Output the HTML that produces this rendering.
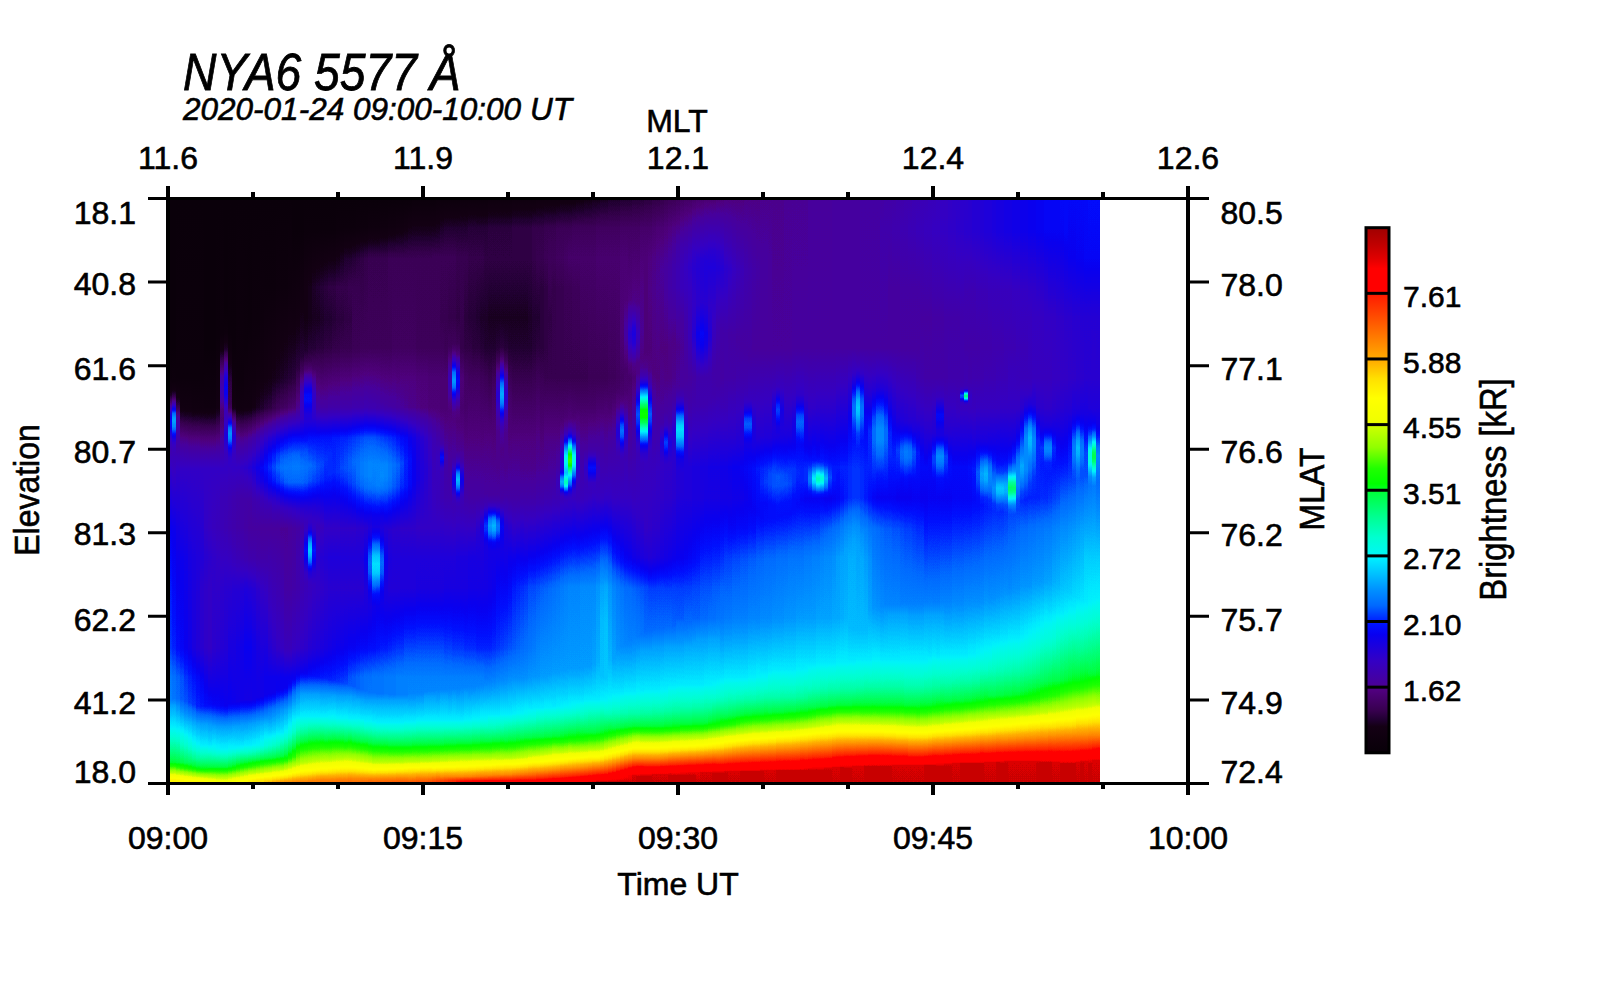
<!DOCTYPE html>
<html><head><meta charset="utf-8"><style>
html,body{margin:0;padding:0;background:#fff;width:1600px;height:1000px;overflow:hidden}
svg{position:absolute;left:0;top:0;display:block}
.t{font-family:"Liberation Sans",sans-serif;fill:#000;stroke:#000;stroke-width:0.6px}
.title{font-size:51.4px;font-style:italic;stroke:#000;stroke-width:0.8px}
.sub{font-size:32px;font-style:italic}
.ax{font-size:32px}
.cb{font-size:30px}
</style></head><body>
<svg width="1600" height="1000" viewBox="0 0 1600 1000" shape-rendering="crispEdges">
<defs><filter id="cm" x="0" y="0" width="1" height="1" color-interpolation-filters="sRGB"><feComponentTransfer><feFuncR type="table" tableValues="0.031 0.039 0.046 0.053 0.061 0.068 0.075 0.096 0.125 0.165 0.204 0.231 0.251 0.271 0.29 0.31 0.298 0.28 0.266 0.252 0.238 0.224 0.21 0.188 0.161 0.134 0.107 0.08 0.053 0.029 0.016 0.003 0 0 0 0 0 0 0 0 0 0 0 0 0 0 0 0 0 0 0 0 0 0 0 0 0 0 0 0 0 0 0 0 0 0 0.014 0.048 0.082 0.116 0.187 0.273 0.359 0.445 0.53 0.592 0.638 0.684 0.729 0.775 0.863 0.943 0.954 0.964 0.975 0.985 0.996 1 1 1 1 1 1 1 1 1 1 1 1 1 1 1 1 1 1 1 1 1 1 1 1 1 1 1 1 1 1 1 1 1 1 1 0.933 0.784 0.784 0.784 0.784 0.784 0.784"/><feFuncG type="table" tableValues="0 0 0 0 0 0 0 0 0 0 0 0 0 0 0 0 0 0 0 0 0 0 0 0 0 0 0 0 0 0.005 0.031 0.058 0.12 0.191 0.268 0.344 0.414 0.455 0.496 0.537 0.58 0.629 0.678 0.727 0.776 0.823 0.87 0.917 0.953 0.974 0.982 0.989 0.996 1 1 1 1 1 1 1 1 1 1 1 1 1 1 1 1 1 1 1 1 1 1 1 1 1 1 1 1 1 1 1 1 1 1 0.985 0.959 0.934 0.909 0.883 0.841 0.794 0.747 0.7 0.666 0.636 0.601 0.565 0.529 0.492 0.456 0.419 0.382 0.346 0.309 0.273 0.238 0.203 0.168 0.132 0.068 0 0 0 0 0 0 0 0 0 0 0 0 0 0 0 0"/><feFuncB type="table" tableValues="0.031 0.039 0.046 0.053 0.061 0.068 0.075 0.12 0.188 0.241 0.293 0.336 0.374 0.411 0.449 0.487 0.549 0.61 0.639 0.669 0.698 0.727 0.757 0.785 0.812 0.839 0.866 0.893 0.92 0.946 0.971 0.995 1 1 1 1 1 1 1 1 1 1 1 1 1 1 1 1 0.978 0.934 0.9 0.866 0.832 0.79 0.741 0.692 0.643 0.594 0.542 0.486 0.43 0.374 0.318 0.262 0.167 0.063 0 0 0 0 0 0 0 0 0 0 0 0 0 0 0 0 0 0 0 0 0 0 0 0 0 0 0 0 0 0 0 0 0 0 0 0 0 0 0 0 0 0 0 0 0 0 0 0 0 0 0 0 0 0 0 0 0 0 0 0 0 0 0"/></feComponentTransfer></filter><linearGradient id="c0" x2="0" y2="1"><stop offset="0.002551" stop-color="#030303"/><stop offset="0.256" stop-color="#030303"/><stop offset="0.3087" stop-color="#050505"/><stop offset="0.3257" stop-color="#090909"/><stop offset="0.3376" stop-color="#0f0f0f"/><stop offset="0.3495" stop-color="#1b1b1b"/><stop offset="0.3699" stop-color="#353535"/><stop offset="0.3818" stop-color="#3c3c3c"/><stop offset="0.3903" stop-color="#3a3a3a"/><stop offset="0.4175" stop-color="#2a2a2a"/><stop offset="0.4328" stop-color="#272727"/><stop offset="0.4617" stop-color="#2d2d2d"/><stop offset="0.5638" stop-color="#393939"/><stop offset="0.6641" stop-color="#3f3f3f"/><stop offset="0.7662" stop-color="#424242"/><stop offset="0.8172" stop-color="#4b4b4b"/><stop offset="0.8546" stop-color="#4c4c4c"/><stop offset="0.8648" stop-color="#525252"/><stop offset="0.9022" stop-color="#5f5f5f"/><stop offset="0.9617" stop-color="#7f7f7f"/><stop offset="0.9906" stop-color="#afafaf"/><stop offset="0.9974" stop-color="#afafaf"/></linearGradient><linearGradient id="c1" x2="0" y2="1"><stop offset="0.002551" stop-color="#030303"/><stop offset="0.256" stop-color="#030303"/><stop offset="0.3138" stop-color="#060606"/><stop offset="0.3274" stop-color="#0b0b0b"/><stop offset="0.3393" stop-color="#151515"/><stop offset="0.3495" stop-color="#242424"/><stop offset="0.3682" stop-color="#484848"/><stop offset="0.375" stop-color="#505050"/><stop offset="0.3801" stop-color="#525252"/><stop offset="0.3903" stop-color="#4e4e4e"/><stop offset="0.4073" stop-color="#383838"/><stop offset="0.4175" stop-color="#2e2e2e"/><stop offset="0.426" stop-color="#2a2a2a"/><stop offset="0.4345" stop-color="#282828"/><stop offset="0.5638" stop-color="#383838"/><stop offset="0.7662" stop-color="#404040"/><stop offset="0.8172" stop-color="#494949"/><stop offset="0.8529" stop-color="#4a4a4a"/><stop offset="0.8648" stop-color="#525252"/><stop offset="0.9022" stop-color="#5f5f5f"/><stop offset="0.9617" stop-color="#7f7f7f"/><stop offset="0.9906" stop-color="#afafaf"/><stop offset="0.9974" stop-color="#afafaf"/></linearGradient><linearGradient id="c2" x2="0" y2="1"><stop offset="0.002551" stop-color="#030303"/><stop offset="0.307" stop-color="#050505"/><stop offset="0.341" stop-color="#0c0c0c"/><stop offset="0.358" stop-color="#151515"/><stop offset="0.3733" stop-color="#212121"/><stop offset="0.3869" stop-color="#252525"/><stop offset="0.4243" stop-color="#252525"/><stop offset="0.4617" stop-color="#2d2d2d"/><stop offset="0.5638" stop-color="#363636"/><stop offset="0.7662" stop-color="#3d3d3d"/><stop offset="0.8172" stop-color="#474747"/><stop offset="0.8529" stop-color="#484848"/><stop offset="0.8648" stop-color="#4f4f4f"/><stop offset="0.9022" stop-color="#5e5e5e"/><stop offset="0.9617" stop-color="#7e7e7e"/><stop offset="0.9719" stop-color="#8d8d8d"/><stop offset="0.9906" stop-color="#aeaeae"/><stop offset="0.9974" stop-color="#afafaf"/></linearGradient><linearGradient id="c3" x2="0" y2="1"><stop offset="0.002551" stop-color="#030303"/><stop offset="0.3087" stop-color="#050505"/><stop offset="0.358" stop-color="#0a0a0a"/><stop offset="0.409" stop-color="#1f1f1f"/><stop offset="0.4617" stop-color="#2d2d2d"/><stop offset="0.6131" stop-color="#383838"/><stop offset="0.7662" stop-color="#3b3b3b"/><stop offset="0.8172" stop-color="#454545"/><stop offset="0.8546" stop-color="#464646"/><stop offset="0.9311" stop-color="#6a6a6a"/><stop offset="0.9617" stop-color="#7d7d7d"/><stop offset="0.9719" stop-color="#8b8b8b"/><stop offset="0.9906" stop-color="#adadad"/><stop offset="0.9974" stop-color="#afafaf"/></linearGradient><linearGradient id="c4" x2="0" y2="1"><stop offset="0.002551" stop-color="#030303"/><stop offset="0.3087" stop-color="#050505"/><stop offset="0.3597" stop-color="#0a0a0a"/><stop offset="0.4107" stop-color="#1f1f1f"/><stop offset="0.4617" stop-color="#2d2d2d"/><stop offset="0.6131" stop-color="#373737"/><stop offset="0.7662" stop-color="#393939"/><stop offset="0.8172" stop-color="#424242"/><stop offset="0.858" stop-color="#454545"/><stop offset="0.9311" stop-color="#686868"/><stop offset="0.9617" stop-color="#7b7b7b"/><stop offset="0.9719" stop-color="#898989"/><stop offset="0.9906" stop-color="#ababab"/><stop offset="0.9974" stop-color="#afafaf"/></linearGradient><linearGradient id="c5" x2="0" y2="1"><stop offset="0.002551" stop-color="#030303"/><stop offset="0.3087" stop-color="#050505"/><stop offset="0.3597" stop-color="#0a0a0a"/><stop offset="0.4107" stop-color="#1e1e1e"/><stop offset="0.4617" stop-color="#2d2d2d"/><stop offset="0.6131" stop-color="#353535"/><stop offset="0.7662" stop-color="#373737"/><stop offset="0.8172" stop-color="#404040"/><stop offset="0.8597" stop-color="#434343"/><stop offset="0.8937" stop-color="#555555"/><stop offset="0.9311" stop-color="#656565"/><stop offset="0.9617" stop-color="#7a7a7a"/><stop offset="0.9719" stop-color="#878787"/><stop offset="0.9906" stop-color="#aaaaaa"/><stop offset="0.994" stop-color="#aeaeae"/><stop offset="0.9974" stop-color="#afafaf"/></linearGradient><linearGradient id="c6" x2="0" y2="1"><stop offset="0.002551" stop-color="#030303"/><stop offset="0.3087" stop-color="#050505"/><stop offset="0.3597" stop-color="#090909"/><stop offset="0.4107" stop-color="#1e1e1e"/><stop offset="0.4617" stop-color="#2d2d2d"/><stop offset="0.6131" stop-color="#343434"/><stop offset="0.7662" stop-color="#343434"/><stop offset="0.8172" stop-color="#3e3e3e"/><stop offset="0.8631" stop-color="#424242"/><stop offset="0.8937" stop-color="#535353"/><stop offset="0.9311" stop-color="#626262"/><stop offset="0.9549" stop-color="#737373"/><stop offset="0.9702" stop-color="#828282"/><stop offset="0.9906" stop-color="#a8a8a8"/><stop offset="0.994" stop-color="#aeaeae"/><stop offset="0.9974" stop-color="#afafaf"/></linearGradient><linearGradient id="c7" x2="0" y2="1"><stop offset="0.002551" stop-color="#030303"/><stop offset="0.3087" stop-color="#050505"/><stop offset="0.3597" stop-color="#090909"/><stop offset="0.4107" stop-color="#1e1e1e"/><stop offset="0.4617" stop-color="#2d2d2d"/><stop offset="0.6131" stop-color="#333333"/><stop offset="0.7662" stop-color="#323232"/><stop offset="0.8172" stop-color="#3c3c3c"/><stop offset="0.8665" stop-color="#404040"/><stop offset="0.8954" stop-color="#525252"/><stop offset="0.9311" stop-color="#606060"/><stop offset="0.9549" stop-color="#717171"/><stop offset="0.9719" stop-color="#828282"/><stop offset="0.994" stop-color="#aeaeae"/><stop offset="0.9974" stop-color="#afafaf"/></linearGradient><linearGradient id="c8" x2="0" y2="1"><stop offset="0.002551" stop-color="#030303"/><stop offset="0.3087" stop-color="#050505"/><stop offset="0.3597" stop-color="#090909"/><stop offset="0.4107" stop-color="#1d1d1d"/><stop offset="0.4617" stop-color="#2d2d2d"/><stop offset="0.6131" stop-color="#323232"/><stop offset="0.6658" stop-color="#2f2f2f"/><stop offset="0.7662" stop-color="#303030"/><stop offset="0.8189" stop-color="#3a3a3a"/><stop offset="0.8665" stop-color="#3f3f3f"/><stop offset="0.8954" stop-color="#515151"/><stop offset="0.9328" stop-color="#5f5f5f"/><stop offset="0.9532" stop-color="#6f6f6f"/><stop offset="0.9719" stop-color="#818181"/><stop offset="0.994" stop-color="#adadad"/><stop offset="0.9974" stop-color="#afafaf"/></linearGradient><linearGradient id="c9" x2="0" y2="1"><stop offset="0.002551" stop-color="#030303"/><stop offset="0.256" stop-color="#030303"/><stop offset="0.358" stop-color="#080808"/><stop offset="0.4107" stop-color="#1d1d1d"/><stop offset="0.4617" stop-color="#2d2d2d"/><stop offset="0.5621" stop-color="#2d2d2d"/><stop offset="0.6131" stop-color="#303030"/><stop offset="0.6658" stop-color="#2e2e2e"/><stop offset="0.7662" stop-color="#2e2e2e"/><stop offset="0.8172" stop-color="#373737"/><stop offset="0.8648" stop-color="#3d3d3d"/><stop offset="0.8954" stop-color="#515151"/><stop offset="0.9328" stop-color="#5f5f5f"/><stop offset="0.9532" stop-color="#6f6f6f"/><stop offset="0.9719" stop-color="#818181"/><stop offset="0.994" stop-color="#ababab"/><stop offset="0.9974" stop-color="#aeaeae"/></linearGradient><linearGradient id="c10" x2="0" y2="1"><stop offset="0.002551" stop-color="#030303"/><stop offset="0.256" stop-color="#030303"/><stop offset="0.358" stop-color="#080808"/><stop offset="0.4107" stop-color="#1d1d1d"/><stop offset="0.4617" stop-color="#2d2d2d"/><stop offset="0.5621" stop-color="#2c2c2c"/><stop offset="0.6148" stop-color="#2f2f2f"/><stop offset="0.6658" stop-color="#2d2d2d"/><stop offset="0.7662" stop-color="#2d2d2d"/><stop offset="0.8631" stop-color="#3c3c3c"/><stop offset="0.8954" stop-color="#505050"/><stop offset="0.9311" stop-color="#5d5d5d"/><stop offset="0.9396" stop-color="#636363"/><stop offset="0.9702" stop-color="#7f7f7f"/><stop offset="0.994" stop-color="#a9a9a9"/><stop offset="0.9974" stop-color="#acacac"/></linearGradient><linearGradient id="c11" x2="0" y2="1"><stop offset="0.002551" stop-color="#030303"/><stop offset="0.256" stop-color="#030303"/><stop offset="0.358" stop-color="#080808"/><stop offset="0.4107" stop-color="#1d1d1d"/><stop offset="0.4617" stop-color="#2d2d2d"/><stop offset="0.5621" stop-color="#2b2b2b"/><stop offset="0.6148" stop-color="#2e2e2e"/><stop offset="0.7662" stop-color="#2f2f2f"/><stop offset="0.8631" stop-color="#3b3b3b"/><stop offset="0.9005" stop-color="#525252"/><stop offset="0.9396" stop-color="#626262"/><stop offset="0.9702" stop-color="#7f7f7f"/><stop offset="0.994" stop-color="#a8a8a8"/><stop offset="0.9974" stop-color="#ababab"/></linearGradient><linearGradient id="c12" x2="0" y2="1"><stop offset="0.002551" stop-color="#030303"/><stop offset="0.2389" stop-color="#040404"/><stop offset="0.358" stop-color="#0b0b0b"/><stop offset="0.4107" stop-color="#1e1e1e"/><stop offset="0.4617" stop-color="#2d2d2d"/><stop offset="0.5621" stop-color="#2a2a2a"/><stop offset="0.6148" stop-color="#2d2d2d"/><stop offset="0.7662" stop-color="#303030"/><stop offset="0.8648" stop-color="#3b3b3b"/><stop offset="0.9005" stop-color="#515151"/><stop offset="0.9396" stop-color="#616161"/><stop offset="0.9702" stop-color="#7f7f7f"/><stop offset="0.9872" stop-color="#9b9b9b"/><stop offset="0.9974" stop-color="#aaaaaa"/></linearGradient><linearGradient id="c13" x2="0" y2="1"><stop offset="0.002551" stop-color="#030303"/><stop offset="0.2321" stop-color="#050505"/><stop offset="0.2594" stop-color="#0b0b0b"/><stop offset="0.3053" stop-color="#232323"/><stop offset="0.324" stop-color="#272727"/><stop offset="0.3393" stop-color="#252525"/><stop offset="0.3614" stop-color="#1d1d1d"/><stop offset="0.3801" stop-color="#1b1b1b"/><stop offset="0.4617" stop-color="#2d2d2d"/><stop offset="0.5128" stop-color="#292929"/><stop offset="0.5638" stop-color="#292929"/><stop offset="0.6641" stop-color="#2f2f2f"/><stop offset="0.7662" stop-color="#313131"/><stop offset="0.8648" stop-color="#3a3a3a"/><stop offset="0.9005" stop-color="#515151"/><stop offset="0.9396" stop-color="#606060"/><stop offset="0.9702" stop-color="#7f7f7f"/><stop offset="0.9872" stop-color="#9b9b9b"/><stop offset="0.9974" stop-color="#a9a9a9"/></linearGradient><linearGradient id="c14" x2="0" y2="1"><stop offset="0.002551" stop-color="#030303"/><stop offset="0.1896" stop-color="#030303"/><stop offset="0.2321" stop-color="#060606"/><stop offset="0.2594" stop-color="#101010"/><stop offset="0.3053" stop-color="#333333"/><stop offset="0.324" stop-color="#3a3a3a"/><stop offset="0.3359" stop-color="#383838"/><stop offset="0.3597" stop-color="#2a2a2a"/><stop offset="0.3699" stop-color="#282828"/><stop offset="0.4056" stop-color="#333333"/><stop offset="0.4379" stop-color="#2a2a2a"/><stop offset="0.4617" stop-color="#2d2d2d"/><stop offset="0.5111" stop-color="#292929"/><stop offset="0.5621" stop-color="#282828"/><stop offset="0.6658" stop-color="#303030"/><stop offset="0.7679" stop-color="#323232"/><stop offset="0.8648" stop-color="#393939"/><stop offset="0.9005" stop-color="#515151"/><stop offset="0.9396" stop-color="#606060"/><stop offset="0.9702" stop-color="#7f7f7f"/><stop offset="0.9872" stop-color="#9b9b9b"/><stop offset="0.9974" stop-color="#a8a8a8"/></linearGradient><linearGradient id="c15" x2="0" y2="1"><stop offset="0.002551" stop-color="#030303"/><stop offset="0.2304" stop-color="#040404"/><stop offset="0.2594" stop-color="#070707"/><stop offset="0.3155" stop-color="#131313"/><stop offset="0.3512" stop-color="#151515"/><stop offset="0.358" stop-color="#171717"/><stop offset="0.3648" stop-color="#1d1d1d"/><stop offset="0.3733" stop-color="#292929"/><stop offset="0.392" stop-color="#484848"/><stop offset="0.3971" stop-color="#4d4d4d"/><stop offset="0.4022" stop-color="#505050"/><stop offset="0.4107" stop-color="#4c4c4c"/><stop offset="0.4311" stop-color="#353535"/><stop offset="0.443" stop-color="#2e2e2e"/><stop offset="0.5128" stop-color="#282828"/><stop offset="0.5638" stop-color="#272727"/><stop offset="0.6658" stop-color="#303030"/><stop offset="0.8614" stop-color="#393939"/><stop offset="0.9005" stop-color="#515151"/><stop offset="0.9396" stop-color="#616161"/><stop offset="0.9702" stop-color="#818181"/><stop offset="0.9872" stop-color="#9d9d9d"/><stop offset="0.9974" stop-color="#aaaaaa"/></linearGradient><linearGradient id="c16" x2="0" y2="1"><stop offset="0.002551" stop-color="#030303"/><stop offset="0.2526" stop-color="#040404"/><stop offset="0.3444" stop-color="#090909"/><stop offset="0.3597" stop-color="#0d0d0d"/><stop offset="0.392" stop-color="#2b2b2b"/><stop offset="0.4073" stop-color="#323232"/><stop offset="0.4379" stop-color="#2b2b2b"/><stop offset="0.4617" stop-color="#2d2d2d"/><stop offset="0.5128" stop-color="#272727"/><stop offset="0.5621" stop-color="#262626"/><stop offset="0.6131" stop-color="#2a2a2a"/><stop offset="0.6658" stop-color="#313131"/><stop offset="0.8597" stop-color="#383838"/><stop offset="0.9005" stop-color="#525252"/><stop offset="0.9379" stop-color="#606060"/><stop offset="0.9702" stop-color="#838383"/><stop offset="0.9872" stop-color="#9f9f9f"/><stop offset="0.9974" stop-color="#acacac"/></linearGradient><linearGradient id="c17" x2="0" y2="1"><stop offset="0.002551" stop-color="#030303"/><stop offset="0.3087" stop-color="#060606"/><stop offset="0.358" stop-color="#090909"/><stop offset="0.409" stop-color="#212121"/><stop offset="0.46" stop-color="#2d2d2d"/><stop offset="0.5128" stop-color="#262626"/><stop offset="0.5621" stop-color="#252525"/><stop offset="0.6131" stop-color="#292929"/><stop offset="0.6658" stop-color="#313131"/><stop offset="0.7662" stop-color="#363636"/><stop offset="0.858" stop-color="#373737"/><stop offset="0.9005" stop-color="#525252"/><stop offset="0.9311" stop-color="#5d5d5d"/><stop offset="0.9379" stop-color="#616161"/><stop offset="0.9702" stop-color="#868686"/><stop offset="0.9906" stop-color="#a6a6a6"/><stop offset="0.9974" stop-color="#aeaeae"/></linearGradient><linearGradient id="c18" x2="0" y2="1"><stop offset="0.002551" stop-color="#030303"/><stop offset="0.3087" stop-color="#060606"/><stop offset="0.3597" stop-color="#0a0a0a"/><stop offset="0.4107" stop-color="#202020"/><stop offset="0.46" stop-color="#2e2e2e"/><stop offset="0.5128" stop-color="#252525"/><stop offset="0.5621" stop-color="#252525"/><stop offset="0.6131" stop-color="#282828"/><stop offset="0.6658" stop-color="#323232"/><stop offset="0.7662" stop-color="#373737"/><stop offset="0.8563" stop-color="#373737"/><stop offset="0.8954" stop-color="#505050"/><stop offset="0.9311" stop-color="#5d5d5d"/><stop offset="0.9379" stop-color="#626262"/><stop offset="0.9702" stop-color="#888888"/><stop offset="0.9906" stop-color="#a8a8a8"/><stop offset="0.9974" stop-color="#afafaf"/></linearGradient><linearGradient id="c19" x2="0" y2="1"><stop offset="0.002551" stop-color="#030303"/><stop offset="0.256" stop-color="#050505"/><stop offset="0.358" stop-color="#0a0a0a"/><stop offset="0.4107" stop-color="#212121"/><stop offset="0.46" stop-color="#2f2f2f"/><stop offset="0.5128" stop-color="#252525"/><stop offset="0.5621" stop-color="#242424"/><stop offset="0.6131" stop-color="#272727"/><stop offset="0.6658" stop-color="#333333"/><stop offset="0.7662" stop-color="#393939"/><stop offset="0.8546" stop-color="#363636"/><stop offset="0.8954" stop-color="#505050"/><stop offset="0.9328" stop-color="#5f5f5f"/><stop offset="0.9464" stop-color="#6c6c6c"/><stop offset="0.9702" stop-color="#8a8a8a"/><stop offset="0.9906" stop-color="#aaaaaa"/><stop offset="0.9974" stop-color="#b1b1b1"/></linearGradient><linearGradient id="c20" x2="0" y2="1"><stop offset="0.002551" stop-color="#030303"/><stop offset="0.2066" stop-color="#040404"/><stop offset="0.358" stop-color="#0a0a0a"/><stop offset="0.4107" stop-color="#232323"/><stop offset="0.46" stop-color="#313131"/><stop offset="0.5128" stop-color="#252525"/><stop offset="0.5621" stop-color="#232323"/><stop offset="0.6131" stop-color="#262626"/><stop offset="0.6658" stop-color="#323232"/><stop offset="0.7662" stop-color="#393939"/><stop offset="0.8546" stop-color="#363636"/><stop offset="0.8954" stop-color="#515151"/><stop offset="0.9328" stop-color="#5f5f5f"/><stop offset="0.9464" stop-color="#6d6d6d"/><stop offset="0.9702" stop-color="#8c8c8c"/><stop offset="0.9906" stop-color="#adadad"/><stop offset="0.9974" stop-color="#b3b3b3"/></linearGradient><linearGradient id="c21" x2="0" y2="1"><stop offset="0.002551" stop-color="#030303"/><stop offset="0.2066" stop-color="#050505"/><stop offset="0.307" stop-color="#080808"/><stop offset="0.358" stop-color="#0c0c0c"/><stop offset="0.4107" stop-color="#252525"/><stop offset="0.46" stop-color="#343434"/><stop offset="0.5128" stop-color="#272727"/><stop offset="0.5638" stop-color="#232323"/><stop offset="0.6131" stop-color="#262626"/><stop offset="0.6658" stop-color="#313131"/><stop offset="0.7662" stop-color="#373737"/><stop offset="0.8546" stop-color="#373737"/><stop offset="0.8937" stop-color="#515151"/><stop offset="0.9328" stop-color="#606060"/><stop offset="0.9481" stop-color="#707070"/><stop offset="0.977" stop-color="#979797"/><stop offset="0.9906" stop-color="#afafaf"/><stop offset="0.9974" stop-color="#b5b5b5"/></linearGradient><linearGradient id="c22" x2="0" y2="1"><stop offset="0.002551" stop-color="#030303"/><stop offset="0.2066" stop-color="#050505"/><stop offset="0.307" stop-color="#090909"/><stop offset="0.358" stop-color="#0e0e0e"/><stop offset="0.4107" stop-color="#282828"/><stop offset="0.46" stop-color="#373737"/><stop offset="0.4821" stop-color="#333333"/><stop offset="0.5128" stop-color="#282828"/><stop offset="0.5638" stop-color="#232323"/><stop offset="0.6131" stop-color="#252525"/><stop offset="0.6658" stop-color="#2f2f2f"/><stop offset="0.7679" stop-color="#353535"/><stop offset="0.8512" stop-color="#373737"/><stop offset="0.8937" stop-color="#525252"/><stop offset="0.9328" stop-color="#616161"/><stop offset="0.9532" stop-color="#787878"/><stop offset="0.977" stop-color="#999999"/><stop offset="0.9906" stop-color="#b1b1b1"/><stop offset="0.9974" stop-color="#b6b6b6"/></linearGradient><linearGradient id="c23" x2="0" y2="1"><stop offset="0.002551" stop-color="#030303"/><stop offset="0.2066" stop-color="#060606"/><stop offset="0.307" stop-color="#0a0a0a"/><stop offset="0.3512" stop-color="#0f0f0f"/><stop offset="0.3597" stop-color="#101010"/><stop offset="0.4107" stop-color="#2b2b2b"/><stop offset="0.46" stop-color="#3b3b3b"/><stop offset="0.4821" stop-color="#363636"/><stop offset="0.5128" stop-color="#2a2a2a"/><stop offset="0.5638" stop-color="#222222"/><stop offset="0.6131" stop-color="#252525"/><stop offset="0.6658" stop-color="#2d2d2d"/><stop offset="0.8172" stop-color="#373737"/><stop offset="0.8495" stop-color="#373737"/><stop offset="0.8937" stop-color="#535353"/><stop offset="0.9328" stop-color="#636363"/><stop offset="0.9532" stop-color="#7a7a7a"/><stop offset="0.977" stop-color="#9a9a9a"/><stop offset="0.9906" stop-color="#b2b2b2"/><stop offset="0.9974" stop-color="#b8b8b8"/></linearGradient><linearGradient id="c24" x2="0" y2="1"><stop offset="0.002551" stop-color="#030303"/><stop offset="0.1556" stop-color="#050505"/><stop offset="0.307" stop-color="#0b0b0b"/><stop offset="0.341" stop-color="#0f0f0f"/><stop offset="0.3597" stop-color="#121212"/><stop offset="0.4107" stop-color="#2e2e2e"/><stop offset="0.4396" stop-color="#393939"/><stop offset="0.46" stop-color="#3e3e3e"/><stop offset="0.4821" stop-color="#393939"/><stop offset="0.5179" stop-color="#2a2a2a"/><stop offset="0.5638" stop-color="#222222"/><stop offset="0.6131" stop-color="#252525"/><stop offset="0.6658" stop-color="#2c2c2c"/><stop offset="0.8172" stop-color="#383838"/><stop offset="0.8461" stop-color="#383838"/><stop offset="0.8937" stop-color="#545454"/><stop offset="0.9328" stop-color="#666666"/><stop offset="0.9532" stop-color="#7b7b7b"/><stop offset="0.977" stop-color="#9c9c9c"/><stop offset="0.9906" stop-color="#b4b4b4"/><stop offset="0.9957" stop-color="#bbbbbb"/><stop offset="0.9974" stop-color="#bababa"/></linearGradient><linearGradient id="c25" x2="0" y2="1"><stop offset="0.002551" stop-color="#030303"/><stop offset="0.1556" stop-color="#050505"/><stop offset="0.307" stop-color="#0c0c0c"/><stop offset="0.3291" stop-color="#0e0e0e"/><stop offset="0.3597" stop-color="#131313"/><stop offset="0.4107" stop-color="#313131"/><stop offset="0.4379" stop-color="#3c3c3c"/><stop offset="0.46" stop-color="#414141"/><stop offset="0.4838" stop-color="#3c3c3c"/><stop offset="0.5247" stop-color="#292929"/><stop offset="0.5638" stop-color="#222222"/><stop offset="0.7662" stop-color="#313131"/><stop offset="0.8172" stop-color="#383838"/><stop offset="0.8444" stop-color="#383838"/><stop offset="0.8733" stop-color="#4a4a4a"/><stop offset="0.9107" stop-color="#5b5b5b"/><stop offset="0.9328" stop-color="#686868"/><stop offset="0.9532" stop-color="#7c7c7c"/><stop offset="0.977" stop-color="#9d9d9d"/><stop offset="0.9957" stop-color="#bdbdbd"/><stop offset="0.9974" stop-color="#bcbcbc"/></linearGradient><linearGradient id="c26" x2="0" y2="1"><stop offset="0.002551" stop-color="#030303"/><stop offset="0.1539" stop-color="#050505"/><stop offset="0.3087" stop-color="#0d0d0d"/><stop offset="0.3597" stop-color="#151515"/><stop offset="0.4107" stop-color="#333333"/><stop offset="0.4379" stop-color="#3f3f3f"/><stop offset="0.46" stop-color="#444444"/><stop offset="0.4838" stop-color="#3f3f3f"/><stop offset="0.5128" stop-color="#2f2f2f"/><stop offset="0.5281" stop-color="#2a2a2a"/><stop offset="0.5638" stop-color="#222222"/><stop offset="0.7662" stop-color="#2f2f2f"/><stop offset="0.8172" stop-color="#383838"/><stop offset="0.8427" stop-color="#383838"/><stop offset="0.8733" stop-color="#4c4c4c"/><stop offset="0.9107" stop-color="#5c5c5c"/><stop offset="0.9328" stop-color="#6a6a6a"/><stop offset="0.9532" stop-color="#7d7d7d"/><stop offset="0.977" stop-color="#9f9f9f"/><stop offset="0.9957" stop-color="#c0c0c0"/><stop offset="0.9974" stop-color="#bebebe"/></linearGradient><linearGradient id="c27" x2="0" y2="1"><stop offset="0.002551" stop-color="#030303"/><stop offset="0.1539" stop-color="#060606"/><stop offset="0.3087" stop-color="#0e0e0e"/><stop offset="0.3597" stop-color="#171717"/><stop offset="0.4107" stop-color="#363636"/><stop offset="0.4379" stop-color="#424242"/><stop offset="0.46" stop-color="#474747"/><stop offset="0.4855" stop-color="#414141"/><stop offset="0.5128" stop-color="#313131"/><stop offset="0.5315" stop-color="#292929"/><stop offset="0.5638" stop-color="#222222"/><stop offset="0.7662" stop-color="#2d2d2d"/><stop offset="0.8172" stop-color="#383838"/><stop offset="0.8393" stop-color="#393939"/><stop offset="0.8716" stop-color="#4d4d4d"/><stop offset="0.909" stop-color="#5d5d5d"/><stop offset="0.9328" stop-color="#6c6c6c"/><stop offset="0.9532" stop-color="#7f7f7f"/><stop offset="0.977" stop-color="#a0a0a0"/><stop offset="0.9957" stop-color="#c2c2c2"/><stop offset="0.9974" stop-color="#bfbfbf"/></linearGradient><linearGradient id="c28" x2="0" y2="1"><stop offset="0.002551" stop-color="#030303"/><stop offset="0.1539" stop-color="#060606"/><stop offset="0.3087" stop-color="#0f0f0f"/><stop offset="0.358" stop-color="#181818"/><stop offset="0.4141" stop-color="#3a3a3a"/><stop offset="0.4396" stop-color="#454545"/><stop offset="0.46" stop-color="#494949"/><stop offset="0.4838" stop-color="#444444"/><stop offset="0.5281" stop-color="#2c2c2c"/><stop offset="0.5638" stop-color="#212121"/><stop offset="0.7662" stop-color="#2c2c2c"/><stop offset="0.8172" stop-color="#393939"/><stop offset="0.8376" stop-color="#393939"/><stop offset="0.8733" stop-color="#505050"/><stop offset="0.9107" stop-color="#5e5e5e"/><stop offset="0.9515" stop-color="#7e7e7e"/><stop offset="0.9719" stop-color="#999999"/><stop offset="0.9838" stop-color="#adadad"/><stop offset="0.9957" stop-color="#c5c5c5"/><stop offset="0.9974" stop-color="#c1c1c1"/></linearGradient><linearGradient id="c29" x2="0" y2="1"><stop offset="0.002551" stop-color="#030303"/><stop offset="0.1539" stop-color="#060606"/><stop offset="0.3087" stop-color="#101010"/><stop offset="0.358" stop-color="#191919"/><stop offset="0.4141" stop-color="#3c3c3c"/><stop offset="0.4396" stop-color="#464646"/><stop offset="0.46" stop-color="#4a4a4a"/><stop offset="0.4855" stop-color="#464646"/><stop offset="0.5281" stop-color="#2d2d2d"/><stop offset="0.5638" stop-color="#212121"/><stop offset="0.6658" stop-color="#242424"/><stop offset="0.7679" stop-color="#2a2a2a"/><stop offset="0.8172" stop-color="#393939"/><stop offset="0.8342" stop-color="#393939"/><stop offset="0.8716" stop-color="#515151"/><stop offset="0.9107" stop-color="#616161"/><stop offset="0.9532" stop-color="#828282"/><stop offset="0.9787" stop-color="#a6a6a6"/><stop offset="0.9855" stop-color="#b2b2b2"/><stop offset="0.9957" stop-color="#c7c7c7"/><stop offset="0.9974" stop-color="#c3c3c3"/></linearGradient><linearGradient id="c30" x2="0" y2="1"><stop offset="0.002551" stop-color="#030303"/><stop offset="0.1539" stop-color="#070707"/><stop offset="0.3087" stop-color="#111111"/><stop offset="0.358" stop-color="#1b1b1b"/><stop offset="0.4107" stop-color="#3c3c3c"/><stop offset="0.4362" stop-color="#464646"/><stop offset="0.4583" stop-color="#4a4a4a"/><stop offset="0.4855" stop-color="#474747"/><stop offset="0.5298" stop-color="#2d2d2d"/><stop offset="0.5638" stop-color="#222222"/><stop offset="0.6658" stop-color="#242424"/><stop offset="0.7679" stop-color="#2a2a2a"/><stop offset="0.8172" stop-color="#393939"/><stop offset="0.8274" stop-color="#3a3a3a"/><stop offset="0.8716" stop-color="#545454"/><stop offset="0.9107" stop-color="#656565"/><stop offset="0.9532" stop-color="#878787"/><stop offset="0.9787" stop-color="#a8a8a8"/><stop offset="0.9957" stop-color="#c7c7c7"/><stop offset="0.9974" stop-color="#c3c3c3"/></linearGradient><linearGradient id="c31" x2="0" y2="1"><stop offset="0.002551" stop-color="#030303"/><stop offset="0.05357" stop-color="#030303"/><stop offset="0.2049" stop-color="#0a0a0a"/><stop offset="0.3087" stop-color="#121212"/><stop offset="0.358" stop-color="#1c1c1c"/><stop offset="0.4107" stop-color="#3d3d3d"/><stop offset="0.4379" stop-color="#474747"/><stop offset="0.4583" stop-color="#4b4b4b"/><stop offset="0.4855" stop-color="#474747"/><stop offset="0.5298" stop-color="#2e2e2e"/><stop offset="0.5638" stop-color="#232323"/><stop offset="0.6658" stop-color="#252525"/><stop offset="0.7679" stop-color="#2c2c2c"/><stop offset="0.8206" stop-color="#3a3a3a"/><stop offset="0.8461" stop-color="#4b4b4b"/><stop offset="0.909" stop-color="#696969"/><stop offset="0.9515" stop-color="#8a8a8a"/><stop offset="0.96" stop-color="#939393"/><stop offset="0.9787" stop-color="#ababab"/><stop offset="0.994" stop-color="#c6c6c6"/><stop offset="0.9957" stop-color="#c7c7c7"/><stop offset="0.9974" stop-color="#c3c3c3"/></linearGradient><linearGradient id="c32" x2="0" y2="1"><stop offset="0.002551" stop-color="#030303"/><stop offset="0.05357" stop-color="#030303"/><stop offset="0.2066" stop-color="#0b0b0b"/><stop offset="0.29" stop-color="#121212"/><stop offset="0.3597" stop-color="#212121"/><stop offset="0.3801" stop-color="#2b2b2b"/><stop offset="0.4107" stop-color="#3d3d3d"/><stop offset="0.4379" stop-color="#474747"/><stop offset="0.4583" stop-color="#4b4b4b"/><stop offset="0.4855" stop-color="#474747"/><stop offset="0.5298" stop-color="#2f2f2f"/><stop offset="0.5638" stop-color="#242424"/><stop offset="0.6148" stop-color="#272727"/><stop offset="0.6658" stop-color="#262626"/><stop offset="0.7679" stop-color="#2d2d2d"/><stop offset="0.8121" stop-color="#393939"/><stop offset="0.8444" stop-color="#4e4e4e"/><stop offset="0.8818" stop-color="#5d5d5d"/><stop offset="0.9073" stop-color="#6d6d6d"/><stop offset="0.96" stop-color="#969696"/><stop offset="0.9787" stop-color="#adadad"/><stop offset="0.994" stop-color="#c7c7c7"/><stop offset="0.9957" stop-color="#c7c7c7"/><stop offset="0.9974" stop-color="#c4c4c4"/></linearGradient><linearGradient id="c33" x2="0" y2="1"><stop offset="0.002551" stop-color="#030303"/><stop offset="0.05357" stop-color="#030303"/><stop offset="0.2713" stop-color="#111111"/><stop offset="0.2968" stop-color="#181818"/><stop offset="0.3342" stop-color="#2b2b2b"/><stop offset="0.3767" stop-color="#2d2d2d"/><stop offset="0.4226" stop-color="#424242"/><stop offset="0.4583" stop-color="#4a4a4a"/><stop offset="0.4855" stop-color="#474747"/><stop offset="0.5298" stop-color="#303030"/><stop offset="0.5621" stop-color="#262626"/><stop offset="0.6131" stop-color="#2a2a2a"/><stop offset="0.6658" stop-color="#282828"/><stop offset="0.7679" stop-color="#2e2e2e"/><stop offset="0.8087" stop-color="#393939"/><stop offset="0.8444" stop-color="#515151"/><stop offset="0.8835" stop-color="#5f5f5f"/><stop offset="0.909" stop-color="#707070"/><stop offset="0.96" stop-color="#999999"/><stop offset="0.9787" stop-color="#afafaf"/><stop offset="0.994" stop-color="#c8c8c8"/><stop offset="0.9974" stop-color="#c5c5c5"/></linearGradient><linearGradient id="c34" x2="0" y2="1"><stop offset="0.002551" stop-color="#030303"/><stop offset="0.05357" stop-color="#040404"/><stop offset="0.1539" stop-color="#0c0c0c"/><stop offset="0.2066" stop-color="#0c0c0c"/><stop offset="0.2611" stop-color="#101010"/><stop offset="0.2798" stop-color="#151515"/><stop offset="0.2934" stop-color="#1b1b1b"/><stop offset="0.3257" stop-color="#363636"/><stop offset="0.3359" stop-color="#3c3c3c"/><stop offset="0.3461" stop-color="#3d3d3d"/><stop offset="0.3699" stop-color="#333333"/><stop offset="0.3818" stop-color="#323232"/><stop offset="0.4294" stop-color="#444444"/><stop offset="0.46" stop-color="#494949"/><stop offset="0.4855" stop-color="#464646"/><stop offset="0.5281" stop-color="#313131"/><stop offset="0.5536" stop-color="#2a2a2a"/><stop offset="0.5638" stop-color="#2b2b2b"/><stop offset="0.591" stop-color="#3a3a3a"/><stop offset="0.6012" stop-color="#3d3d3d"/><stop offset="0.6131" stop-color="#3a3a3a"/><stop offset="0.6386" stop-color="#2d2d2d"/><stop offset="0.6573" stop-color="#292929"/><stop offset="0.7679" stop-color="#2f2f2f"/><stop offset="0.8104" stop-color="#3a3a3a"/><stop offset="0.8461" stop-color="#525252"/><stop offset="0.8835" stop-color="#5f5f5f"/><stop offset="0.909" stop-color="#717171"/><stop offset="0.96" stop-color="#9a9a9a"/><stop offset="0.9787" stop-color="#b0b0b0"/><stop offset="0.994" stop-color="#c8c8c8"/><stop offset="0.9974" stop-color="#c6c6c6"/></linearGradient><linearGradient id="c35" x2="0" y2="1"><stop offset="0.002551" stop-color="#030303"/><stop offset="0.05357" stop-color="#040404"/><stop offset="0.1539" stop-color="#0d0d0d"/><stop offset="0.2066" stop-color="#0d0d0d"/><stop offset="0.2577" stop-color="#111111"/><stop offset="0.2781" stop-color="#151515"/><stop offset="0.2917" stop-color="#1b1b1b"/><stop offset="0.3036" stop-color="#232323"/><stop offset="0.3257" stop-color="#373737"/><stop offset="0.3359" stop-color="#3c3c3c"/><stop offset="0.3461" stop-color="#3d3d3d"/><stop offset="0.3699" stop-color="#333333"/><stop offset="0.3818" stop-color="#323232"/><stop offset="0.4107" stop-color="#3e3e3e"/><stop offset="0.4566" stop-color="#484848"/><stop offset="0.4821" stop-color="#454545"/><stop offset="0.5298" stop-color="#313131"/><stop offset="0.5434" stop-color="#2d2d2d"/><stop offset="0.5536" stop-color="#2d2d2d"/><stop offset="0.5655" stop-color="#333333"/><stop offset="0.5893" stop-color="#535353"/><stop offset="0.5995" stop-color="#595959"/><stop offset="0.6046" stop-color="#585858"/><stop offset="0.6114" stop-color="#535353"/><stop offset="0.6369" stop-color="#343434"/><stop offset="0.6539" stop-color="#2c2c2c"/><stop offset="0.6709" stop-color="#2b2b2b"/><stop offset="0.7679" stop-color="#313131"/><stop offset="0.8121" stop-color="#3c3c3c"/><stop offset="0.8461" stop-color="#525252"/><stop offset="0.8835" stop-color="#5f5f5f"/><stop offset="0.9566" stop-color="#989898"/><stop offset="0.977" stop-color="#aeaeae"/><stop offset="0.9923" stop-color="#c7c7c7"/><stop offset="0.994" stop-color="#c9c9c9"/><stop offset="0.9974" stop-color="#c8c8c8"/></linearGradient><linearGradient id="c36" x2="0" y2="1"><stop offset="0.002551" stop-color="#030303"/><stop offset="0.05357" stop-color="#040404"/><stop offset="0.1539" stop-color="#0f0f0f"/><stop offset="0.2066" stop-color="#0e0e0e"/><stop offset="0.2577" stop-color="#111111"/><stop offset="0.2917" stop-color="#191919"/><stop offset="0.3342" stop-color="#2d2d2d"/><stop offset="0.375" stop-color="#2f2f2f"/><stop offset="0.4107" stop-color="#3e3e3e"/><stop offset="0.4583" stop-color="#474747"/><stop offset="0.4838" stop-color="#434343"/><stop offset="0.5264" stop-color="#323232"/><stop offset="0.5519" stop-color="#2c2c2c"/><stop offset="0.5638" stop-color="#2d2d2d"/><stop offset="0.5893" stop-color="#3b3b3b"/><stop offset="0.6012" stop-color="#3f3f3f"/><stop offset="0.6131" stop-color="#3c3c3c"/><stop offset="0.6386" stop-color="#303030"/><stop offset="0.6607" stop-color="#2c2c2c"/><stop offset="0.7679" stop-color="#323232"/><stop offset="0.8138" stop-color="#3d3d3d"/><stop offset="0.8461" stop-color="#525252"/><stop offset="0.8835" stop-color="#5f5f5f"/><stop offset="0.9566" stop-color="#999999"/><stop offset="0.9753" stop-color="#adadad"/><stop offset="0.9923" stop-color="#c8c8c8"/><stop offset="0.9974" stop-color="#c9c9c9"/></linearGradient><linearGradient id="c37" x2="0" y2="1"><stop offset="0.002551" stop-color="#030303"/><stop offset="0.05357" stop-color="#040404"/><stop offset="0.1539" stop-color="#101010"/><stop offset="0.2066" stop-color="#0e0e0e"/><stop offset="0.2577" stop-color="#121212"/><stop offset="0.3597" stop-color="#262626"/><stop offset="0.4107" stop-color="#3e3e3e"/><stop offset="0.4583" stop-color="#454545"/><stop offset="0.4821" stop-color="#424242"/><stop offset="0.5281" stop-color="#323232"/><stop offset="0.5621" stop-color="#2a2a2a"/><stop offset="0.6131" stop-color="#303030"/><stop offset="0.6658" stop-color="#2d2d2d"/><stop offset="0.7679" stop-color="#333333"/><stop offset="0.8155" stop-color="#3e3e3e"/><stop offset="0.8461" stop-color="#525252"/><stop offset="0.8835" stop-color="#5f5f5f"/><stop offset="0.9549" stop-color="#989898"/><stop offset="0.9753" stop-color="#aeaeae"/><stop offset="0.9906" stop-color="#c7c7c7"/><stop offset="0.9974" stop-color="#cbcbcb"/></linearGradient><linearGradient id="c38" x2="0" y2="1"><stop offset="0.002551" stop-color="#030303"/><stop offset="0.05357" stop-color="#040404"/><stop offset="0.1539" stop-color="#111111"/><stop offset="0.2066" stop-color="#0f0f0f"/><stop offset="0.2577" stop-color="#121212"/><stop offset="0.358" stop-color="#242424"/><stop offset="0.409" stop-color="#3e3e3e"/><stop offset="0.4549" stop-color="#444444"/><stop offset="0.4804" stop-color="#414141"/><stop offset="0.5281" stop-color="#333333"/><stop offset="0.5621" stop-color="#2b2b2b"/><stop offset="0.6131" stop-color="#313131"/><stop offset="0.6658" stop-color="#2e2e2e"/><stop offset="0.7679" stop-color="#343434"/><stop offset="0.8172" stop-color="#3f3f3f"/><stop offset="0.8461" stop-color="#515151"/><stop offset="0.8835" stop-color="#5f5f5f"/><stop offset="0.9549" stop-color="#999999"/><stop offset="0.9753" stop-color="#afafaf"/><stop offset="0.9906" stop-color="#c8c8c8"/><stop offset="0.9974" stop-color="#cccccc"/></linearGradient><linearGradient id="c39" x2="0" y2="1"><stop offset="0.002551" stop-color="#030303"/><stop offset="0.05357" stop-color="#040404"/><stop offset="0.1539" stop-color="#121212"/><stop offset="0.2066" stop-color="#101010"/><stop offset="0.2577" stop-color="#131313"/><stop offset="0.358" stop-color="#242424"/><stop offset="0.409" stop-color="#3e3e3e"/><stop offset="0.4464" stop-color="#424242"/><stop offset="0.477" stop-color="#404040"/><stop offset="0.5638" stop-color="#2d2d2d"/><stop offset="0.6131" stop-color="#323232"/><stop offset="0.6658" stop-color="#2f2f2f"/><stop offset="0.7662" stop-color="#353535"/><stop offset="0.8189" stop-color="#404040"/><stop offset="0.8461" stop-color="#515151"/><stop offset="0.8835" stop-color="#5f5f5f"/><stop offset="0.9243" stop-color="#7f7f7f"/><stop offset="0.9566" stop-color="#9b9b9b"/><stop offset="0.9753" stop-color="#afafaf"/><stop offset="0.9906" stop-color="#c8c8c8"/><stop offset="0.9974" stop-color="#cccccc"/></linearGradient><linearGradient id="c40" x2="0" y2="1"><stop offset="0.002551" stop-color="#030303"/><stop offset="0.05357" stop-color="#040404"/><stop offset="0.1539" stop-color="#131313"/><stop offset="0.2066" stop-color="#101010"/><stop offset="0.2577" stop-color="#131313"/><stop offset="0.358" stop-color="#252525"/><stop offset="0.409" stop-color="#3e3e3e"/><stop offset="0.4362" stop-color="#414141"/><stop offset="0.4719" stop-color="#414141"/><stop offset="0.5638" stop-color="#2d2d2d"/><stop offset="0.6131" stop-color="#333333"/><stop offset="0.6658" stop-color="#303030"/><stop offset="0.7662" stop-color="#363636"/><stop offset="0.8206" stop-color="#404040"/><stop offset="0.8461" stop-color="#515151"/><stop offset="0.8869" stop-color="#616161"/><stop offset="0.9549" stop-color="#999999"/><stop offset="0.9753" stop-color="#b0b0b0"/><stop offset="0.9906" stop-color="#c8c8c8"/><stop offset="0.9974" stop-color="#cdcdcd"/></linearGradient><linearGradient id="c41" x2="0" y2="1"><stop offset="0.002551" stop-color="#030303"/><stop offset="0.05357" stop-color="#040404"/><stop offset="0.1539" stop-color="#131313"/><stop offset="0.2066" stop-color="#111111"/><stop offset="0.2577" stop-color="#141414"/><stop offset="0.358" stop-color="#252525"/><stop offset="0.409" stop-color="#3f3f3f"/><stop offset="0.4294" stop-color="#404040"/><stop offset="0.4685" stop-color="#414141"/><stop offset="0.5638" stop-color="#2d2d2d"/><stop offset="0.6131" stop-color="#333333"/><stop offset="0.6658" stop-color="#303030"/><stop offset="0.7662" stop-color="#373737"/><stop offset="0.8223" stop-color="#414141"/><stop offset="0.8478" stop-color="#525252"/><stop offset="0.8869" stop-color="#616161"/><stop offset="0.9549" stop-color="#9a9a9a"/><stop offset="0.9753" stop-color="#b1b1b1"/><stop offset="0.9906" stop-color="#c8c8c8"/><stop offset="0.9974" stop-color="#cdcdcd"/></linearGradient><linearGradient id="c42" x2="0" y2="1"><stop offset="0.002551" stop-color="#030303"/><stop offset="0.05357" stop-color="#050505"/><stop offset="0.1539" stop-color="#141414"/><stop offset="0.2066" stop-color="#121212"/><stop offset="0.2577" stop-color="#141414"/><stop offset="0.358" stop-color="#252525"/><stop offset="0.409" stop-color="#3f3f3f"/><stop offset="0.4311" stop-color="#414141"/><stop offset="0.4685" stop-color="#424242"/><stop offset="0.5638" stop-color="#2d2d2d"/><stop offset="0.6131" stop-color="#333333"/><stop offset="0.6658" stop-color="#303030"/><stop offset="0.7662" stop-color="#383838"/><stop offset="0.824" stop-color="#424242"/><stop offset="0.8478" stop-color="#515151"/><stop offset="0.8869" stop-color="#606060"/><stop offset="0.9532" stop-color="#999999"/><stop offset="0.9736" stop-color="#afafaf"/><stop offset="0.9906" stop-color="#c9c9c9"/><stop offset="0.9974" stop-color="#cdcdcd"/></linearGradient><linearGradient id="c43" x2="0" y2="1"><stop offset="0.002551" stop-color="#030303"/><stop offset="0.05357" stop-color="#050505"/><stop offset="0.1029" stop-color="#0e0e0e"/><stop offset="0.1539" stop-color="#141414"/><stop offset="0.2066" stop-color="#121212"/><stop offset="0.2577" stop-color="#151515"/><stop offset="0.358" stop-color="#262626"/><stop offset="0.409" stop-color="#404040"/><stop offset="0.4379" stop-color="#424242"/><stop offset="0.46" stop-color="#444444"/><stop offset="0.4753" stop-color="#424242"/><stop offset="0.5638" stop-color="#2e2e2e"/><stop offset="0.6148" stop-color="#333333"/><stop offset="0.6658" stop-color="#303030"/><stop offset="0.7662" stop-color="#383838"/><stop offset="0.8257" stop-color="#434343"/><stop offset="0.8478" stop-color="#515151"/><stop offset="0.8869" stop-color="#606060"/><stop offset="0.9532" stop-color="#999999"/><stop offset="0.9736" stop-color="#b0b0b0"/><stop offset="0.9906" stop-color="#c9c9c9"/><stop offset="0.9974" stop-color="#cecece"/></linearGradient><linearGradient id="c44" x2="0" y2="1"><stop offset="0.002551" stop-color="#030303"/><stop offset="0.05187" stop-color="#050505"/><stop offset="0.1046" stop-color="#101010"/><stop offset="0.1539" stop-color="#141414"/><stop offset="0.2066" stop-color="#131313"/><stop offset="0.2577" stop-color="#151515"/><stop offset="0.358" stop-color="#262626"/><stop offset="0.409" stop-color="#404040"/><stop offset="0.443" stop-color="#444444"/><stop offset="0.4617" stop-color="#454545"/><stop offset="0.4804" stop-color="#424242"/><stop offset="0.5638" stop-color="#2e2e2e"/><stop offset="0.6148" stop-color="#333333"/><stop offset="0.6658" stop-color="#303030"/><stop offset="0.7662" stop-color="#393939"/><stop offset="0.8274" stop-color="#444444"/><stop offset="0.8495" stop-color="#525252"/><stop offset="0.8869" stop-color="#606060"/><stop offset="0.926" stop-color="#808080"/><stop offset="0.9532" stop-color="#9a9a9a"/><stop offset="0.9736" stop-color="#b0b0b0"/><stop offset="0.9906" stop-color="#c9c9c9"/><stop offset="0.9974" stop-color="#cecece"/></linearGradient><linearGradient id="c45" x2="0" y2="1"><stop offset="0.002551" stop-color="#030303"/><stop offset="0.05187" stop-color="#050505"/><stop offset="0.1046" stop-color="#101010"/><stop offset="0.1539" stop-color="#151515"/><stop offset="0.2066" stop-color="#131313"/><stop offset="0.2577" stop-color="#151515"/><stop offset="0.358" stop-color="#262626"/><stop offset="0.409" stop-color="#414141"/><stop offset="0.4481" stop-color="#464646"/><stop offset="0.4617" stop-color="#464646"/><stop offset="0.4855" stop-color="#434343"/><stop offset="0.5638" stop-color="#2e2e2e"/><stop offset="0.6148" stop-color="#333333"/><stop offset="0.6658" stop-color="#303030"/><stop offset="0.7662" stop-color="#3a3a3a"/><stop offset="0.8172" stop-color="#454545"/><stop offset="0.8308" stop-color="#464646"/><stop offset="0.8495" stop-color="#525252"/><stop offset="0.8869" stop-color="#5f5f5f"/><stop offset="0.9515" stop-color="#989898"/><stop offset="0.9719" stop-color="#aeaeae"/><stop offset="0.9889" stop-color="#c8c8c8"/><stop offset="0.9974" stop-color="#cfcfcf"/></linearGradient><linearGradient id="c46" x2="0" y2="1"><stop offset="0.002551" stop-color="#030303"/><stop offset="0.05187" stop-color="#050505"/><stop offset="0.1046" stop-color="#111111"/><stop offset="0.1539" stop-color="#151515"/><stop offset="0.2577" stop-color="#161616"/><stop offset="0.358" stop-color="#272727"/><stop offset="0.409" stop-color="#424242"/><stop offset="0.4515" stop-color="#484848"/><stop offset="0.4889" stop-color="#444444"/><stop offset="0.5638" stop-color="#2e2e2e"/><stop offset="0.6148" stop-color="#333333"/><stop offset="0.6658" stop-color="#303030"/><stop offset="0.7662" stop-color="#3a3a3a"/><stop offset="0.8172" stop-color="#464646"/><stop offset="0.8325" stop-color="#464646"/><stop offset="0.8495" stop-color="#515151"/><stop offset="0.8869" stop-color="#5f5f5f"/><stop offset="0.9243" stop-color="#7e7e7e"/><stop offset="0.96" stop-color="#a0a0a0"/><stop offset="0.9736" stop-color="#b0b0b0"/><stop offset="0.9889" stop-color="#c7c7c7"/><stop offset="0.9974" stop-color="#cfcfcf"/></linearGradient><linearGradient id="c47" x2="0" y2="1"><stop offset="0.002551" stop-color="#030303"/><stop offset="0.05357" stop-color="#060606"/><stop offset="0.1046" stop-color="#121212"/><stop offset="0.1539" stop-color="#151515"/><stop offset="0.2577" stop-color="#161616"/><stop offset="0.358" stop-color="#272727"/><stop offset="0.409" stop-color="#434343"/><stop offset="0.4515" stop-color="#494949"/><stop offset="0.4685" stop-color="#494949"/><stop offset="0.4906" stop-color="#464646"/><stop offset="0.5638" stop-color="#2f2f2f"/><stop offset="0.6148" stop-color="#333333"/><stop offset="0.6658" stop-color="#303030"/><stop offset="0.7662" stop-color="#3b3b3b"/><stop offset="0.8172" stop-color="#474747"/><stop offset="0.8359" stop-color="#474747"/><stop offset="0.8546" stop-color="#535353"/><stop offset="0.8869" stop-color="#5f5f5f"/><stop offset="0.9243" stop-color="#7d7d7d"/><stop offset="0.96" stop-color="#9f9f9f"/><stop offset="0.9736" stop-color="#afafaf"/><stop offset="0.9889" stop-color="#c7c7c7"/><stop offset="0.9974" stop-color="#cfcfcf"/></linearGradient><linearGradient id="c48" x2="0" y2="1"><stop offset="0.002551" stop-color="#030303"/><stop offset="0.05187" stop-color="#060606"/><stop offset="0.1046" stop-color="#131313"/><stop offset="0.2577" stop-color="#171717"/><stop offset="0.358" stop-color="#272727"/><stop offset="0.409" stop-color="#444444"/><stop offset="0.4532" stop-color="#4b4b4b"/><stop offset="0.4719" stop-color="#4b4b4b"/><stop offset="0.4923" stop-color="#474747"/><stop offset="0.5638" stop-color="#2f2f2f"/><stop offset="0.6148" stop-color="#343434"/><stop offset="0.6658" stop-color="#303030"/><stop offset="0.7662" stop-color="#3c3c3c"/><stop offset="0.8172" stop-color="#484848"/><stop offset="0.8376" stop-color="#484848"/><stop offset="0.8546" stop-color="#525252"/><stop offset="0.8869" stop-color="#5e5e5e"/><stop offset="0.9243" stop-color="#7c7c7c"/><stop offset="0.96" stop-color="#9e9e9e"/><stop offset="0.9753" stop-color="#b1b1b1"/><stop offset="0.9889" stop-color="#c7c7c7"/><stop offset="0.9974" stop-color="#d0d0d0"/></linearGradient><linearGradient id="c49" x2="0" y2="1"><stop offset="0.002551" stop-color="#030303"/><stop offset="0.05187" stop-color="#060606"/><stop offset="0.1046" stop-color="#141414"/><stop offset="0.2577" stop-color="#171717"/><stop offset="0.358" stop-color="#282828"/><stop offset="0.409" stop-color="#454545"/><stop offset="0.4532" stop-color="#4c4c4c"/><stop offset="0.4736" stop-color="#4c4c4c"/><stop offset="0.4923" stop-color="#494949"/><stop offset="0.5638" stop-color="#303030"/><stop offset="0.6148" stop-color="#393939"/><stop offset="0.6658" stop-color="#333333"/><stop offset="0.6964" stop-color="#343434"/><stop offset="0.7662" stop-color="#3c3c3c"/><stop offset="0.8172" stop-color="#494949"/><stop offset="0.8393" stop-color="#494949"/><stop offset="0.8563" stop-color="#525252"/><stop offset="0.892" stop-color="#606060"/><stop offset="0.926" stop-color="#7d7d7d"/><stop offset="0.96" stop-color="#9d9d9d"/><stop offset="0.9753" stop-color="#b0b0b0"/><stop offset="0.9889" stop-color="#c7c7c7"/><stop offset="0.9974" stop-color="#d0d0d0"/></linearGradient><linearGradient id="c50" x2="0" y2="1"><stop offset="0.002551" stop-color="#030303"/><stop offset="0.05187" stop-color="#070707"/><stop offset="0.1046" stop-color="#151515"/><stop offset="0.256" stop-color="#171717"/><stop offset="0.3427" stop-color="#252525"/><stop offset="0.3597" stop-color="#282828"/><stop offset="0.409" stop-color="#454545"/><stop offset="0.4532" stop-color="#4d4d4d"/><stop offset="0.4736" stop-color="#4d4d4d"/><stop offset="0.4923" stop-color="#4a4a4a"/><stop offset="0.5434" stop-color="#373737"/><stop offset="0.5621" stop-color="#333333"/><stop offset="0.5757" stop-color="#363636"/><stop offset="0.6097" stop-color="#464646"/><stop offset="0.6216" stop-color="#484848"/><stop offset="0.6386" stop-color="#464646"/><stop offset="0.6726" stop-color="#383838"/><stop offset="0.6964" stop-color="#353535"/><stop offset="0.7662" stop-color="#3d3d3d"/><stop offset="0.8172" stop-color="#494949"/><stop offset="0.8427" stop-color="#4a4a4a"/><stop offset="0.8563" stop-color="#525252"/><stop offset="0.892" stop-color="#606060"/><stop offset="0.9311" stop-color="#808080"/><stop offset="0.96" stop-color="#9c9c9c"/><stop offset="0.9753" stop-color="#afafaf"/><stop offset="0.9906" stop-color="#cacaca"/><stop offset="0.9974" stop-color="#d1d1d1"/></linearGradient><linearGradient id="c51" x2="0" y2="1"><stop offset="0.002551" stop-color="#030303"/><stop offset="0.05187" stop-color="#070707"/><stop offset="0.1046" stop-color="#151515"/><stop offset="0.256" stop-color="#171717"/><stop offset="0.3444" stop-color="#252525"/><stop offset="0.3597" stop-color="#282828"/><stop offset="0.409" stop-color="#454545"/><stop offset="0.4549" stop-color="#4d4d4d"/><stop offset="0.4906" stop-color="#4b4b4b"/><stop offset="0.5434" stop-color="#383838"/><stop offset="0.5621" stop-color="#353535"/><stop offset="0.5791" stop-color="#3e3e3e"/><stop offset="0.6097" stop-color="#575757"/><stop offset="0.6233" stop-color="#5c5c5c"/><stop offset="0.6318" stop-color="#5b5b5b"/><stop offset="0.6403" stop-color="#585858"/><stop offset="0.676" stop-color="#3d3d3d"/><stop offset="0.6964" stop-color="#373737"/><stop offset="0.7662" stop-color="#3d3d3d"/><stop offset="0.8172" stop-color="#4a4a4a"/><stop offset="0.8427" stop-color="#4a4a4a"/><stop offset="0.8563" stop-color="#525252"/><stop offset="0.892" stop-color="#5f5f5f"/><stop offset="0.9311" stop-color="#7f7f7f"/><stop offset="0.96" stop-color="#9a9a9a"/><stop offset="0.9753" stop-color="#aeaeae"/><stop offset="0.9889" stop-color="#c7c7c7"/><stop offset="0.9974" stop-color="#d1d1d1"/></linearGradient><linearGradient id="c52" x2="0" y2="1"><stop offset="0.002551" stop-color="#030303"/><stop offset="0.05187" stop-color="#070707"/><stop offset="0.1046" stop-color="#151515"/><stop offset="0.256" stop-color="#171717"/><stop offset="0.3478" stop-color="#252525"/><stop offset="0.3597" stop-color="#272727"/><stop offset="0.409" stop-color="#444444"/><stop offset="0.4549" stop-color="#4d4d4d"/><stop offset="0.4906" stop-color="#4c4c4c"/><stop offset="0.5434" stop-color="#383838"/><stop offset="0.5621" stop-color="#353535"/><stop offset="0.5791" stop-color="#3e3e3e"/><stop offset="0.6097" stop-color="#575757"/><stop offset="0.6233" stop-color="#5c5c5c"/><stop offset="0.6318" stop-color="#5b5b5b"/><stop offset="0.6403" stop-color="#585858"/><stop offset="0.6658" stop-color="#434343"/><stop offset="0.676" stop-color="#3d3d3d"/><stop offset="0.6964" stop-color="#383838"/><stop offset="0.7662" stop-color="#3e3e3e"/><stop offset="0.8172" stop-color="#4a4a4a"/><stop offset="0.8444" stop-color="#4a4a4a"/><stop offset="0.8563" stop-color="#525252"/><stop offset="0.8937" stop-color="#5f5f5f"/><stop offset="0.9311" stop-color="#7f7f7f"/><stop offset="0.96" stop-color="#9a9a9a"/><stop offset="0.9753" stop-color="#afafaf"/><stop offset="0.9889" stop-color="#c7c7c7"/><stop offset="0.9974" stop-color="#d2d2d2"/></linearGradient><linearGradient id="c53" x2="0" y2="1"><stop offset="0.002551" stop-color="#030303"/><stop offset="0.05187" stop-color="#080808"/><stop offset="0.1046" stop-color="#151515"/><stop offset="0.256" stop-color="#171717"/><stop offset="0.3495" stop-color="#242424"/><stop offset="0.3597" stop-color="#272727"/><stop offset="0.409" stop-color="#434343"/><stop offset="0.4566" stop-color="#4d4d4d"/><stop offset="0.4753" stop-color="#4e4e4e"/><stop offset="0.4923" stop-color="#4b4b4b"/><stop offset="0.5434" stop-color="#373737"/><stop offset="0.5621" stop-color="#333333"/><stop offset="0.5757" stop-color="#363636"/><stop offset="0.6097" stop-color="#464646"/><stop offset="0.6216" stop-color="#484848"/><stop offset="0.6386" stop-color="#464646"/><stop offset="0.6709" stop-color="#393939"/><stop offset="0.693" stop-color="#373737"/><stop offset="0.7662" stop-color="#3f3f3f"/><stop offset="0.8172" stop-color="#4a4a4a"/><stop offset="0.8444" stop-color="#4a4a4a"/><stop offset="0.8563" stop-color="#525252"/><stop offset="0.8937" stop-color="#5f5f5f"/><stop offset="0.9328" stop-color="#808080"/><stop offset="0.96" stop-color="#9a9a9a"/><stop offset="0.9753" stop-color="#afafaf"/><stop offset="0.9889" stop-color="#c8c8c8"/><stop offset="0.9974" stop-color="#d2d2d2"/></linearGradient><linearGradient id="c54" x2="0" y2="1"><stop offset="0.002551" stop-color="#030303"/><stop offset="0.05187" stop-color="#080808"/><stop offset="0.1046" stop-color="#151515"/><stop offset="0.256" stop-color="#171717"/><stop offset="0.3529" stop-color="#242424"/><stop offset="0.3597" stop-color="#262626"/><stop offset="0.409" stop-color="#424242"/><stop offset="0.4566" stop-color="#4d4d4d"/><stop offset="0.4753" stop-color="#4d4d4d"/><stop offset="0.4923" stop-color="#4a4a4a"/><stop offset="0.5638" stop-color="#313131"/><stop offset="0.6148" stop-color="#393939"/><stop offset="0.6658" stop-color="#343434"/><stop offset="0.6845" stop-color="#353535"/><stop offset="0.7662" stop-color="#3f3f3f"/><stop offset="0.8172" stop-color="#4b4b4b"/><stop offset="0.8444" stop-color="#4b4b4b"/><stop offset="0.8563" stop-color="#525252"/><stop offset="0.8937" stop-color="#5f5f5f"/><stop offset="0.9328" stop-color="#808080"/><stop offset="0.96" stop-color="#9a9a9a"/><stop offset="0.9753" stop-color="#afafaf"/><stop offset="0.9889" stop-color="#c8c8c8"/><stop offset="0.9974" stop-color="#d3d3d3"/></linearGradient><linearGradient id="c55" x2="0" y2="1"><stop offset="0.002551" stop-color="#030303"/><stop offset="0.05187" stop-color="#090909"/><stop offset="0.1046" stop-color="#161616"/><stop offset="0.256" stop-color="#171717"/><stop offset="0.3563" stop-color="#242424"/><stop offset="0.409" stop-color="#414141"/><stop offset="0.4566" stop-color="#4b4b4b"/><stop offset="0.4753" stop-color="#4b4b4b"/><stop offset="0.4923" stop-color="#484848"/><stop offset="0.5655" stop-color="#303030"/><stop offset="0.6148" stop-color="#343434"/><stop offset="0.6658" stop-color="#323232"/><stop offset="0.7662" stop-color="#404040"/><stop offset="0.8172" stop-color="#4b4b4b"/><stop offset="0.8461" stop-color="#4b4b4b"/><stop offset="0.8563" stop-color="#525252"/><stop offset="0.8937" stop-color="#5f5f5f"/><stop offset="0.9328" stop-color="#7f7f7f"/><stop offset="0.96" stop-color="#9a9a9a"/><stop offset="0.9753" stop-color="#b0b0b0"/><stop offset="0.9889" stop-color="#c8c8c8"/><stop offset="0.9974" stop-color="#d3d3d3"/></linearGradient><linearGradient id="c56" x2="0" y2="1"><stop offset="0.002551" stop-color="#030303"/><stop offset="0.05187" stop-color="#090909"/><stop offset="0.1046" stop-color="#161616"/><stop offset="0.256" stop-color="#181818"/><stop offset="0.358" stop-color="#242424"/><stop offset="0.409" stop-color="#404040"/><stop offset="0.4566" stop-color="#494949"/><stop offset="0.4923" stop-color="#464646"/><stop offset="0.5655" stop-color="#2f2f2f"/><stop offset="0.6148" stop-color="#333333"/><stop offset="0.6658" stop-color="#323232"/><stop offset="0.7662" stop-color="#414141"/><stop offset="0.8172" stop-color="#4b4b4b"/><stop offset="0.8461" stop-color="#4b4b4b"/><stop offset="0.8563" stop-color="#525252"/><stop offset="0.8937" stop-color="#5f5f5f"/><stop offset="0.9328" stop-color="#7f7f7f"/><stop offset="0.96" stop-color="#9a9a9a"/><stop offset="0.9753" stop-color="#b0b0b0"/><stop offset="0.9889" stop-color="#c8c8c8"/><stop offset="0.9974" stop-color="#d4d4d4"/></linearGradient><linearGradient id="c57" x2="0" y2="1"><stop offset="0.002551" stop-color="#030303"/><stop offset="0.05187" stop-color="#0a0a0a"/><stop offset="0.1046" stop-color="#161616"/><stop offset="0.256" stop-color="#181818"/><stop offset="0.358" stop-color="#232323"/><stop offset="0.409" stop-color="#3e3e3e"/><stop offset="0.4566" stop-color="#474747"/><stop offset="0.4923" stop-color="#444444"/><stop offset="0.5638" stop-color="#2f2f2f"/><stop offset="0.6148" stop-color="#333333"/><stop offset="0.6658" stop-color="#323232"/><stop offset="0.7679" stop-color="#424242"/><stop offset="0.8172" stop-color="#4c4c4c"/><stop offset="0.8461" stop-color="#4c4c4c"/><stop offset="0.8563" stop-color="#525252"/><stop offset="0.8937" stop-color="#5f5f5f"/><stop offset="0.9328" stop-color="#7f7f7f"/><stop offset="0.96" stop-color="#9a9a9a"/><stop offset="0.9753" stop-color="#b1b1b1"/><stop offset="0.9889" stop-color="#c9c9c9"/><stop offset="0.9974" stop-color="#d4d4d4"/></linearGradient><linearGradient id="c58" x2="0" y2="1"><stop offset="0.002551" stop-color="#030303"/><stop offset="0.05187" stop-color="#0a0a0a"/><stop offset="0.1046" stop-color="#161616"/><stop offset="0.256" stop-color="#181818"/><stop offset="0.307" stop-color="#1e1e1e"/><stop offset="0.358" stop-color="#222222"/><stop offset="0.409" stop-color="#3c3c3c"/><stop offset="0.4532" stop-color="#444444"/><stop offset="0.4906" stop-color="#414141"/><stop offset="0.5638" stop-color="#2e2e2e"/><stop offset="0.6148" stop-color="#333333"/><stop offset="0.6658" stop-color="#333333"/><stop offset="0.7679" stop-color="#424242"/><stop offset="0.8172" stop-color="#4c4c4c"/><stop offset="0.8461" stop-color="#4c4c4c"/><stop offset="0.8563" stop-color="#525252"/><stop offset="0.8937" stop-color="#5f5f5f"/><stop offset="0.9328" stop-color="#7f7f7f"/><stop offset="0.96" stop-color="#9a9a9a"/><stop offset="0.9736" stop-color="#aeaeae"/><stop offset="0.9889" stop-color="#c9c9c9"/><stop offset="0.9974" stop-color="#d5d5d5"/></linearGradient><linearGradient id="c59" x2="0" y2="1"><stop offset="0.002551" stop-color="#030303"/><stop offset="0.05187" stop-color="#0b0b0b"/><stop offset="0.1046" stop-color="#161616"/><stop offset="0.256" stop-color="#181818"/><stop offset="0.307" stop-color="#1e1e1e"/><stop offset="0.358" stop-color="#212121"/><stop offset="0.409" stop-color="#3b3b3b"/><stop offset="0.4498" stop-color="#404040"/><stop offset="0.4906" stop-color="#3f3f3f"/><stop offset="0.5638" stop-color="#2e2e2e"/><stop offset="0.6148" stop-color="#333333"/><stop offset="0.6658" stop-color="#333333"/><stop offset="0.8172" stop-color="#4c4c4c"/><stop offset="0.8461" stop-color="#4c4c4c"/><stop offset="0.8563" stop-color="#525252"/><stop offset="0.892" stop-color="#5f5f5f"/><stop offset="0.9328" stop-color="#7f7f7f"/><stop offset="0.96" stop-color="#9b9b9b"/><stop offset="0.9736" stop-color="#afafaf"/><stop offset="0.9889" stop-color="#c9c9c9"/><stop offset="0.9974" stop-color="#d5d5d5"/></linearGradient><linearGradient id="c60" x2="0" y2="1"><stop offset="0.002551" stop-color="#030303"/><stop offset="0.1046" stop-color="#161616"/><stop offset="0.256" stop-color="#181818"/><stop offset="0.307" stop-color="#1e1e1e"/><stop offset="0.358" stop-color="#202020"/><stop offset="0.409" stop-color="#383838"/><stop offset="0.4464" stop-color="#3d3d3d"/><stop offset="0.4889" stop-color="#3c3c3c"/><stop offset="0.5638" stop-color="#2e2e2e"/><stop offset="0.6148" stop-color="#333333"/><stop offset="0.6658" stop-color="#333333"/><stop offset="0.8172" stop-color="#4c4c4c"/><stop offset="0.8444" stop-color="#4d4d4d"/><stop offset="0.892" stop-color="#5f5f5f"/><stop offset="0.9328" stop-color="#7f7f7f"/><stop offset="0.96" stop-color="#9b9b9b"/><stop offset="0.9974" stop-color="#d5d5d5"/></linearGradient><linearGradient id="c61" x2="0" y2="1"><stop offset="0.002551" stop-color="#040404"/><stop offset="0.1046" stop-color="#161616"/><stop offset="0.256" stop-color="#181818"/><stop offset="0.307" stop-color="#1e1e1e"/><stop offset="0.358" stop-color="#202020"/><stop offset="0.409" stop-color="#363636"/><stop offset="0.4413" stop-color="#393939"/><stop offset="0.4855" stop-color="#393939"/><stop offset="0.5638" stop-color="#2e2e2e"/><stop offset="0.6148" stop-color="#333333"/><stop offset="0.6658" stop-color="#333333"/><stop offset="0.8172" stop-color="#4c4c4c"/><stop offset="0.8444" stop-color="#4d4d4d"/><stop offset="0.892" stop-color="#5f5f5f"/><stop offset="0.9328" stop-color="#808080"/><stop offset="0.96" stop-color="#9b9b9b"/><stop offset="0.9974" stop-color="#d6d6d6"/></linearGradient><linearGradient id="c62" x2="0" y2="1"><stop offset="0.002551" stop-color="#040404"/><stop offset="0.1046" stop-color="#161616"/><stop offset="0.256" stop-color="#171717"/><stop offset="0.307" stop-color="#1d1d1d"/><stop offset="0.358" stop-color="#1f1f1f"/><stop offset="0.409" stop-color="#333333"/><stop offset="0.4328" stop-color="#353535"/><stop offset="0.4804" stop-color="#363636"/><stop offset="0.5638" stop-color="#2d2d2d"/><stop offset="0.6148" stop-color="#333333"/><stop offset="0.6658" stop-color="#343434"/><stop offset="0.8172" stop-color="#4c4c4c"/><stop offset="0.8427" stop-color="#4d4d4d"/><stop offset="0.8903" stop-color="#5f5f5f"/><stop offset="0.9328" stop-color="#808080"/><stop offset="0.9583" stop-color="#999999"/><stop offset="0.9736" stop-color="#b0b0b0"/><stop offset="0.9872" stop-color="#c8c8c8"/><stop offset="0.9974" stop-color="#d6d6d6"/></linearGradient><linearGradient id="c63" x2="0" y2="1"><stop offset="0.002551" stop-color="#040404"/><stop offset="0.1046" stop-color="#161616"/><stop offset="0.256" stop-color="#171717"/><stop offset="0.307" stop-color="#1d1d1d"/><stop offset="0.358" stop-color="#1e1e1e"/><stop offset="0.409" stop-color="#303030"/><stop offset="0.4362" stop-color="#323232"/><stop offset="0.4787" stop-color="#333333"/><stop offset="0.5621" stop-color="#2d2d2d"/><stop offset="0.6148" stop-color="#333333"/><stop offset="0.6641" stop-color="#343434"/><stop offset="0.8172" stop-color="#4c4c4c"/><stop offset="0.8427" stop-color="#4d4d4d"/><stop offset="0.8903" stop-color="#5f5f5f"/><stop offset="0.9328" stop-color="#808080"/><stop offset="0.9583" stop-color="#9a9a9a"/><stop offset="0.9974" stop-color="#d7d7d7"/></linearGradient><linearGradient id="c64" x2="0" y2="1"><stop offset="0.002551" stop-color="#040404"/><stop offset="0.1046" stop-color="#161616"/><stop offset="0.256" stop-color="#171717"/><stop offset="0.307" stop-color="#1d1d1d"/><stop offset="0.358" stop-color="#1e1e1e"/><stop offset="0.4107" stop-color="#2e2e2e"/><stop offset="0.4668" stop-color="#313131"/><stop offset="0.5621" stop-color="#2d2d2d"/><stop offset="0.6148" stop-color="#333333"/><stop offset="0.6641" stop-color="#343434"/><stop offset="0.8172" stop-color="#4c4c4c"/><stop offset="0.841" stop-color="#4d4d4d"/><stop offset="0.8478" stop-color="#515151"/><stop offset="0.8903" stop-color="#5f5f5f"/><stop offset="0.9328" stop-color="#808080"/><stop offset="0.9583" stop-color="#9a9a9a"/><stop offset="0.9974" stop-color="#d7d7d7"/></linearGradient><linearGradient id="c65" x2="0" y2="1"><stop offset="0.002551" stop-color="#040404"/><stop offset="0.1046" stop-color="#161616"/><stop offset="0.256" stop-color="#171717"/><stop offset="0.307" stop-color="#1c1c1c"/><stop offset="0.358" stop-color="#1d1d1d"/><stop offset="0.4107" stop-color="#2b2b2b"/><stop offset="0.4617" stop-color="#2e2e2e"/><stop offset="0.5621" stop-color="#2d2d2d"/><stop offset="0.6148" stop-color="#333333"/><stop offset="0.6641" stop-color="#343434"/><stop offset="0.8172" stop-color="#4c4c4c"/><stop offset="0.8393" stop-color="#4d4d4d"/><stop offset="0.8478" stop-color="#515151"/><stop offset="0.8903" stop-color="#5f5f5f"/><stop offset="0.9311" stop-color="#7f7f7f"/><stop offset="0.9583" stop-color="#9a9a9a"/><stop offset="0.9974" stop-color="#d8d8d8"/></linearGradient><linearGradient id="c66" x2="0" y2="1"><stop offset="0.002551" stop-color="#040404"/><stop offset="0.1029" stop-color="#161616"/><stop offset="0.256" stop-color="#171717"/><stop offset="0.307" stop-color="#1c1c1c"/><stop offset="0.358" stop-color="#1d1d1d"/><stop offset="0.4107" stop-color="#282828"/><stop offset="0.5621" stop-color="#2d2d2d"/><stop offset="0.6148" stop-color="#333333"/><stop offset="0.6641" stop-color="#343434"/><stop offset="0.8172" stop-color="#4c4c4c"/><stop offset="0.8393" stop-color="#4d4d4d"/><stop offset="0.8478" stop-color="#515151"/><stop offset="0.8903" stop-color="#5f5f5f"/><stop offset="0.9311" stop-color="#7f7f7f"/><stop offset="0.9583" stop-color="#9b9b9b"/><stop offset="0.9719" stop-color="#aeaeae"/><stop offset="0.9923" stop-color="#d2d2d2"/><stop offset="0.9974" stop-color="#d9d9d9"/></linearGradient><linearGradient id="c67" x2="0" y2="1"><stop offset="0.002551" stop-color="#050505"/><stop offset="0.1029" stop-color="#161616"/><stop offset="0.256" stop-color="#171717"/><stop offset="0.307" stop-color="#1c1c1c"/><stop offset="0.3597" stop-color="#1d1d1d"/><stop offset="0.443" stop-color="#2b2b2b"/><stop offset="0.5128" stop-color="#2a2a2a"/><stop offset="0.5621" stop-color="#2d2d2d"/><stop offset="0.6148" stop-color="#333333"/><stop offset="0.6641" stop-color="#343434"/><stop offset="0.8172" stop-color="#4c4c4c"/><stop offset="0.8376" stop-color="#4d4d4d"/><stop offset="0.8903" stop-color="#5f5f5f"/><stop offset="0.9311" stop-color="#7f7f7f"/><stop offset="0.9583" stop-color="#9b9b9b"/><stop offset="0.9719" stop-color="#afafaf"/><stop offset="0.9923" stop-color="#d4d4d4"/><stop offset="0.9974" stop-color="#dadada"/></linearGradient><linearGradient id="c68" x2="0" y2="1"><stop offset="0.002551" stop-color="#050505"/><stop offset="0.05187" stop-color="#0f0f0f"/><stop offset="0.1029" stop-color="#161616"/><stop offset="0.2066" stop-color="#151515"/><stop offset="0.256" stop-color="#171717"/><stop offset="0.3087" stop-color="#1c1c1c"/><stop offset="0.3597" stop-color="#1c1c1c"/><stop offset="0.4192" stop-color="#252525"/><stop offset="0.426" stop-color="#2a2a2a"/><stop offset="0.4379" stop-color="#393939"/><stop offset="0.443" stop-color="#3d3d3d"/><stop offset="0.4481" stop-color="#3b3b3b"/><stop offset="0.46" stop-color="#2d2d2d"/><stop offset="0.4668" stop-color="#292929"/><stop offset="0.5111" stop-color="#282828"/><stop offset="0.6131" stop-color="#333333"/><stop offset="0.6658" stop-color="#343434"/><stop offset="0.8172" stop-color="#4c4c4c"/><stop offset="0.8376" stop-color="#4d4d4d"/><stop offset="0.8478" stop-color="#525252"/><stop offset="0.8903" stop-color="#5f5f5f"/><stop offset="0.9311" stop-color="#7f7f7f"/><stop offset="0.9583" stop-color="#9c9c9c"/><stop offset="0.9719" stop-color="#afafaf"/><stop offset="0.9855" stop-color="#c6c6c6"/><stop offset="0.9923" stop-color="#d5d5d5"/><stop offset="0.9974" stop-color="#dbdbdb"/></linearGradient><linearGradient id="c69" x2="0" y2="1"><stop offset="0.002551" stop-color="#050505"/><stop offset="0.05187" stop-color="#101010"/><stop offset="0.1029" stop-color="#161616"/><stop offset="0.2049" stop-color="#151515"/><stop offset="0.256" stop-color="#161616"/><stop offset="0.3087" stop-color="#1c1c1c"/><stop offset="0.3597" stop-color="#1c1c1c"/><stop offset="0.4209" stop-color="#222222"/><stop offset="0.443" stop-color="#272727"/><stop offset="0.4668" stop-color="#252525"/><stop offset="0.5128" stop-color="#272727"/><stop offset="0.6131" stop-color="#333333"/><stop offset="0.6658" stop-color="#353535"/><stop offset="0.7679" stop-color="#434343"/><stop offset="0.8172" stop-color="#4c4c4c"/><stop offset="0.8376" stop-color="#4d4d4d"/><stop offset="0.8478" stop-color="#525252"/><stop offset="0.8903" stop-color="#5f5f5f"/><stop offset="0.9311" stop-color="#808080"/><stop offset="0.9566" stop-color="#9a9a9a"/><stop offset="0.9702" stop-color="#adadad"/><stop offset="0.9855" stop-color="#c7c7c7"/><stop offset="0.9923" stop-color="#d7d7d7"/><stop offset="0.9974" stop-color="#dcdcdc"/></linearGradient><linearGradient id="c70" x2="0" y2="1"><stop offset="0.002551" stop-color="#050505"/><stop offset="0.05187" stop-color="#101010"/><stop offset="0.1029" stop-color="#161616"/><stop offset="0.2049" stop-color="#141414"/><stop offset="0.2543" stop-color="#171717"/><stop offset="0.3087" stop-color="#292929"/><stop offset="0.3206" stop-color="#282828"/><stop offset="0.3495" stop-color="#1f1f1f"/><stop offset="0.3648" stop-color="#1d1d1d"/><stop offset="0.5128" stop-color="#272727"/><stop offset="0.6131" stop-color="#333333"/><stop offset="0.6658" stop-color="#353535"/><stop offset="0.7662" stop-color="#434343"/><stop offset="0.8172" stop-color="#4c4c4c"/><stop offset="0.8359" stop-color="#4d4d4d"/><stop offset="0.8903" stop-color="#5f5f5f"/><stop offset="0.9311" stop-color="#808080"/><stop offset="0.9549" stop-color="#999999"/><stop offset="0.9702" stop-color="#adadad"/><stop offset="0.9855" stop-color="#c7c7c7"/><stop offset="0.9923" stop-color="#d9d9d9"/><stop offset="0.9974" stop-color="#dedede"/></linearGradient><linearGradient id="c71" x2="0" y2="1"><stop offset="0.002551" stop-color="#050505"/><stop offset="0.05187" stop-color="#101010"/><stop offset="0.1029" stop-color="#161616"/><stop offset="0.2049" stop-color="#141414"/><stop offset="0.2491" stop-color="#171717"/><stop offset="0.2577" stop-color="#1a1a1a"/><stop offset="0.2679" stop-color="#212121"/><stop offset="0.2764" stop-color="#2b2b2b"/><stop offset="0.2985" stop-color="#494949"/><stop offset="0.3104" stop-color="#505050"/><stop offset="0.3155" stop-color="#4f4f4f"/><stop offset="0.3223" stop-color="#4a4a4a"/><stop offset="0.3461" stop-color="#2d2d2d"/><stop offset="0.3563" stop-color="#242424"/><stop offset="0.3665" stop-color="#1f1f1f"/><stop offset="0.3801" stop-color="#1e1e1e"/><stop offset="0.443" stop-color="#232323"/><stop offset="0.4549" stop-color="#292929"/><stop offset="0.4736" stop-color="#363636"/><stop offset="0.4804" stop-color="#383838"/><stop offset="0.4889" stop-color="#373737"/><stop offset="0.5111" stop-color="#2a2a2a"/><stop offset="0.5264" stop-color="#282828"/><stop offset="0.6131" stop-color="#333333"/><stop offset="0.6658" stop-color="#353535"/><stop offset="0.7662" stop-color="#424242"/><stop offset="0.8172" stop-color="#4c4c4c"/><stop offset="0.8359" stop-color="#4d4d4d"/><stop offset="0.8478" stop-color="#525252"/><stop offset="0.8903" stop-color="#5f5f5f"/><stop offset="0.9311" stop-color="#808080"/><stop offset="0.9549" stop-color="#999999"/><stop offset="0.9702" stop-color="#adadad"/><stop offset="0.9855" stop-color="#c7c7c7"/><stop offset="0.9923" stop-color="#dadada"/><stop offset="0.9974" stop-color="#dfdfdf"/></linearGradient><linearGradient id="c72" x2="0" y2="1"><stop offset="0.002551" stop-color="#050505"/><stop offset="0.05187" stop-color="#101010"/><stop offset="0.1029" stop-color="#151515"/><stop offset="0.2049" stop-color="#131313"/><stop offset="0.2491" stop-color="#161616"/><stop offset="0.2679" stop-color="#1d1d1d"/><stop offset="0.2985" stop-color="#373737"/><stop offset="0.3104" stop-color="#3c3c3c"/><stop offset="0.3223" stop-color="#393939"/><stop offset="0.3478" stop-color="#252525"/><stop offset="0.3614" stop-color="#1f1f1f"/><stop offset="0.3818" stop-color="#1d1d1d"/><stop offset="0.4311" stop-color="#212121"/><stop offset="0.4413" stop-color="#252525"/><stop offset="0.4498" stop-color="#2b2b2b"/><stop offset="0.4566" stop-color="#343434"/><stop offset="0.4719" stop-color="#4f4f4f"/><stop offset="0.4804" stop-color="#565656"/><stop offset="0.4889" stop-color="#515151"/><stop offset="0.5111" stop-color="#303030"/><stop offset="0.5196" stop-color="#2a2a2a"/><stop offset="0.5281" stop-color="#292929"/><stop offset="0.6131" stop-color="#343434"/><stop offset="0.6658" stop-color="#353535"/><stop offset="0.7662" stop-color="#424242"/><stop offset="0.8172" stop-color="#4c4c4c"/><stop offset="0.8359" stop-color="#4d4d4d"/><stop offset="0.8903" stop-color="#5f5f5f"/><stop offset="0.9294" stop-color="#7f7f7f"/><stop offset="0.9549" stop-color="#999999"/><stop offset="0.9702" stop-color="#aeaeae"/><stop offset="0.9855" stop-color="#c7c7c7"/><stop offset="0.9923" stop-color="#dcdcdc"/><stop offset="0.994" stop-color="#dfdfdf"/><stop offset="0.9974" stop-color="#e0e0e0"/></linearGradient><linearGradient id="c73" x2="0" y2="1"><stop offset="0.002551" stop-color="#060606"/><stop offset="0.05187" stop-color="#101010"/><stop offset="0.1029" stop-color="#151515"/><stop offset="0.2372" stop-color="#141414"/><stop offset="0.2577" stop-color="#141414"/><stop offset="0.3087" stop-color="#1d1d1d"/><stop offset="0.3597" stop-color="#1b1b1b"/><stop offset="0.4311" stop-color="#212121"/><stop offset="0.4498" stop-color="#252525"/><stop offset="0.4719" stop-color="#353535"/><stop offset="0.4804" stop-color="#383838"/><stop offset="0.4889" stop-color="#363636"/><stop offset="0.5111" stop-color="#292929"/><stop offset="0.5281" stop-color="#282828"/><stop offset="0.6131" stop-color="#343434"/><stop offset="0.6658" stop-color="#353535"/><stop offset="0.7662" stop-color="#424242"/><stop offset="0.8172" stop-color="#4c4c4c"/><stop offset="0.8342" stop-color="#4d4d4d"/><stop offset="0.8886" stop-color="#5e5e5e"/><stop offset="0.9294" stop-color="#7f7f7f"/><stop offset="0.9532" stop-color="#989898"/><stop offset="0.9702" stop-color="#aeaeae"/><stop offset="0.9855" stop-color="#c7c7c7"/><stop offset="0.9923" stop-color="#dedede"/><stop offset="0.994" stop-color="#e1e1e1"/><stop offset="0.9974" stop-color="#e1e1e1"/></linearGradient><linearGradient id="c74" x2="0" y2="1"><stop offset="0.002551" stop-color="#060606"/><stop offset="0.05187" stop-color="#101010"/><stop offset="0.1029" stop-color="#151515"/><stop offset="0.2049" stop-color="#121212"/><stop offset="0.256" stop-color="#131313"/><stop offset="0.307" stop-color="#191919"/><stop offset="0.358" stop-color="#1a1a1a"/><stop offset="0.5128" stop-color="#252525"/><stop offset="0.6131" stop-color="#343434"/><stop offset="0.6658" stop-color="#353535"/><stop offset="0.7662" stop-color="#414141"/><stop offset="0.8172" stop-color="#4c4c4c"/><stop offset="0.8342" stop-color="#4d4d4d"/><stop offset="0.8427" stop-color="#515151"/><stop offset="0.8886" stop-color="#5f5f5f"/><stop offset="0.9294" stop-color="#7f7f7f"/><stop offset="0.9532" stop-color="#989898"/><stop offset="0.9702" stop-color="#aeaeae"/><stop offset="0.9855" stop-color="#c8c8c8"/><stop offset="0.9923" stop-color="#dfdfdf"/><stop offset="0.994" stop-color="#e2e2e2"/><stop offset="0.9974" stop-color="#e2e2e2"/></linearGradient><linearGradient id="c75" x2="0" y2="1"><stop offset="0.002551" stop-color="#060606"/><stop offset="0.05187" stop-color="#111111"/><stop offset="0.1029" stop-color="#141414"/><stop offset="0.2049" stop-color="#111111"/><stop offset="0.256" stop-color="#131313"/><stop offset="0.3087" stop-color="#181818"/><stop offset="0.5111" stop-color="#242424"/><stop offset="0.6131" stop-color="#353535"/><stop offset="0.6658" stop-color="#363636"/><stop offset="0.7662" stop-color="#414141"/><stop offset="0.8172" stop-color="#4c4c4c"/><stop offset="0.8325" stop-color="#4d4d4d"/><stop offset="0.8886" stop-color="#5f5f5f"/><stop offset="0.9294" stop-color="#7f7f7f"/><stop offset="0.9532" stop-color="#989898"/><stop offset="0.9702" stop-color="#afafaf"/><stop offset="0.9855" stop-color="#c8c8c8"/><stop offset="0.9923" stop-color="#dfdfdf"/><stop offset="0.994" stop-color="#e2e2e2"/><stop offset="0.9974" stop-color="#e3e3e3"/></linearGradient><linearGradient id="c76" x2="0" y2="1"><stop offset="0.002551" stop-color="#060606"/><stop offset="0.05187" stop-color="#111111"/><stop offset="0.1029" stop-color="#141414"/><stop offset="0.2049" stop-color="#111111"/><stop offset="0.256" stop-color="#121212"/><stop offset="0.3087" stop-color="#181818"/><stop offset="0.5111" stop-color="#242424"/><stop offset="0.6131" stop-color="#353535"/><stop offset="0.6658" stop-color="#363636"/><stop offset="0.7662" stop-color="#414141"/><stop offset="0.8172" stop-color="#4c4c4c"/><stop offset="0.8325" stop-color="#4d4d4d"/><stop offset="0.8886" stop-color="#606060"/><stop offset="0.9294" stop-color="#808080"/><stop offset="0.9532" stop-color="#999999"/><stop offset="0.9702" stop-color="#afafaf"/><stop offset="0.9855" stop-color="#c9c9c9"/><stop offset="0.9923" stop-color="#e0e0e0"/><stop offset="0.994" stop-color="#e2e2e2"/><stop offset="0.9974" stop-color="#e3e3e3"/></linearGradient><linearGradient id="c77" x2="0" y2="1"><stop offset="0.002551" stop-color="#060606"/><stop offset="0.05357" stop-color="#111111"/><stop offset="0.1029" stop-color="#141414"/><stop offset="0.2049" stop-color="#101010"/><stop offset="0.256" stop-color="#121212"/><stop offset="0.3087" stop-color="#181818"/><stop offset="0.5111" stop-color="#242424"/><stop offset="0.5638" stop-color="#303030"/><stop offset="0.6148" stop-color="#353535"/><stop offset="0.6658" stop-color="#363636"/><stop offset="0.7662" stop-color="#404040"/><stop offset="0.8172" stop-color="#4c4c4c"/><stop offset="0.8308" stop-color="#4d4d4d"/><stop offset="0.8886" stop-color="#606060"/><stop offset="0.9294" stop-color="#808080"/><stop offset="0.9532" stop-color="#999999"/><stop offset="0.9702" stop-color="#b0b0b0"/><stop offset="0.9855" stop-color="#cacaca"/><stop offset="0.9923" stop-color="#e0e0e0"/><stop offset="0.994" stop-color="#e3e3e3"/><stop offset="0.9974" stop-color="#e3e3e3"/></linearGradient><linearGradient id="c78" x2="0" y2="1"><stop offset="0.002551" stop-color="#060606"/><stop offset="0.05357" stop-color="#111111"/><stop offset="0.1029" stop-color="#141414"/><stop offset="0.2049" stop-color="#0f0f0f"/><stop offset="0.256" stop-color="#111111"/><stop offset="0.3087" stop-color="#171717"/><stop offset="0.5094" stop-color="#242424"/><stop offset="0.5264" stop-color="#282828"/><stop offset="0.5604" stop-color="#353535"/><stop offset="0.591" stop-color="#333333"/><stop offset="0.6658" stop-color="#363636"/><stop offset="0.7662" stop-color="#404040"/><stop offset="0.8172" stop-color="#4c4c4c"/><stop offset="0.8291" stop-color="#4d4d4d"/><stop offset="0.8886" stop-color="#616161"/><stop offset="0.9294" stop-color="#818181"/><stop offset="0.9532" stop-color="#999999"/><stop offset="0.9702" stop-color="#b0b0b0"/><stop offset="0.9855" stop-color="#cbcbcb"/><stop offset="0.9923" stop-color="#e0e0e0"/><stop offset="0.9974" stop-color="#e3e3e3"/></linearGradient><linearGradient id="c79" x2="0" y2="1"><stop offset="0.002551" stop-color="#060606"/><stop offset="0.05357" stop-color="#111111"/><stop offset="0.1029" stop-color="#131313"/><stop offset="0.2049" stop-color="#0f0f0f"/><stop offset="0.256" stop-color="#101010"/><stop offset="0.307" stop-color="#161616"/><stop offset="0.409" stop-color="#1e1e1e"/><stop offset="0.5043" stop-color="#232323"/><stop offset="0.5247" stop-color="#292929"/><stop offset="0.5502" stop-color="#3e3e3e"/><stop offset="0.5587" stop-color="#424242"/><stop offset="0.5672" stop-color="#414141"/><stop offset="0.5842" stop-color="#383838"/><stop offset="0.5944" stop-color="#353535"/><stop offset="0.6641" stop-color="#363636"/><stop offset="0.7662" stop-color="#404040"/><stop offset="0.8274" stop-color="#4d4d4d"/><stop offset="0.8886" stop-color="#616161"/><stop offset="0.926" stop-color="#7e7e7e"/><stop offset="0.9515" stop-color="#979797"/><stop offset="0.9668" stop-color="#acacac"/><stop offset="0.9838" stop-color="#c8c8c8"/><stop offset="0.9872" stop-color="#d0d0d0"/><stop offset="0.9923" stop-color="#e1e1e1"/><stop offset="0.9974" stop-color="#e4e4e4"/></linearGradient><linearGradient id="c80" x2="0" y2="1"><stop offset="0.002551" stop-color="#070707"/><stop offset="0.05357" stop-color="#121212"/><stop offset="0.1046" stop-color="#131313"/><stop offset="0.2049" stop-color="#0e0e0e"/><stop offset="0.256" stop-color="#101010"/><stop offset="0.409" stop-color="#1e1e1e"/><stop offset="0.5077" stop-color="#232323"/><stop offset="0.5179" stop-color="#272727"/><stop offset="0.5264" stop-color="#2d2d2d"/><stop offset="0.5502" stop-color="#4c4c4c"/><stop offset="0.5587" stop-color="#515151"/><stop offset="0.5672" stop-color="#4e4e4e"/><stop offset="0.5876" stop-color="#3a3a3a"/><stop offset="0.6029" stop-color="#363636"/><stop offset="0.6641" stop-color="#373737"/><stop offset="0.7662" stop-color="#404040"/><stop offset="0.8257" stop-color="#4d4d4d"/><stop offset="0.8801" stop-color="#5e5e5e"/><stop offset="0.9039" stop-color="#6d6d6d"/><stop offset="0.926" stop-color="#7e7e7e"/><stop offset="0.9515" stop-color="#979797"/><stop offset="0.9668" stop-color="#acacac"/><stop offset="0.9838" stop-color="#c8c8c8"/><stop offset="0.9923" stop-color="#e1e1e1"/><stop offset="0.9974" stop-color="#e4e4e4"/></linearGradient><linearGradient id="c81" x2="0" y2="1"><stop offset="0.002551" stop-color="#070707"/><stop offset="0.05357" stop-color="#121212"/><stop offset="0.1046" stop-color="#131313"/><stop offset="0.2049" stop-color="#0e0e0e"/><stop offset="0.256" stop-color="#101010"/><stop offset="0.3291" stop-color="#191919"/><stop offset="0.506" stop-color="#232323"/><stop offset="0.5162" stop-color="#262626"/><stop offset="0.5264" stop-color="#2d2d2d"/><stop offset="0.5332" stop-color="#363636"/><stop offset="0.5502" stop-color="#505050"/><stop offset="0.5587" stop-color="#555555"/><stop offset="0.5672" stop-color="#525252"/><stop offset="0.5876" stop-color="#3b3b3b"/><stop offset="0.6029" stop-color="#363636"/><stop offset="0.6641" stop-color="#383838"/><stop offset="0.7662" stop-color="#414141"/><stop offset="0.824" stop-color="#4d4d4d"/><stop offset="0.8801" stop-color="#5e5e5e"/><stop offset="0.9039" stop-color="#6d6d6d"/><stop offset="0.926" stop-color="#7f7f7f"/><stop offset="0.9515" stop-color="#989898"/><stop offset="0.9668" stop-color="#adadad"/><stop offset="0.9838" stop-color="#c9c9c9"/><stop offset="0.9923" stop-color="#e1e1e1"/><stop offset="0.9974" stop-color="#e4e4e4"/></linearGradient><linearGradient id="c82" x2="0" y2="1"><stop offset="0.002551" stop-color="#070707"/><stop offset="0.05357" stop-color="#121212"/><stop offset="0.1046" stop-color="#131313"/><stop offset="0.2049" stop-color="#0e0e0e"/><stop offset="0.256" stop-color="#111111"/><stop offset="0.2781" stop-color="#171717"/><stop offset="0.3172" stop-color="#2b2b2b"/><stop offset="0.3342" stop-color="#303030"/><stop offset="0.3478" stop-color="#2f2f2f"/><stop offset="0.3801" stop-color="#232323"/><stop offset="0.3988" stop-color="#202020"/><stop offset="0.46" stop-color="#202020"/><stop offset="0.506" stop-color="#232323"/><stop offset="0.5162" stop-color="#262626"/><stop offset="0.5264" stop-color="#2c2c2c"/><stop offset="0.5502" stop-color="#454545"/><stop offset="0.5587" stop-color="#4a4a4a"/><stop offset="0.5672" stop-color="#484848"/><stop offset="0.5876" stop-color="#393939"/><stop offset="0.6029" stop-color="#363636"/><stop offset="0.7662" stop-color="#424242"/><stop offset="0.824" stop-color="#4e4e4e"/><stop offset="0.8801" stop-color="#5e5e5e"/><stop offset="0.9039" stop-color="#6e6e6e"/><stop offset="0.926" stop-color="#7f7f7f"/><stop offset="0.9549" stop-color="#9c9c9c"/><stop offset="0.9821" stop-color="#c6c6c6"/><stop offset="0.9855" stop-color="#cecece"/><stop offset="0.9923" stop-color="#e1e1e1"/><stop offset="0.9974" stop-color="#e4e4e4"/></linearGradient><linearGradient id="c83" x2="0" y2="1"><stop offset="0.002551" stop-color="#070707"/><stop offset="0.05357" stop-color="#121212"/><stop offset="0.1046" stop-color="#131313"/><stop offset="0.2049" stop-color="#0e0e0e"/><stop offset="0.256" stop-color="#121212"/><stop offset="0.2679" stop-color="#171717"/><stop offset="0.2798" stop-color="#1f1f1f"/><stop offset="0.2917" stop-color="#2b2b2b"/><stop offset="0.3172" stop-color="#494949"/><stop offset="0.3257" stop-color="#505050"/><stop offset="0.3342" stop-color="#535353"/><stop offset="0.341" stop-color="#525252"/><stop offset="0.3495" stop-color="#4d4d4d"/><stop offset="0.3767" stop-color="#313131"/><stop offset="0.3903" stop-color="#272727"/><stop offset="0.4056" stop-color="#222222"/><stop offset="0.4311" stop-color="#1f1f1f"/><stop offset="0.5128" stop-color="#242424"/><stop offset="0.5264" stop-color="#292929"/><stop offset="0.5502" stop-color="#383838"/><stop offset="0.5604" stop-color="#3b3b3b"/><stop offset="0.5995" stop-color="#363636"/><stop offset="0.7662" stop-color="#434343"/><stop offset="0.8223" stop-color="#4e4e4e"/><stop offset="0.8801" stop-color="#5f5f5f"/><stop offset="0.9039" stop-color="#6e6e6e"/><stop offset="0.926" stop-color="#808080"/><stop offset="0.9549" stop-color="#9c9c9c"/><stop offset="0.9821" stop-color="#c6c6c6"/><stop offset="0.9923" stop-color="#e2e2e2"/><stop offset="0.9974" stop-color="#e5e5e5"/></linearGradient><linearGradient id="c84" x2="0" y2="1"><stop offset="0.002551" stop-color="#070707"/><stop offset="0.05357" stop-color="#121212"/><stop offset="0.1046" stop-color="#131313"/><stop offset="0.2049" stop-color="#0e0e0e"/><stop offset="0.256" stop-color="#111111"/><stop offset="0.2781" stop-color="#171717"/><stop offset="0.3172" stop-color="#2b2b2b"/><stop offset="0.3342" stop-color="#303030"/><stop offset="0.3478" stop-color="#2f2f2f"/><stop offset="0.3801" stop-color="#232323"/><stop offset="0.4005" stop-color="#202020"/><stop offset="0.46" stop-color="#202020"/><stop offset="0.5094" stop-color="#242424"/><stop offset="0.5621" stop-color="#323232"/><stop offset="0.7662" stop-color="#444444"/><stop offset="0.8206" stop-color="#4e4e4e"/><stop offset="0.8801" stop-color="#5f5f5f"/><stop offset="0.9243" stop-color="#7e7e7e"/><stop offset="0.9532" stop-color="#9a9a9a"/><stop offset="0.9821" stop-color="#c7c7c7"/><stop offset="0.9923" stop-color="#e2e2e2"/><stop offset="0.9974" stop-color="#e5e5e5"/></linearGradient><linearGradient id="c85" x2="0" y2="1"><stop offset="0.002551" stop-color="#070707"/><stop offset="0.05357" stop-color="#121212"/><stop offset="0.1046" stop-color="#131313"/><stop offset="0.2049" stop-color="#0e0e0e"/><stop offset="0.256" stop-color="#101010"/><stop offset="0.3342" stop-color="#191919"/><stop offset="0.5111" stop-color="#242424"/><stop offset="0.5621" stop-color="#303030"/><stop offset="0.6131" stop-color="#383838"/><stop offset="0.7662" stop-color="#454545"/><stop offset="0.8206" stop-color="#4f4f4f"/><stop offset="0.8801" stop-color="#5f5f5f"/><stop offset="0.9243" stop-color="#7f7f7f"/><stop offset="0.9532" stop-color="#9a9a9a"/><stop offset="0.9821" stop-color="#c7c7c7"/><stop offset="0.9923" stop-color="#e2e2e2"/><stop offset="0.9974" stop-color="#e5e5e5"/></linearGradient><linearGradient id="c86" x2="0" y2="1"><stop offset="0.002551" stop-color="#080808"/><stop offset="0.05357" stop-color="#131313"/><stop offset="0.1046" stop-color="#131313"/><stop offset="0.2049" stop-color="#0e0e0e"/><stop offset="0.256" stop-color="#101010"/><stop offset="0.409" stop-color="#1e1e1e"/><stop offset="0.5111" stop-color="#242424"/><stop offset="0.6148" stop-color="#383838"/><stop offset="0.6658" stop-color="#3f3f3f"/><stop offset="0.7662" stop-color="#464646"/><stop offset="0.8189" stop-color="#4f4f4f"/><stop offset="0.8784" stop-color="#5f5f5f"/><stop offset="0.9243" stop-color="#7f7f7f"/><stop offset="0.9532" stop-color="#9b9b9b"/><stop offset="0.9668" stop-color="#afafaf"/><stop offset="0.9821" stop-color="#c9c9c9"/><stop offset="0.9923" stop-color="#e2e2e2"/><stop offset="0.9974" stop-color="#e5e5e5"/></linearGradient><linearGradient id="c87" x2="0" y2="1"><stop offset="0.002551" stop-color="#080808"/><stop offset="0.05357" stop-color="#131313"/><stop offset="0.1046" stop-color="#131313"/><stop offset="0.2049" stop-color="#0e0e0e"/><stop offset="0.256" stop-color="#101010"/><stop offset="0.409" stop-color="#1e1e1e"/><stop offset="0.5111" stop-color="#242424"/><stop offset="0.6131" stop-color="#393939"/><stop offset="0.6641" stop-color="#404040"/><stop offset="0.7662" stop-color="#474747"/><stop offset="0.8189" stop-color="#4f4f4f"/><stop offset="0.8784" stop-color="#606060"/><stop offset="0.9243" stop-color="#808080"/><stop offset="0.9532" stop-color="#9c9c9c"/><stop offset="0.9668" stop-color="#b0b0b0"/><stop offset="0.9821" stop-color="#cacaca"/><stop offset="0.9923" stop-color="#e3e3e3"/><stop offset="0.9974" stop-color="#e6e6e6"/></linearGradient><linearGradient id="c88" x2="0" y2="1"><stop offset="0.002551" stop-color="#080808"/><stop offset="0.05357" stop-color="#131313"/><stop offset="0.1046" stop-color="#131313"/><stop offset="0.2049" stop-color="#0e0e0e"/><stop offset="0.256" stop-color="#101010"/><stop offset="0.409" stop-color="#1e1e1e"/><stop offset="0.4617" stop-color="#202020"/><stop offset="0.5128" stop-color="#252525"/><stop offset="0.5638" stop-color="#303030"/><stop offset="0.6641" stop-color="#414141"/><stop offset="0.7662" stop-color="#484848"/><stop offset="0.8189" stop-color="#4f4f4f"/><stop offset="0.8784" stop-color="#606060"/><stop offset="0.9192" stop-color="#7c7c7c"/><stop offset="0.9532" stop-color="#9d9d9d"/><stop offset="0.9668" stop-color="#b1b1b1"/><stop offset="0.9821" stop-color="#cbcbcb"/><stop offset="0.9923" stop-color="#e3e3e3"/><stop offset="0.9974" stop-color="#e6e6e6"/></linearGradient><linearGradient id="c89" x2="0" y2="1"><stop offset="0.002551" stop-color="#080808"/><stop offset="0.05357" stop-color="#131313"/><stop offset="0.1046" stop-color="#131313"/><stop offset="0.2049" stop-color="#0e0e0e"/><stop offset="0.256" stop-color="#101010"/><stop offset="0.409" stop-color="#1e1e1e"/><stop offset="0.4617" stop-color="#202020"/><stop offset="0.5128" stop-color="#252525"/><stop offset="0.6641" stop-color="#424242"/><stop offset="0.7662" stop-color="#494949"/><stop offset="0.8172" stop-color="#4f4f4f"/><stop offset="0.8784" stop-color="#616161"/><stop offset="0.9192" stop-color="#7d7d7d"/><stop offset="0.9532" stop-color="#9e9e9e"/><stop offset="0.9668" stop-color="#b2b2b2"/><stop offset="0.9821" stop-color="#cccccc"/><stop offset="0.9923" stop-color="#e3e3e3"/><stop offset="0.9974" stop-color="#e6e6e6"/></linearGradient><linearGradient id="c90" x2="0" y2="1"><stop offset="0.002551" stop-color="#080808"/><stop offset="0.05357" stop-color="#131313"/><stop offset="0.1046" stop-color="#131313"/><stop offset="0.2049" stop-color="#0f0f0f"/><stop offset="0.256" stop-color="#101010"/><stop offset="0.409" stop-color="#1e1e1e"/><stop offset="0.4617" stop-color="#202020"/><stop offset="0.5128" stop-color="#252525"/><stop offset="0.6641" stop-color="#444444"/><stop offset="0.7662" stop-color="#4a4a4a"/><stop offset="0.8172" stop-color="#505050"/><stop offset="0.8665" stop-color="#5d5d5d"/><stop offset="0.8784" stop-color="#626262"/><stop offset="0.9192" stop-color="#7d7d7d"/><stop offset="0.9515" stop-color="#9e9e9e"/><stop offset="0.96" stop-color="#a9a9a9"/><stop offset="0.9821" stop-color="#cdcdcd"/><stop offset="0.9923" stop-color="#e3e3e3"/><stop offset="0.9974" stop-color="#e6e6e6"/></linearGradient><linearGradient id="c91" x2="0" y2="1"><stop offset="0.002551" stop-color="#080808"/><stop offset="0.05357" stop-color="#141414"/><stop offset="0.1046" stop-color="#141414"/><stop offset="0.2049" stop-color="#101010"/><stop offset="0.256" stop-color="#111111"/><stop offset="0.409" stop-color="#1e1e1e"/><stop offset="0.4617" stop-color="#202020"/><stop offset="0.5128" stop-color="#252525"/><stop offset="0.6641" stop-color="#444444"/><stop offset="0.7662" stop-color="#4b4b4b"/><stop offset="0.8155" stop-color="#505050"/><stop offset="0.8682" stop-color="#5e5e5e"/><stop offset="0.8801" stop-color="#636363"/><stop offset="0.9192" stop-color="#7e7e7e"/><stop offset="0.943" stop-color="#959595"/><stop offset="0.96" stop-color="#aaaaaa"/><stop offset="0.9821" stop-color="#cecece"/><stop offset="0.9923" stop-color="#e3e3e3"/><stop offset="0.9974" stop-color="#e7e7e7"/></linearGradient><linearGradient id="c92" x2="0" y2="1"><stop offset="0.002551" stop-color="#090909"/><stop offset="0.05357" stop-color="#141414"/><stop offset="0.1046" stop-color="#151515"/><stop offset="0.2049" stop-color="#101010"/><stop offset="0.256" stop-color="#121212"/><stop offset="0.409" stop-color="#1f1f1f"/><stop offset="0.4617" stop-color="#212121"/><stop offset="0.5128" stop-color="#262626"/><stop offset="0.6641" stop-color="#454545"/><stop offset="0.8138" stop-color="#505050"/><stop offset="0.8682" stop-color="#5e5e5e"/><stop offset="0.9175" stop-color="#7d7d7d"/><stop offset="0.943" stop-color="#969696"/><stop offset="0.96" stop-color="#aaaaaa"/><stop offset="0.977" stop-color="#c6c6c6"/><stop offset="0.9906" stop-color="#e1e1e1"/><stop offset="0.9974" stop-color="#e7e7e7"/></linearGradient><linearGradient id="c93" x2="0" y2="1"><stop offset="0.002551" stop-color="#090909"/><stop offset="0.05357" stop-color="#141414"/><stop offset="0.1029" stop-color="#151515"/><stop offset="0.1556" stop-color="#121212"/><stop offset="0.256" stop-color="#121212"/><stop offset="0.4617" stop-color="#212121"/><stop offset="0.5128" stop-color="#262626"/><stop offset="0.6641" stop-color="#464646"/><stop offset="0.8138" stop-color="#515151"/><stop offset="0.8682" stop-color="#5e5e5e"/><stop offset="0.9175" stop-color="#7d7d7d"/><stop offset="0.943" stop-color="#979797"/><stop offset="0.96" stop-color="#ababab"/><stop offset="0.977" stop-color="#c7c7c7"/><stop offset="0.9906" stop-color="#e1e1e1"/><stop offset="0.9974" stop-color="#e7e7e7"/></linearGradient><linearGradient id="c94" x2="0" y2="1"><stop offset="0.002551" stop-color="#090909"/><stop offset="0.05357" stop-color="#151515"/><stop offset="0.1029" stop-color="#161616"/><stop offset="0.1556" stop-color="#131313"/><stop offset="0.2577" stop-color="#131313"/><stop offset="0.3087" stop-color="#151515"/><stop offset="0.409" stop-color="#1f1f1f"/><stop offset="0.4617" stop-color="#212121"/><stop offset="0.5128" stop-color="#272727"/><stop offset="0.6658" stop-color="#474747"/><stop offset="0.8138" stop-color="#515151"/><stop offset="0.8682" stop-color="#5f5f5f"/><stop offset="0.9175" stop-color="#7e7e7e"/><stop offset="0.9413" stop-color="#969696"/><stop offset="0.96" stop-color="#acacac"/><stop offset="0.977" stop-color="#c8c8c8"/><stop offset="0.9906" stop-color="#e2e2e2"/><stop offset="0.9974" stop-color="#e7e7e7"/></linearGradient><linearGradient id="c95" x2="0" y2="1"><stop offset="0.002551" stop-color="#090909"/><stop offset="0.05357" stop-color="#151515"/><stop offset="0.1046" stop-color="#171717"/><stop offset="0.2049" stop-color="#131313"/><stop offset="0.307" stop-color="#151515"/><stop offset="0.409" stop-color="#1f1f1f"/><stop offset="0.4617" stop-color="#222222"/><stop offset="0.5128" stop-color="#272727"/><stop offset="0.6658" stop-color="#484848"/><stop offset="0.8121" stop-color="#515151"/><stop offset="0.8682" stop-color="#5f5f5f"/><stop offset="0.9175" stop-color="#7e7e7e"/><stop offset="0.9413" stop-color="#979797"/><stop offset="0.96" stop-color="#adadad"/><stop offset="0.9753" stop-color="#c6c6c6"/><stop offset="0.9889" stop-color="#e0e0e0"/><stop offset="0.9974" stop-color="#e8e8e8"/></linearGradient><linearGradient id="c96" x2="0" y2="1"><stop offset="0.002551" stop-color="#090909"/><stop offset="0.05357" stop-color="#151515"/><stop offset="0.1029" stop-color="#171717"/><stop offset="0.1556" stop-color="#141414"/><stop offset="0.307" stop-color="#151515"/><stop offset="0.409" stop-color="#1f1f1f"/><stop offset="0.4617" stop-color="#222222"/><stop offset="0.5128" stop-color="#282828"/><stop offset="0.6658" stop-color="#494949"/><stop offset="0.807" stop-color="#515151"/><stop offset="0.8665" stop-color="#5e5e5e"/><stop offset="0.9175" stop-color="#7f7f7f"/><stop offset="0.96" stop-color="#aeaeae"/><stop offset="0.9753" stop-color="#c7c7c7"/><stop offset="0.9889" stop-color="#e1e1e1"/><stop offset="0.9974" stop-color="#e8e8e8"/></linearGradient><linearGradient id="c97" x2="0" y2="1"><stop offset="0.002551" stop-color="#090909"/><stop offset="0.05357" stop-color="#161616"/><stop offset="0.1029" stop-color="#181818"/><stop offset="0.1556" stop-color="#151515"/><stop offset="0.3087" stop-color="#151515"/><stop offset="0.46" stop-color="#242424"/><stop offset="0.4838" stop-color="#2a2a2a"/><stop offset="0.5128" stop-color="#282828"/><stop offset="0.6658" stop-color="#4a4a4a"/><stop offset="0.807" stop-color="#515151"/><stop offset="0.8665" stop-color="#5f5f5f"/><stop offset="0.9175" stop-color="#7f7f7f"/><stop offset="0.9413" stop-color="#999999"/><stop offset="0.96" stop-color="#afafaf"/><stop offset="0.9753" stop-color="#c8c8c8"/><stop offset="0.9889" stop-color="#e1e1e1"/><stop offset="0.9974" stop-color="#e9e9e9"/></linearGradient><linearGradient id="c98" x2="0" y2="1"><stop offset="0.002551" stop-color="#0a0a0a"/><stop offset="0.05357" stop-color="#161616"/><stop offset="0.1029" stop-color="#181818"/><stop offset="0.1556" stop-color="#151515"/><stop offset="0.307" stop-color="#151515"/><stop offset="0.3801" stop-color="#1c1c1c"/><stop offset="0.4022" stop-color="#212121"/><stop offset="0.4379" stop-color="#2f2f2f"/><stop offset="0.4617" stop-color="#323232"/><stop offset="0.4685" stop-color="#393939"/><stop offset="0.4787" stop-color="#4e4e4e"/><stop offset="0.4838" stop-color="#545454"/><stop offset="0.4889" stop-color="#505050"/><stop offset="0.4991" stop-color="#383838"/><stop offset="0.5043" stop-color="#2f2f2f"/><stop offset="0.5094" stop-color="#2b2b2b"/><stop offset="0.5145" stop-color="#2a2a2a"/><stop offset="0.6641" stop-color="#4b4b4b"/><stop offset="0.8053" stop-color="#515151"/><stop offset="0.8546" stop-color="#5c5c5c"/><stop offset="0.8682" stop-color="#606060"/><stop offset="0.9192" stop-color="#818181"/><stop offset="0.9413" stop-color="#999999"/><stop offset="0.96" stop-color="#b0b0b0"/><stop offset="0.9889" stop-color="#e2e2e2"/><stop offset="0.9974" stop-color="#eaeaea"/></linearGradient><linearGradient id="c99" x2="0" y2="1"><stop offset="0.002551" stop-color="#0a0a0a"/><stop offset="0.05357" stop-color="#161616"/><stop offset="0.1029" stop-color="#191919"/><stop offset="0.1556" stop-color="#161616"/><stop offset="0.307" stop-color="#151515"/><stop offset="0.375" stop-color="#1c1c1c"/><stop offset="0.3903" stop-color="#212121"/><stop offset="0.4022" stop-color="#2a2a2a"/><stop offset="0.4141" stop-color="#393939"/><stop offset="0.4328" stop-color="#575757"/><stop offset="0.4413" stop-color="#606060"/><stop offset="0.4498" stop-color="#626262"/><stop offset="0.4634" stop-color="#595959"/><stop offset="0.4685" stop-color="#575757"/><stop offset="0.4736" stop-color="#5c5c5c"/><stop offset="0.4804" stop-color="#696969"/><stop offset="0.4838" stop-color="#6c6c6c"/><stop offset="0.4872" stop-color="#6b6b6b"/><stop offset="0.4906" stop-color="#636363"/><stop offset="0.4991" stop-color="#444444"/><stop offset="0.5043" stop-color="#353535"/><stop offset="0.5094" stop-color="#2e2e2e"/><stop offset="0.5162" stop-color="#2b2b2b"/><stop offset="0.6641" stop-color="#4c4c4c"/><stop offset="0.8036" stop-color="#515151"/><stop offset="0.8546" stop-color="#5c5c5c"/><stop offset="0.8682" stop-color="#616161"/><stop offset="0.9192" stop-color="#828282"/><stop offset="0.9413" stop-color="#9a9a9a"/><stop offset="0.96" stop-color="#b1b1b1"/><stop offset="0.9889" stop-color="#e3e3e3"/><stop offset="0.994" stop-color="#e9e9e9"/><stop offset="0.9974" stop-color="#ebebeb"/></linearGradient><linearGradient id="c100" x2="0" y2="1"><stop offset="0.002551" stop-color="#0a0a0a"/><stop offset="0.05357" stop-color="#161616"/><stop offset="0.1029" stop-color="#1a1a1a"/><stop offset="0.1556" stop-color="#161616"/><stop offset="0.307" stop-color="#151515"/><stop offset="0.3767" stop-color="#1d1d1d"/><stop offset="0.3903" stop-color="#242424"/><stop offset="0.4022" stop-color="#313131"/><stop offset="0.4141" stop-color="#494949"/><stop offset="0.4345" stop-color="#7e7e7e"/><stop offset="0.4413" stop-color="#898989"/><stop offset="0.4464" stop-color="#8c8c8c"/><stop offset="0.4515" stop-color="#8b8b8b"/><stop offset="0.4566" stop-color="#848484"/><stop offset="0.4753" stop-color="#5c5c5c"/><stop offset="0.4991" stop-color="#373737"/><stop offset="0.506" stop-color="#2f2f2f"/><stop offset="0.5128" stop-color="#2c2c2c"/><stop offset="0.5298" stop-color="#2e2e2e"/><stop offset="0.6641" stop-color="#4d4d4d"/><stop offset="0.8019" stop-color="#515151"/><stop offset="0.8546" stop-color="#5d5d5d"/><stop offset="0.8682" stop-color="#616161"/><stop offset="0.9192" stop-color="#838383"/><stop offset="0.9549" stop-color="#ababab"/><stop offset="0.9702" stop-color="#c3c3c3"/><stop offset="0.9889" stop-color="#e4e4e4"/><stop offset="0.994" stop-color="#ebebeb"/><stop offset="0.9974" stop-color="#ececec"/></linearGradient><linearGradient id="c101" x2="0" y2="1"><stop offset="0.002551" stop-color="#0a0a0a"/><stop offset="0.05357" stop-color="#171717"/><stop offset="0.1029" stop-color="#1a1a1a"/><stop offset="0.1556" stop-color="#171717"/><stop offset="0.307" stop-color="#151515"/><stop offset="0.3733" stop-color="#1c1c1c"/><stop offset="0.3903" stop-color="#222222"/><stop offset="0.4022" stop-color="#2a2a2a"/><stop offset="0.4141" stop-color="#393939"/><stop offset="0.4345" stop-color="#5a5a5a"/><stop offset="0.4413" stop-color="#616161"/><stop offset="0.4464" stop-color="#636363"/><stop offset="0.4515" stop-color="#626262"/><stop offset="0.4583" stop-color="#5c5c5c"/><stop offset="0.4787" stop-color="#404040"/><stop offset="0.4889" stop-color="#353535"/><stop offset="0.4991" stop-color="#2e2e2e"/><stop offset="0.5111" stop-color="#2b2b2b"/><stop offset="0.6641" stop-color="#4d4d4d"/><stop offset="0.8019" stop-color="#515151"/><stop offset="0.8546" stop-color="#5d5d5d"/><stop offset="0.8682" stop-color="#626262"/><stop offset="0.9192" stop-color="#838383"/><stop offset="0.9379" stop-color="#979797"/><stop offset="0.9549" stop-color="#acacac"/><stop offset="0.9702" stop-color="#c4c4c4"/><stop offset="0.9906" stop-color="#e8e8e8"/><stop offset="0.994" stop-color="#ececec"/><stop offset="0.9974" stop-color="#ededed"/></linearGradient><linearGradient id="c102" x2="0" y2="1"><stop offset="0.002551" stop-color="#0b0b0b"/><stop offset="0.05357" stop-color="#171717"/><stop offset="0.1029" stop-color="#1a1a1a"/><stop offset="0.1556" stop-color="#171717"/><stop offset="0.307" stop-color="#151515"/><stop offset="0.358" stop-color="#1a1a1a"/><stop offset="0.3971" stop-color="#212121"/><stop offset="0.4447" stop-color="#313131"/><stop offset="0.4566" stop-color="#313131"/><stop offset="0.4889" stop-color="#2a2a2a"/><stop offset="0.5111" stop-color="#2a2a2a"/><stop offset="0.6641" stop-color="#4d4d4d"/><stop offset="0.8019" stop-color="#515151"/><stop offset="0.8546" stop-color="#5d5d5d"/><stop offset="0.8682" stop-color="#636363"/><stop offset="0.9192" stop-color="#848484"/><stop offset="0.9379" stop-color="#979797"/><stop offset="0.9549" stop-color="#adadad"/><stop offset="0.9702" stop-color="#c5c5c5"/><stop offset="0.9906" stop-color="#e9e9e9"/><stop offset="0.994" stop-color="#eeeeee"/><stop offset="0.9974" stop-color="#eeeeee"/></linearGradient><linearGradient id="c103" x2="0" y2="1"><stop offset="0.002551" stop-color="#0b0b0b"/><stop offset="0.05357" stop-color="#171717"/><stop offset="0.1029" stop-color="#1a1a1a"/><stop offset="0.307" stop-color="#151515"/><stop offset="0.358" stop-color="#1a1a1a"/><stop offset="0.4515" stop-color="#262626"/><stop offset="0.5111" stop-color="#2a2a2a"/><stop offset="0.6641" stop-color="#4e4e4e"/><stop offset="0.8002" stop-color="#515151"/><stop offset="0.8546" stop-color="#5d5d5d"/><stop offset="0.8852" stop-color="#6d6d6d"/><stop offset="0.9192" stop-color="#848484"/><stop offset="0.9379" stop-color="#989898"/><stop offset="0.9532" stop-color="#ababab"/><stop offset="0.9685" stop-color="#c3c3c3"/><stop offset="0.9906" stop-color="#eaeaea"/><stop offset="0.994" stop-color="#efefef"/><stop offset="0.9974" stop-color="#efefef"/></linearGradient><linearGradient id="c104" x2="0" y2="1"><stop offset="0.002551" stop-color="#0c0c0c"/><stop offset="0.05357" stop-color="#171717"/><stop offset="0.1029" stop-color="#1a1a1a"/><stop offset="0.307" stop-color="#151515"/><stop offset="0.358" stop-color="#1a1a1a"/><stop offset="0.4294" stop-color="#232323"/><stop offset="0.46" stop-color="#2e2e2e"/><stop offset="0.4872" stop-color="#292929"/><stop offset="0.5111" stop-color="#2b2b2b"/><stop offset="0.6641" stop-color="#4e4e4e"/><stop offset="0.7985" stop-color="#515151"/><stop offset="0.8546" stop-color="#5e5e5e"/><stop offset="0.8852" stop-color="#6e6e6e"/><stop offset="0.9107" stop-color="#7e7e7e"/><stop offset="0.9192" stop-color="#858585"/><stop offset="0.9379" stop-color="#989898"/><stop offset="0.9532" stop-color="#acacac"/><stop offset="0.9685" stop-color="#c4c4c4"/><stop offset="0.9906" stop-color="#ebebeb"/><stop offset="0.994" stop-color="#f0f0f0"/><stop offset="0.9974" stop-color="#f0f0f0"/></linearGradient><linearGradient id="c105" x2="0" y2="1"><stop offset="0.002551" stop-color="#0c0c0c"/><stop offset="0.05357" stop-color="#171717"/><stop offset="0.1029" stop-color="#1a1a1a"/><stop offset="0.307" stop-color="#161616"/><stop offset="0.358" stop-color="#1a1a1a"/><stop offset="0.4294" stop-color="#252525"/><stop offset="0.4379" stop-color="#2a2a2a"/><stop offset="0.4532" stop-color="#393939"/><stop offset="0.46" stop-color="#3d3d3d"/><stop offset="0.4668" stop-color="#3b3b3b"/><stop offset="0.4855" stop-color="#2c2c2c"/><stop offset="0.5026" stop-color="#2a2a2a"/><stop offset="0.6641" stop-color="#4e4e4e"/><stop offset="0.7968" stop-color="#515151"/><stop offset="0.8546" stop-color="#5e5e5e"/><stop offset="0.9107" stop-color="#7e7e7e"/><stop offset="0.9362" stop-color="#979797"/><stop offset="0.96" stop-color="#b7b7b7"/><stop offset="0.994" stop-color="#f2f2f2"/><stop offset="0.9974" stop-color="#f0f0f0"/></linearGradient><linearGradient id="c106" x2="0" y2="1"><stop offset="0.002551" stop-color="#0d0d0d"/><stop offset="0.05357" stop-color="#171717"/><stop offset="0.1029" stop-color="#1a1a1a"/><stop offset="0.307" stop-color="#161616"/><stop offset="0.358" stop-color="#1a1a1a"/><stop offset="0.4294" stop-color="#252525"/><stop offset="0.4379" stop-color="#2a2a2a"/><stop offset="0.4532" stop-color="#393939"/><stop offset="0.46" stop-color="#3d3d3d"/><stop offset="0.4668" stop-color="#3b3b3b"/><stop offset="0.4855" stop-color="#2c2c2c"/><stop offset="0.5026" stop-color="#2b2b2b"/><stop offset="0.6641" stop-color="#4e4e4e"/><stop offset="0.7934" stop-color="#525252"/><stop offset="0.8546" stop-color="#5e5e5e"/><stop offset="0.9107" stop-color="#7e7e7e"/><stop offset="0.9362" stop-color="#979797"/><stop offset="0.9549" stop-color="#b0b0b0"/><stop offset="0.994" stop-color="#f3f3f3"/><stop offset="0.9974" stop-color="#f1f1f1"/></linearGradient><linearGradient id="c107" x2="0" y2="1"><stop offset="0.002551" stop-color="#0d0d0d"/><stop offset="0.05357" stop-color="#181818"/><stop offset="0.1029" stop-color="#1b1b1b"/><stop offset="0.307" stop-color="#161616"/><stop offset="0.358" stop-color="#1b1b1b"/><stop offset="0.4311" stop-color="#252525"/><stop offset="0.46" stop-color="#2e2e2e"/><stop offset="0.4872" stop-color="#2a2a2a"/><stop offset="0.5111" stop-color="#2c2c2c"/><stop offset="0.6641" stop-color="#505050"/><stop offset="0.7917" stop-color="#545454"/><stop offset="0.8546" stop-color="#5e5e5e"/><stop offset="0.9107" stop-color="#7f7f7f"/><stop offset="0.9362" stop-color="#989898"/><stop offset="0.9549" stop-color="#b0b0b0"/><stop offset="0.994" stop-color="#f5f5f5"/><stop offset="0.9974" stop-color="#f2f2f2"/></linearGradient><linearGradient id="c108" x2="0" y2="1"><stop offset="0.002551" stop-color="#0e0e0e"/><stop offset="0.05357" stop-color="#181818"/><stop offset="0.1029" stop-color="#1b1b1b"/><stop offset="0.307" stop-color="#161616"/><stop offset="0.358" stop-color="#1b1b1b"/><stop offset="0.409" stop-color="#232323"/><stop offset="0.5111" stop-color="#2c2c2c"/><stop offset="0.6335" stop-color="#4c4c4c"/><stop offset="0.6641" stop-color="#525252"/><stop offset="0.7219" stop-color="#565656"/><stop offset="0.8138" stop-color="#575757"/><stop offset="0.8546" stop-color="#5f5f5f"/><stop offset="0.9107" stop-color="#808080"/><stop offset="0.9362" stop-color="#999999"/><stop offset="0.9549" stop-color="#b2b2b2"/><stop offset="0.994" stop-color="#f5f5f5"/><stop offset="0.9974" stop-color="#f3f3f3"/></linearGradient><linearGradient id="c109" x2="0" y2="1"><stop offset="0.002551" stop-color="#0e0e0e"/><stop offset="0.05357" stop-color="#181818"/><stop offset="0.1029" stop-color="#1b1b1b"/><stop offset="0.3087" stop-color="#161616"/><stop offset="0.5111" stop-color="#2d2d2d"/><stop offset="0.6641" stop-color="#535353"/><stop offset="0.7253" stop-color="#575757"/><stop offset="0.8172" stop-color="#585858"/><stop offset="0.8427" stop-color="#5d5d5d"/><stop offset="0.8563" stop-color="#606060"/><stop offset="0.8784" stop-color="#6c6c6c"/><stop offset="0.9124" stop-color="#838383"/><stop offset="0.9396" stop-color="#a0a0a0"/><stop offset="0.9549" stop-color="#b5b5b5"/><stop offset="0.994" stop-color="#f5f5f5"/><stop offset="0.9974" stop-color="#f3f3f3"/></linearGradient><linearGradient id="c110" x2="0" y2="1"><stop offset="0.002551" stop-color="#0f0f0f"/><stop offset="0.05357" stop-color="#181818"/><stop offset="0.1029" stop-color="#1b1b1b"/><stop offset="0.307" stop-color="#171717"/><stop offset="0.358" stop-color="#1b1b1b"/><stop offset="0.409" stop-color="#232323"/><stop offset="0.5128" stop-color="#2d2d2d"/><stop offset="0.6641" stop-color="#505050"/><stop offset="0.7866" stop-color="#555555"/><stop offset="0.841" stop-color="#5d5d5d"/><stop offset="0.8563" stop-color="#616161"/><stop offset="0.8784" stop-color="#6c6c6c"/><stop offset="0.9107" stop-color="#838383"/><stop offset="0.9396" stop-color="#a2a2a2"/><stop offset="0.9549" stop-color="#b7b7b7"/><stop offset="0.9855" stop-color="#eaeaea"/><stop offset="0.994" stop-color="#f5f5f5"/><stop offset="0.9974" stop-color="#f4f4f4"/></linearGradient><linearGradient id="c111" x2="0" y2="1"><stop offset="0.002551" stop-color="#0f0f0f"/><stop offset="0.05357" stop-color="#181818"/><stop offset="0.1029" stop-color="#1b1b1b"/><stop offset="0.307" stop-color="#171717"/><stop offset="0.341" stop-color="#1a1a1a"/><stop offset="0.409" stop-color="#242424"/><stop offset="0.5128" stop-color="#2c2c2c"/><stop offset="0.6131" stop-color="#404040"/><stop offset="0.6641" stop-color="#4d4d4d"/><stop offset="0.7849" stop-color="#525252"/><stop offset="0.841" stop-color="#5d5d5d"/><stop offset="0.8563" stop-color="#626262"/><stop offset="0.8801" stop-color="#6e6e6e"/><stop offset="0.9005" stop-color="#7b7b7b"/><stop offset="0.9107" stop-color="#848484"/><stop offset="0.9396" stop-color="#a4a4a4"/><stop offset="0.9549" stop-color="#bababa"/><stop offset="0.9855" stop-color="#ececec"/><stop offset="0.994" stop-color="#f5f5f5"/><stop offset="0.9974" stop-color="#f4f4f4"/></linearGradient><linearGradient id="c112" x2="0" y2="1"><stop offset="0.002551" stop-color="#0f0f0f"/><stop offset="0.05357" stop-color="#181818"/><stop offset="0.1029" stop-color="#1b1b1b"/><stop offset="0.307" stop-color="#181818"/><stop offset="0.3257" stop-color="#191919"/><stop offset="0.358" stop-color="#1f1f1f"/><stop offset="0.3869" stop-color="#2f2f2f"/><stop offset="0.3971" stop-color="#323232"/><stop offset="0.4073" stop-color="#313131"/><stop offset="0.4294" stop-color="#292929"/><stop offset="0.443" stop-color="#272727"/><stop offset="0.5111" stop-color="#2c2c2c"/><stop offset="0.6131" stop-color="#3e3e3e"/><stop offset="0.6641" stop-color="#4b4b4b"/><stop offset="0.7662" stop-color="#4f4f4f"/><stop offset="0.841" stop-color="#5d5d5d"/><stop offset="0.8563" stop-color="#626262"/><stop offset="0.8784" stop-color="#6d6d6d"/><stop offset="0.9022" stop-color="#7d7d7d"/><stop offset="0.9396" stop-color="#a6a6a6"/><stop offset="0.9549" stop-color="#bcbcbc"/><stop offset="0.9702" stop-color="#d7d7d7"/><stop offset="0.9838" stop-color="#ececec"/><stop offset="0.994" stop-color="#f5f5f5"/><stop offset="0.9974" stop-color="#f4f4f4"/></linearGradient><linearGradient id="c113" x2="0" y2="1"><stop offset="0.002551" stop-color="#101010"/><stop offset="0.05357" stop-color="#191919"/><stop offset="0.1029" stop-color="#1c1c1c"/><stop offset="0.2304" stop-color="#1d1d1d"/><stop offset="0.307" stop-color="#191919"/><stop offset="0.3359" stop-color="#1b1b1b"/><stop offset="0.3478" stop-color="#1e1e1e"/><stop offset="0.358" stop-color="#232323"/><stop offset="0.3682" stop-color="#2d2d2d"/><stop offset="0.3869" stop-color="#444444"/><stop offset="0.3971" stop-color="#494949"/><stop offset="0.4073" stop-color="#454545"/><stop offset="0.426" stop-color="#333333"/><stop offset="0.4362" stop-color="#2c2c2c"/><stop offset="0.4481" stop-color="#282828"/><stop offset="0.4634" stop-color="#282828"/><stop offset="0.5128" stop-color="#2c2c2c"/><stop offset="0.6131" stop-color="#3c3c3c"/><stop offset="0.6658" stop-color="#4a4a4a"/><stop offset="0.7628" stop-color="#4e4e4e"/><stop offset="0.841" stop-color="#5d5d5d"/><stop offset="0.8784" stop-color="#6e6e6e"/><stop offset="0.9022" stop-color="#7e7e7e"/><stop offset="0.9396" stop-color="#a8a8a8"/><stop offset="0.9549" stop-color="#bfbfbf"/><stop offset="0.9702" stop-color="#dadada"/><stop offset="0.9838" stop-color="#eeeeee"/><stop offset="0.994" stop-color="#f5f5f5"/><stop offset="0.9974" stop-color="#f4f4f4"/></linearGradient><linearGradient id="c114" x2="0" y2="1"><stop offset="0.002551" stop-color="#101010"/><stop offset="0.05357" stop-color="#191919"/><stop offset="0.1029" stop-color="#1c1c1c"/><stop offset="0.1743" stop-color="#1d1d1d"/><stop offset="0.2304" stop-color="#242424"/><stop offset="0.2934" stop-color="#1a1a1a"/><stop offset="0.3291" stop-color="#1b1b1b"/><stop offset="0.358" stop-color="#202020"/><stop offset="0.3869" stop-color="#2f2f2f"/><stop offset="0.3988" stop-color="#323232"/><stop offset="0.4413" stop-color="#282828"/><stop offset="0.5111" stop-color="#2c2c2c"/><stop offset="0.6131" stop-color="#3a3a3a"/><stop offset="0.6641" stop-color="#484848"/><stop offset="0.7594" stop-color="#4d4d4d"/><stop offset="0.841" stop-color="#5e5e5e"/><stop offset="0.8784" stop-color="#6e6e6e"/><stop offset="0.9022" stop-color="#7f7f7f"/><stop offset="0.9396" stop-color="#aaaaaa"/><stop offset="0.9549" stop-color="#c2c2c2"/><stop offset="0.9702" stop-color="#dddddd"/><stop offset="0.9838" stop-color="#f0f0f0"/><stop offset="0.994" stop-color="#f5f5f5"/><stop offset="0.9974" stop-color="#f5f5f5"/></linearGradient><linearGradient id="c115" x2="0" y2="1"><stop offset="0.002551" stop-color="#101010"/><stop offset="0.05357" stop-color="#191919"/><stop offset="0.1743" stop-color="#1e1e1e"/><stop offset="0.2321" stop-color="#303030"/><stop offset="0.2474" stop-color="#2e2e2e"/><stop offset="0.2849" stop-color="#1e1e1e"/><stop offset="0.3087" stop-color="#1a1a1a"/><stop offset="0.5128" stop-color="#2c2c2c"/><stop offset="0.6131" stop-color="#393939"/><stop offset="0.6658" stop-color="#484848"/><stop offset="0.7543" stop-color="#4c4c4c"/><stop offset="0.841" stop-color="#5e5e5e"/><stop offset="0.8784" stop-color="#6f6f6f"/><stop offset="0.9005" stop-color="#7e7e7e"/><stop offset="0.9396" stop-color="#adadad"/><stop offset="0.9549" stop-color="#c4c4c4"/><stop offset="0.9702" stop-color="#e0e0e0"/><stop offset="0.9838" stop-color="#f2f2f2"/><stop offset="0.9974" stop-color="#f5f5f5"/></linearGradient><linearGradient id="c116" x2="0" y2="1"><stop offset="0.002551" stop-color="#111111"/><stop offset="0.05357" stop-color="#191919"/><stop offset="0.1743" stop-color="#1f1f1f"/><stop offset="0.193" stop-color="#242424"/><stop offset="0.2219" stop-color="#323232"/><stop offset="0.2338" stop-color="#343434"/><stop offset="0.2491" stop-color="#313131"/><stop offset="0.2832" stop-color="#202020"/><stop offset="0.307" stop-color="#1c1c1c"/><stop offset="0.3716" stop-color="#242424"/><stop offset="0.426" stop-color="#262626"/><stop offset="0.5128" stop-color="#2b2b2b"/><stop offset="0.6131" stop-color="#373737"/><stop offset="0.6658" stop-color="#474747"/><stop offset="0.7509" stop-color="#4c4c4c"/><stop offset="0.841" stop-color="#5e5e5e"/><stop offset="0.8784" stop-color="#6f6f6f"/><stop offset="0.9005" stop-color="#7f7f7f"/><stop offset="0.9209" stop-color="#999999"/><stop offset="0.9396" stop-color="#afafaf"/><stop offset="0.9549" stop-color="#c7c7c7"/><stop offset="0.9702" stop-color="#e3e3e3"/><stop offset="0.9838" stop-color="#f4f4f4"/><stop offset="0.9974" stop-color="#f5f5f5"/></linearGradient><linearGradient id="c117" x2="0" y2="1"><stop offset="0.002551" stop-color="#111111"/><stop offset="0.05357" stop-color="#191919"/><stop offset="0.1777" stop-color="#1f1f1f"/><stop offset="0.2321" stop-color="#2b2b2b"/><stop offset="0.2474" stop-color="#292929"/><stop offset="0.2815" stop-color="#1f1f1f"/><stop offset="0.3002" stop-color="#1f1f1f"/><stop offset="0.3189" stop-color="#262626"/><stop offset="0.3563" stop-color="#414141"/><stop offset="0.3699" stop-color="#454545"/><stop offset="0.3852" stop-color="#414141"/><stop offset="0.4175" stop-color="#2e2e2e"/><stop offset="0.4362" stop-color="#292929"/><stop offset="0.4889" stop-color="#2a2a2a"/><stop offset="0.5621" stop-color="#2f2f2f"/><stop offset="0.6131" stop-color="#363636"/><stop offset="0.6658" stop-color="#464646"/><stop offset="0.7474" stop-color="#4b4b4b"/><stop offset="0.7713" stop-color="#515151"/><stop offset="0.841" stop-color="#5f5f5f"/><stop offset="0.8784" stop-color="#6f6f6f"/><stop offset="0.9005" stop-color="#7f7f7f"/><stop offset="0.9209" stop-color="#9a9a9a"/><stop offset="0.9396" stop-color="#afafaf"/><stop offset="0.9549" stop-color="#c7c7c7"/><stop offset="0.9685" stop-color="#e1e1e1"/><stop offset="0.9821" stop-color="#f2f2f2"/><stop offset="0.9855" stop-color="#f5f5f5"/><stop offset="0.9974" stop-color="#f5f5f5"/></linearGradient><linearGradient id="c118" x2="0" y2="1"><stop offset="0.002551" stop-color="#111111"/><stop offset="0.05357" stop-color="#1a1a1a"/><stop offset="0.1029" stop-color="#1d1d1d"/><stop offset="0.227" stop-color="#212121"/><stop offset="0.2747" stop-color="#1e1e1e"/><stop offset="0.2917" stop-color="#212121"/><stop offset="0.3053" stop-color="#282828"/><stop offset="0.3155" stop-color="#333333"/><stop offset="0.3274" stop-color="#464646"/><stop offset="0.3529" stop-color="#787878"/><stop offset="0.3614" stop-color="#828282"/><stop offset="0.3682" stop-color="#858585"/><stop offset="0.375" stop-color="#838383"/><stop offset="0.3835" stop-color="#7b7b7b"/><stop offset="0.4107" stop-color="#4a4a4a"/><stop offset="0.4226" stop-color="#3a3a3a"/><stop offset="0.4362" stop-color="#2f2f2f"/><stop offset="0.4532" stop-color="#2a2a2a"/><stop offset="0.5383" stop-color="#2d2d2d"/><stop offset="0.6131" stop-color="#343434"/><stop offset="0.6641" stop-color="#454545"/><stop offset="0.744" stop-color="#4a4a4a"/><stop offset="0.7713" stop-color="#525252"/><stop offset="0.8393" stop-color="#5e5e5e"/><stop offset="0.8784" stop-color="#707070"/><stop offset="0.9005" stop-color="#7f7f7f"/><stop offset="0.9396" stop-color="#afafaf"/><stop offset="0.9549" stop-color="#c7c7c7"/><stop offset="0.9685" stop-color="#e1e1e1"/><stop offset="0.9821" stop-color="#f3f3f3"/><stop offset="0.9855" stop-color="#f5f5f5"/><stop offset="0.9974" stop-color="#f5f5f5"/></linearGradient><linearGradient id="c119" x2="0" y2="1"><stop offset="0.002551" stop-color="#121212"/><stop offset="0.05357" stop-color="#1a1a1a"/><stop offset="0.1029" stop-color="#1d1d1d"/><stop offset="0.2645" stop-color="#1d1d1d"/><stop offset="0.29" stop-color="#202020"/><stop offset="0.3036" stop-color="#272727"/><stop offset="0.3138" stop-color="#313131"/><stop offset="0.3257" stop-color="#434343"/><stop offset="0.3529" stop-color="#787878"/><stop offset="0.3614" stop-color="#828282"/><stop offset="0.3682" stop-color="#858585"/><stop offset="0.375" stop-color="#838383"/><stop offset="0.3835" stop-color="#7b7b7b"/><stop offset="0.4107" stop-color="#4a4a4a"/><stop offset="0.4226" stop-color="#3a3a3a"/><stop offset="0.4362" stop-color="#2f2f2f"/><stop offset="0.4532" stop-color="#2b2b2b"/><stop offset="0.5621" stop-color="#2d2d2d"/><stop offset="0.6131" stop-color="#333333"/><stop offset="0.6641" stop-color="#444444"/><stop offset="0.7389" stop-color="#484848"/><stop offset="0.7713" stop-color="#525252"/><stop offset="0.8376" stop-color="#5e5e5e"/><stop offset="0.8767" stop-color="#6f6f6f"/><stop offset="0.9005" stop-color="#7f7f7f"/><stop offset="0.9396" stop-color="#afafaf"/><stop offset="0.9549" stop-color="#c7c7c7"/><stop offset="0.9702" stop-color="#e3e3e3"/><stop offset="0.9821" stop-color="#f3f3f3"/><stop offset="0.9855" stop-color="#f5f5f5"/><stop offset="0.9974" stop-color="#f5f5f5"/></linearGradient><linearGradient id="c120" x2="0" y2="1"><stop offset="0.002551" stop-color="#121212"/><stop offset="0.05357" stop-color="#1a1a1a"/><stop offset="0.1046" stop-color="#1e1e1e"/><stop offset="0.1556" stop-color="#1f1f1f"/><stop offset="0.2577" stop-color="#1d1d1d"/><stop offset="0.2934" stop-color="#1f1f1f"/><stop offset="0.3155" stop-color="#262626"/><stop offset="0.3529" stop-color="#404040"/><stop offset="0.3682" stop-color="#464646"/><stop offset="0.3818" stop-color="#434343"/><stop offset="0.4141" stop-color="#303030"/><stop offset="0.4345" stop-color="#2a2a2a"/><stop offset="0.5638" stop-color="#2e2e2e"/><stop offset="0.6131" stop-color="#323232"/><stop offset="0.6658" stop-color="#434343"/><stop offset="0.7372" stop-color="#484848"/><stop offset="0.7713" stop-color="#525252"/><stop offset="0.8376" stop-color="#5e5e5e"/><stop offset="0.8767" stop-color="#6f6f6f"/><stop offset="0.9005" stop-color="#7f7f7f"/><stop offset="0.9396" stop-color="#afafaf"/><stop offset="0.9549" stop-color="#c7c7c7"/><stop offset="0.9702" stop-color="#e3e3e3"/><stop offset="0.9821" stop-color="#f3f3f3"/><stop offset="0.9855" stop-color="#f5f5f5"/><stop offset="0.9974" stop-color="#f5f5f5"/></linearGradient><linearGradient id="c121" x2="0" y2="1"><stop offset="0.002551" stop-color="#131313"/><stop offset="0.05357" stop-color="#1b1b1b"/><stop offset="0.1046" stop-color="#1f1f1f"/><stop offset="0.1556" stop-color="#202020"/><stop offset="0.3002" stop-color="#1e1e1e"/><stop offset="0.3699" stop-color="#272727"/><stop offset="0.4124" stop-color="#272727"/><stop offset="0.4617" stop-color="#2b2b2b"/><stop offset="0.5638" stop-color="#2f2f2f"/><stop offset="0.6131" stop-color="#333333"/><stop offset="0.6658" stop-color="#434343"/><stop offset="0.7355" stop-color="#484848"/><stop offset="0.7645" stop-color="#515151"/><stop offset="0.8376" stop-color="#5e5e5e"/><stop offset="0.8767" stop-color="#707070"/><stop offset="0.9005" stop-color="#7f7f7f"/><stop offset="0.9396" stop-color="#afafaf"/><stop offset="0.9549" stop-color="#c7c7c7"/><stop offset="0.9702" stop-color="#e3e3e3"/><stop offset="0.9821" stop-color="#f4f4f4"/><stop offset="0.9974" stop-color="#f5f5f5"/></linearGradient><linearGradient id="c122" x2="0" y2="1"><stop offset="0.002551" stop-color="#131313"/><stop offset="0.05357" stop-color="#1c1c1c"/><stop offset="0.1046" stop-color="#202020"/><stop offset="0.1539" stop-color="#212121"/><stop offset="0.307" stop-color="#1e1e1e"/><stop offset="0.46" stop-color="#2c2c2c"/><stop offset="0.5621" stop-color="#2f2f2f"/><stop offset="0.6131" stop-color="#343434"/><stop offset="0.6641" stop-color="#434343"/><stop offset="0.7338" stop-color="#484848"/><stop offset="0.7645" stop-color="#515151"/><stop offset="0.8376" stop-color="#5e5e5e"/><stop offset="0.875" stop-color="#6f6f6f"/><stop offset="0.9005" stop-color="#7f7f7f"/><stop offset="0.9396" stop-color="#afafaf"/><stop offset="0.9549" stop-color="#c7c7c7"/><stop offset="0.9702" stop-color="#e3e3e3"/><stop offset="0.9821" stop-color="#f4f4f4"/><stop offset="0.9974" stop-color="#f5f5f5"/></linearGradient><linearGradient id="c123" x2="0" y2="1"><stop offset="0.002551" stop-color="#141414"/><stop offset="0.05357" stop-color="#1c1c1c"/><stop offset="0.1216" stop-color="#222222"/><stop offset="0.2577" stop-color="#1e1e1e"/><stop offset="0.3427" stop-color="#212121"/><stop offset="0.3835" stop-color="#252525"/><stop offset="0.4192" stop-color="#333333"/><stop offset="0.4532" stop-color="#2d2d2d"/><stop offset="0.5128" stop-color="#2e2e2e"/><stop offset="0.6131" stop-color="#353535"/><stop offset="0.6641" stop-color="#434343"/><stop offset="0.7338" stop-color="#484848"/><stop offset="0.7645" stop-color="#515151"/><stop offset="0.8376" stop-color="#5f5f5f"/><stop offset="0.875" stop-color="#6f6f6f"/><stop offset="0.9005" stop-color="#7f7f7f"/><stop offset="0.9396" stop-color="#b0b0b0"/><stop offset="0.9549" stop-color="#c8c8c8"/><stop offset="0.9702" stop-color="#e4e4e4"/><stop offset="0.9821" stop-color="#f4f4f4"/><stop offset="0.9974" stop-color="#f5f5f5"/></linearGradient><linearGradient id="c124" x2="0" y2="1"><stop offset="0.002551" stop-color="#151515"/><stop offset="0.05357" stop-color="#1d1d1d"/><stop offset="0.1216" stop-color="#232323"/><stop offset="0.1556" stop-color="#232323"/><stop offset="0.2577" stop-color="#1e1e1e"/><stop offset="0.3087" stop-color="#1f1f1f"/><stop offset="0.3665" stop-color="#242424"/><stop offset="0.3886" stop-color="#2a2a2a"/><stop offset="0.4107" stop-color="#404040"/><stop offset="0.4175" stop-color="#434343"/><stop offset="0.426" stop-color="#404040"/><stop offset="0.443" stop-color="#323232"/><stop offset="0.4549" stop-color="#2e2e2e"/><stop offset="0.5128" stop-color="#2f2f2f"/><stop offset="0.6131" stop-color="#363636"/><stop offset="0.6658" stop-color="#434343"/><stop offset="0.7321" stop-color="#484848"/><stop offset="0.7645" stop-color="#525252"/><stop offset="0.8376" stop-color="#5f5f5f"/><stop offset="0.875" stop-color="#707070"/><stop offset="0.9005" stop-color="#808080"/><stop offset="0.9396" stop-color="#b0b0b0"/><stop offset="0.9549" stop-color="#c9c9c9"/><stop offset="0.9702" stop-color="#e4e4e4"/><stop offset="0.9821" stop-color="#f4f4f4"/><stop offset="0.9974" stop-color="#f5f5f5"/></linearGradient><linearGradient id="c125" x2="0" y2="1"><stop offset="0.002551" stop-color="#161616"/><stop offset="0.05357" stop-color="#1e1e1e"/><stop offset="0.1165" stop-color="#242424"/><stop offset="0.1539" stop-color="#252525"/><stop offset="0.2543" stop-color="#1f1f1f"/><stop offset="0.307" stop-color="#1f1f1f"/><stop offset="0.3801" stop-color="#262626"/><stop offset="0.4175" stop-color="#343434"/><stop offset="0.4532" stop-color="#2e2e2e"/><stop offset="0.5128" stop-color="#2f2f2f"/><stop offset="0.6131" stop-color="#373737"/><stop offset="0.6658" stop-color="#434343"/><stop offset="0.7304" stop-color="#484848"/><stop offset="0.7645" stop-color="#525252"/><stop offset="0.8308" stop-color="#5e5e5e"/><stop offset="0.875" stop-color="#707070"/><stop offset="0.9005" stop-color="#808080"/><stop offset="0.9396" stop-color="#b1b1b1"/><stop offset="0.9685" stop-color="#e2e2e2"/><stop offset="0.9804" stop-color="#f3f3f3"/><stop offset="0.9838" stop-color="#f5f5f5"/><stop offset="0.9974" stop-color="#f5f5f5"/></linearGradient><linearGradient id="c126" x2="0" y2="1"><stop offset="0.002551" stop-color="#161616"/><stop offset="0.05357" stop-color="#1f1f1f"/><stop offset="0.1165" stop-color="#262626"/><stop offset="0.1539" stop-color="#262626"/><stop offset="0.244" stop-color="#1f1f1f"/><stop offset="0.307" stop-color="#202020"/><stop offset="0.3461" stop-color="#242424"/><stop offset="0.3988" stop-color="#313131"/><stop offset="0.443" stop-color="#2f2f2f"/><stop offset="0.5111" stop-color="#303030"/><stop offset="0.6131" stop-color="#383838"/><stop offset="0.6641" stop-color="#434343"/><stop offset="0.7287" stop-color="#474747"/><stop offset="0.7645" stop-color="#525252"/><stop offset="0.8308" stop-color="#5e5e5e"/><stop offset="0.875" stop-color="#717171"/><stop offset="0.9005" stop-color="#818181"/><stop offset="0.9396" stop-color="#b2b2b2"/><stop offset="0.9685" stop-color="#e2e2e2"/><stop offset="0.9787" stop-color="#f1f1f1"/><stop offset="0.9838" stop-color="#f5f5f5"/><stop offset="0.9974" stop-color="#f5f5f5"/></linearGradient><linearGradient id="c127" x2="0" y2="1"><stop offset="0.002551" stop-color="#171717"/><stop offset="0.08418" stop-color="#252525"/><stop offset="0.1233" stop-color="#282828"/><stop offset="0.1539" stop-color="#282828"/><stop offset="0.2543" stop-color="#202020"/><stop offset="0.3223" stop-color="#222222"/><stop offset="0.3376" stop-color="#272727"/><stop offset="0.3495" stop-color="#2e2e2e"/><stop offset="0.3597" stop-color="#383838"/><stop offset="0.3818" stop-color="#545454"/><stop offset="0.3886" stop-color="#5a5a5a"/><stop offset="0.3954" stop-color="#5c5c5c"/><stop offset="0.4073" stop-color="#585858"/><stop offset="0.4328" stop-color="#3e3e3e"/><stop offset="0.4447" stop-color="#363636"/><stop offset="0.4651" stop-color="#323232"/><stop offset="0.494" stop-color="#313131"/><stop offset="0.6131" stop-color="#393939"/><stop offset="0.6658" stop-color="#434343"/><stop offset="0.7168" stop-color="#464646"/><stop offset="0.7645" stop-color="#525252"/><stop offset="0.8291" stop-color="#5e5e5e"/><stop offset="0.875" stop-color="#717171"/><stop offset="0.9005" stop-color="#818181"/><stop offset="0.9396" stop-color="#b2b2b2"/><stop offset="0.9685" stop-color="#e3e3e3"/><stop offset="0.9787" stop-color="#f1f1f1"/><stop offset="0.9838" stop-color="#f5f5f5"/><stop offset="0.9974" stop-color="#f5f5f5"/></linearGradient><linearGradient id="c128" x2="0" y2="1"><stop offset="0.002551" stop-color="#181818"/><stop offset="0.08588" stop-color="#272727"/><stop offset="0.1216" stop-color="#2a2a2a"/><stop offset="0.1539" stop-color="#2a2a2a"/><stop offset="0.2066" stop-color="#232323"/><stop offset="0.256" stop-color="#212121"/><stop offset="0.3223" stop-color="#232323"/><stop offset="0.3376" stop-color="#272727"/><stop offset="0.3495" stop-color="#2f2f2f"/><stop offset="0.3597" stop-color="#393939"/><stop offset="0.3818" stop-color="#545454"/><stop offset="0.3886" stop-color="#5a5a5a"/><stop offset="0.3954" stop-color="#5c5c5c"/><stop offset="0.4073" stop-color="#585858"/><stop offset="0.4328" stop-color="#3f3f3f"/><stop offset="0.4464" stop-color="#363636"/><stop offset="0.4685" stop-color="#323232"/><stop offset="0.5009" stop-color="#323232"/><stop offset="0.6131" stop-color="#393939"/><stop offset="0.6658" stop-color="#434343"/><stop offset="0.7168" stop-color="#464646"/><stop offset="0.7645" stop-color="#525252"/><stop offset="0.8291" stop-color="#5e5e5e"/><stop offset="0.8682" stop-color="#6e6e6e"/><stop offset="0.8971" stop-color="#7f7f7f"/><stop offset="0.9362" stop-color="#aeaeae"/><stop offset="0.9685" stop-color="#e3e3e3"/><stop offset="0.9787" stop-color="#f2f2f2"/><stop offset="0.9838" stop-color="#f5f5f5"/><stop offset="0.9974" stop-color="#f5f5f5"/></linearGradient><linearGradient id="c129" x2="0" y2="1"><stop offset="0.002551" stop-color="#191919"/><stop offset="0.08759" stop-color="#282828"/><stop offset="0.1182" stop-color="#2c2c2c"/><stop offset="0.1539" stop-color="#2b2b2b"/><stop offset="0.2066" stop-color="#262626"/><stop offset="0.307" stop-color="#222222"/><stop offset="0.3461" stop-color="#262626"/><stop offset="0.3988" stop-color="#333333"/><stop offset="0.5111" stop-color="#333333"/><stop offset="0.6131" stop-color="#3a3a3a"/><stop offset="0.6641" stop-color="#434343"/><stop offset="0.7253" stop-color="#484848"/><stop offset="0.7645" stop-color="#535353"/><stop offset="0.8291" stop-color="#5e5e5e"/><stop offset="0.8682" stop-color="#6e6e6e"/><stop offset="0.8971" stop-color="#7f7f7f"/><stop offset="0.9362" stop-color="#aeaeae"/><stop offset="0.9685" stop-color="#e4e4e4"/><stop offset="0.9787" stop-color="#f2f2f2"/><stop offset="0.9838" stop-color="#f5f5f5"/><stop offset="0.9974" stop-color="#f5f5f5"/></linearGradient><linearGradient id="c130" x2="0" y2="1"><stop offset="0.002551" stop-color="#191919"/><stop offset="0.08929" stop-color="#2a2a2a"/><stop offset="0.1182" stop-color="#2e2e2e"/><stop offset="0.1913" stop-color="#2a2a2a"/><stop offset="0.2389" stop-color="#292929"/><stop offset="0.3087" stop-color="#232323"/><stop offset="0.358" stop-color="#262626"/><stop offset="0.46" stop-color="#333333"/><stop offset="0.5128" stop-color="#333333"/><stop offset="0.6131" stop-color="#3b3b3b"/><stop offset="0.6641" stop-color="#434343"/><stop offset="0.7236" stop-color="#484848"/><stop offset="0.7645" stop-color="#535353"/><stop offset="0.8291" stop-color="#5e5e5e"/><stop offset="0.8682" stop-color="#6e6e6e"/><stop offset="0.8971" stop-color="#7f7f7f"/><stop offset="0.9362" stop-color="#afafaf"/><stop offset="0.9668" stop-color="#e2e2e2"/><stop offset="0.9787" stop-color="#f3f3f3"/><stop offset="0.9838" stop-color="#f5f5f5"/><stop offset="0.9974" stop-color="#f5f5f5"/></linearGradient><linearGradient id="c131" x2="0" y2="1"><stop offset="0.002551" stop-color="#1a1a1a"/><stop offset="0.09269" stop-color="#2d2d2d"/><stop offset="0.1216" stop-color="#303030"/><stop offset="0.1828" stop-color="#2d2d2d"/><stop offset="0.2372" stop-color="#313131"/><stop offset="0.3053" stop-color="#242424"/><stop offset="0.3478" stop-color="#262626"/><stop offset="0.46" stop-color="#343434"/><stop offset="0.5128" stop-color="#343434"/><stop offset="0.6131" stop-color="#3c3c3c"/><stop offset="0.6658" stop-color="#444444"/><stop offset="0.7168" stop-color="#474747"/><stop offset="0.7628" stop-color="#535353"/><stop offset="0.8291" stop-color="#5e5e5e"/><stop offset="0.8682" stop-color="#6f6f6f"/><stop offset="0.8971" stop-color="#808080"/><stop offset="0.9362" stop-color="#afafaf"/><stop offset="0.9668" stop-color="#e2e2e2"/><stop offset="0.9787" stop-color="#f3f3f3"/><stop offset="0.9838" stop-color="#f5f5f5"/><stop offset="0.9974" stop-color="#f5f5f5"/></linearGradient><linearGradient id="c132" x2="0" y2="1"><stop offset="0.002551" stop-color="#1b1b1b"/><stop offset="0.1063" stop-color="#303030"/><stop offset="0.1284" stop-color="#313131"/><stop offset="0.1811" stop-color="#2f2f2f"/><stop offset="0.2321" stop-color="#383838"/><stop offset="0.2509" stop-color="#363636"/><stop offset="0.307" stop-color="#262626"/><stop offset="0.3529" stop-color="#272727"/><stop offset="0.46" stop-color="#343434"/><stop offset="0.5128" stop-color="#343434"/><stop offset="0.6131" stop-color="#3d3d3d"/><stop offset="0.6658" stop-color="#444444"/><stop offset="0.7168" stop-color="#474747"/><stop offset="0.7509" stop-color="#515151"/><stop offset="0.8291" stop-color="#5e5e5e"/><stop offset="0.8682" stop-color="#6f6f6f"/><stop offset="0.8971" stop-color="#808080"/><stop offset="0.9362" stop-color="#b0b0b0"/><stop offset="0.9651" stop-color="#e0e0e0"/><stop offset="0.9787" stop-color="#f3f3f3"/><stop offset="0.9974" stop-color="#f5f5f5"/></linearGradient><linearGradient id="c133" x2="0" y2="1"><stop offset="0.002551" stop-color="#1b1b1b"/><stop offset="0.1046" stop-color="#313131"/><stop offset="0.1267" stop-color="#323232"/><stop offset="0.1794" stop-color="#303030"/><stop offset="0.2321" stop-color="#3b3b3b"/><stop offset="0.2509" stop-color="#393939"/><stop offset="0.307" stop-color="#262626"/><stop offset="0.3529" stop-color="#272727"/><stop offset="0.46" stop-color="#353535"/><stop offset="0.5128" stop-color="#343434"/><stop offset="0.6658" stop-color="#454545"/><stop offset="0.7168" stop-color="#484848"/><stop offset="0.7509" stop-color="#515151"/><stop offset="0.8291" stop-color="#5e5e5e"/><stop offset="0.8682" stop-color="#6f6f6f"/><stop offset="0.8971" stop-color="#808080"/><stop offset="0.9345" stop-color="#aeaeae"/><stop offset="0.9651" stop-color="#e0e0e0"/><stop offset="0.9787" stop-color="#f4f4f4"/><stop offset="0.9974" stop-color="#f5f5f5"/></linearGradient><linearGradient id="c134" x2="0" y2="1"><stop offset="0.002551" stop-color="#1c1c1c"/><stop offset="0.108" stop-color="#323232"/><stop offset="0.1301" stop-color="#333333"/><stop offset="0.1811" stop-color="#303030"/><stop offset="0.2321" stop-color="#383838"/><stop offset="0.2509" stop-color="#363636"/><stop offset="0.307" stop-color="#262626"/><stop offset="0.3512" stop-color="#272727"/><stop offset="0.46" stop-color="#353535"/><stop offset="0.5128" stop-color="#353535"/><stop offset="0.6641" stop-color="#454545"/><stop offset="0.7168" stop-color="#484848"/><stop offset="0.7509" stop-color="#515151"/><stop offset="0.8291" stop-color="#5f5f5f"/><stop offset="0.8682" stop-color="#707070"/><stop offset="0.8954" stop-color="#7f7f7f"/><stop offset="0.9345" stop-color="#afafaf"/><stop offset="0.9651" stop-color="#e1e1e1"/><stop offset="0.9787" stop-color="#f4f4f4"/><stop offset="0.9974" stop-color="#f5f5f5"/></linearGradient><linearGradient id="c135" x2="0" y2="1"><stop offset="0.002551" stop-color="#1c1c1c"/><stop offset="0.09439" stop-color="#303030"/><stop offset="0.1199" stop-color="#333333"/><stop offset="0.1845" stop-color="#2e2e2e"/><stop offset="0.2372" stop-color="#323232"/><stop offset="0.3053" stop-color="#262626"/><stop offset="0.3461" stop-color="#272727"/><stop offset="0.46" stop-color="#363636"/><stop offset="0.5128" stop-color="#353535"/><stop offset="0.6641" stop-color="#454545"/><stop offset="0.7168" stop-color="#494949"/><stop offset="0.7509" stop-color="#525252"/><stop offset="0.8291" stop-color="#5f5f5f"/><stop offset="0.8682" stop-color="#707070"/><stop offset="0.8954" stop-color="#818181"/><stop offset="0.9345" stop-color="#b0b0b0"/><stop offset="0.9651" stop-color="#e1e1e1"/><stop offset="0.9787" stop-color="#f4f4f4"/><stop offset="0.9974" stop-color="#f5f5f5"/></linearGradient><linearGradient id="c136" x2="0" y2="1"><stop offset="0.002551" stop-color="#1c1c1c"/><stop offset="0.09439" stop-color="#303030"/><stop offset="0.1199" stop-color="#333333"/><stop offset="0.2985" stop-color="#252525"/><stop offset="0.3342" stop-color="#262626"/><stop offset="0.46" stop-color="#363636"/><stop offset="0.5128" stop-color="#353535"/><stop offset="0.6641" stop-color="#464646"/><stop offset="0.7168" stop-color="#494949"/><stop offset="0.7509" stop-color="#525252"/><stop offset="0.8172" stop-color="#5d5d5d"/><stop offset="0.8308" stop-color="#606060"/><stop offset="0.8563" stop-color="#6b6b6b"/><stop offset="0.8954" stop-color="#828282"/><stop offset="0.9345" stop-color="#b1b1b1"/><stop offset="0.9651" stop-color="#e2e2e2"/><stop offset="0.977" stop-color="#f3f3f3"/><stop offset="0.9804" stop-color="#f5f5f5"/><stop offset="0.9974" stop-color="#f5f5f5"/></linearGradient><linearGradient id="c137" x2="0" y2="1"><stop offset="0.002551" stop-color="#1d1d1d"/><stop offset="0.09439" stop-color="#2f2f2f"/><stop offset="0.1216" stop-color="#323232"/><stop offset="0.2151" stop-color="#282828"/><stop offset="0.2832" stop-color="#252525"/><stop offset="0.3206" stop-color="#252525"/><stop offset="0.46" stop-color="#363636"/><stop offset="0.5128" stop-color="#353535"/><stop offset="0.6641" stop-color="#464646"/><stop offset="0.7168" stop-color="#4a4a4a"/><stop offset="0.7509" stop-color="#525252"/><stop offset="0.8172" stop-color="#5d5d5d"/><stop offset="0.8308" stop-color="#616161"/><stop offset="0.8563" stop-color="#6c6c6c"/><stop offset="0.8954" stop-color="#838383"/><stop offset="0.9345" stop-color="#b2b2b2"/><stop offset="0.977" stop-color="#f3f3f3"/><stop offset="0.9804" stop-color="#f5f5f5"/><stop offset="0.9974" stop-color="#f5f5f5"/></linearGradient><linearGradient id="c138" x2="0" y2="1"><stop offset="0.002551" stop-color="#1d1d1d"/><stop offset="0.09439" stop-color="#2e2e2e"/><stop offset="0.1216" stop-color="#313131"/><stop offset="0.1488" stop-color="#2f2f2f"/><stop offset="0.227" stop-color="#252525"/><stop offset="0.3087" stop-color="#242424"/><stop offset="0.3597" stop-color="#292929"/><stop offset="0.46" stop-color="#373737"/><stop offset="0.5128" stop-color="#363636"/><stop offset="0.6641" stop-color="#474747"/><stop offset="0.7168" stop-color="#4a4a4a"/><stop offset="0.8172" stop-color="#5d5d5d"/><stop offset="0.8563" stop-color="#6c6c6c"/><stop offset="0.8801" stop-color="#7a7a7a"/><stop offset="0.8954" stop-color="#858585"/><stop offset="0.9345" stop-color="#b3b3b3"/><stop offset="0.977" stop-color="#f3f3f3"/><stop offset="0.9804" stop-color="#f5f5f5"/><stop offset="0.9974" stop-color="#f5f5f5"/></linearGradient><linearGradient id="c139" x2="0" y2="1"><stop offset="0.002551" stop-color="#1e1e1e"/><stop offset="0.1216" stop-color="#2f2f2f"/><stop offset="0.1522" stop-color="#2e2e2e"/><stop offset="0.2304" stop-color="#252525"/><stop offset="0.3087" stop-color="#252525"/><stop offset="0.3597" stop-color="#292929"/><stop offset="0.46" stop-color="#373737"/><stop offset="0.5128" stop-color="#363636"/><stop offset="0.6148" stop-color="#434343"/><stop offset="0.7168" stop-color="#4b4b4b"/><stop offset="0.8172" stop-color="#5e5e5e"/><stop offset="0.8563" stop-color="#6d6d6d"/><stop offset="0.8801" stop-color="#7a7a7a"/><stop offset="0.8954" stop-color="#868686"/><stop offset="0.9345" stop-color="#b5b5b5"/><stop offset="0.977" stop-color="#f4f4f4"/><stop offset="0.9804" stop-color="#f5f5f5"/><stop offset="0.9974" stop-color="#f5f5f5"/></linearGradient><linearGradient id="c140" x2="0" y2="1"><stop offset="0.002551" stop-color="#1e1e1e"/><stop offset="0.1233" stop-color="#2e2e2e"/><stop offset="0.2338" stop-color="#242424"/><stop offset="0.3087" stop-color="#252525"/><stop offset="0.409" stop-color="#303030"/><stop offset="0.46" stop-color="#383838"/><stop offset="0.5128" stop-color="#363636"/><stop offset="0.5621" stop-color="#3b3b3b"/><stop offset="0.6148" stop-color="#434343"/><stop offset="0.7168" stop-color="#4b4b4b"/><stop offset="0.8172" stop-color="#5e5e5e"/><stop offset="0.8563" stop-color="#6e6e6e"/><stop offset="0.8801" stop-color="#7b7b7b"/><stop offset="0.8954" stop-color="#878787"/><stop offset="0.9345" stop-color="#b6b6b6"/><stop offset="0.977" stop-color="#f4f4f4"/><stop offset="0.9974" stop-color="#f5f5f5"/></linearGradient><linearGradient id="c141" x2="0" y2="1"><stop offset="0.002551" stop-color="#1e1e1e"/><stop offset="0.1233" stop-color="#2c2c2c"/><stop offset="0.2372" stop-color="#242424"/><stop offset="0.3087" stop-color="#252525"/><stop offset="0.409" stop-color="#303030"/><stop offset="0.46" stop-color="#393939"/><stop offset="0.5128" stop-color="#373737"/><stop offset="0.5621" stop-color="#3b3b3b"/><stop offset="0.6148" stop-color="#444444"/><stop offset="0.7168" stop-color="#4c4c4c"/><stop offset="0.8172" stop-color="#5e5e5e"/><stop offset="0.8546" stop-color="#6d6d6d"/><stop offset="0.8818" stop-color="#7d7d7d"/><stop offset="0.8971" stop-color="#8a8a8a"/><stop offset="0.926" stop-color="#acacac"/><stop offset="0.977" stop-color="#f4f4f4"/><stop offset="0.9974" stop-color="#f5f5f5"/></linearGradient><linearGradient id="c142" x2="0" y2="1"><stop offset="0.002551" stop-color="#1e1e1e"/><stop offset="0.1233" stop-color="#2a2a2a"/><stop offset="0.2423" stop-color="#232323"/><stop offset="0.3087" stop-color="#262626"/><stop offset="0.409" stop-color="#313131"/><stop offset="0.46" stop-color="#393939"/><stop offset="0.5128" stop-color="#373737"/><stop offset="0.5621" stop-color="#3c3c3c"/><stop offset="0.6148" stop-color="#444444"/><stop offset="0.7168" stop-color="#4c4c4c"/><stop offset="0.8172" stop-color="#5e5e5e"/><stop offset="0.8546" stop-color="#6e6e6e"/><stop offset="0.8818" stop-color="#7e7e7e"/><stop offset="0.8971" stop-color="#8c8c8c"/><stop offset="0.9243" stop-color="#ababab"/><stop offset="0.977" stop-color="#f4f4f4"/><stop offset="0.9974" stop-color="#f5f5f5"/></linearGradient><linearGradient id="c143" x2="0" y2="1"><stop offset="0.002551" stop-color="#1e1e1e"/><stop offset="0.1233" stop-color="#292929"/><stop offset="0.2509" stop-color="#232323"/><stop offset="0.3087" stop-color="#262626"/><stop offset="0.3512" stop-color="#2a2a2a"/><stop offset="0.3852" stop-color="#323232"/><stop offset="0.4192" stop-color="#333333"/><stop offset="0.46" stop-color="#3a3a3a"/><stop offset="0.5128" stop-color="#373737"/><stop offset="0.5621" stop-color="#3c3c3c"/><stop offset="0.6148" stop-color="#454545"/><stop offset="0.7168" stop-color="#4c4c4c"/><stop offset="0.8172" stop-color="#5e5e5e"/><stop offset="0.8546" stop-color="#6e6e6e"/><stop offset="0.8818" stop-color="#7f7f7f"/><stop offset="0.9056" stop-color="#969696"/><stop offset="0.9243" stop-color="#acacac"/><stop offset="0.977" stop-color="#f5f5f5"/><stop offset="0.9974" stop-color="#f5f5f5"/></linearGradient><linearGradient id="c144" x2="0" y2="1"><stop offset="0.002551" stop-color="#1f1f1f"/><stop offset="0.1233" stop-color="#272727"/><stop offset="0.256" stop-color="#232323"/><stop offset="0.307" stop-color="#262626"/><stop offset="0.3359" stop-color="#292929"/><stop offset="0.3495" stop-color="#2d2d2d"/><stop offset="0.3597" stop-color="#333333"/><stop offset="0.3767" stop-color="#434343"/><stop offset="0.3852" stop-color="#464646"/><stop offset="0.392" stop-color="#454545"/><stop offset="0.4107" stop-color="#393939"/><stop offset="0.4209" stop-color="#363636"/><stop offset="0.4617" stop-color="#3b3b3b"/><stop offset="0.5128" stop-color="#383838"/><stop offset="0.5621" stop-color="#3c3c3c"/><stop offset="0.6148" stop-color="#454545"/><stop offset="0.7168" stop-color="#4c4c4c"/><stop offset="0.8172" stop-color="#5e5e5e"/><stop offset="0.8546" stop-color="#6f6f6f"/><stop offset="0.8818" stop-color="#808080"/><stop offset="0.9056" stop-color="#979797"/><stop offset="0.9243" stop-color="#adadad"/><stop offset="0.977" stop-color="#f5f5f5"/><stop offset="0.9974" stop-color="#f5f5f5"/></linearGradient><linearGradient id="c145" x2="0" y2="1"><stop offset="0.002551" stop-color="#1f1f1f"/><stop offset="0.1267" stop-color="#262626"/><stop offset="0.2696" stop-color="#232323"/><stop offset="0.3444" stop-color="#2b2b2b"/><stop offset="0.3563" stop-color="#313131"/><stop offset="0.3767" stop-color="#434343"/><stop offset="0.3852" stop-color="#464646"/><stop offset="0.392" stop-color="#454545"/><stop offset="0.4107" stop-color="#393939"/><stop offset="0.4209" stop-color="#363636"/><stop offset="0.4617" stop-color="#3c3c3c"/><stop offset="0.523" stop-color="#393939"/><stop offset="0.5621" stop-color="#3d3d3d"/><stop offset="0.6148" stop-color="#464646"/><stop offset="0.7168" stop-color="#4d4d4d"/><stop offset="0.8172" stop-color="#5f5f5f"/><stop offset="0.8546" stop-color="#6f6f6f"/><stop offset="0.8818" stop-color="#808080"/><stop offset="0.9056" stop-color="#989898"/><stop offset="0.9243" stop-color="#aeaeae"/><stop offset="0.977" stop-color="#f5f5f5"/><stop offset="0.9974" stop-color="#f5f5f5"/></linearGradient><linearGradient id="c146" x2="0" y2="1"><stop offset="0.002551" stop-color="#1f1f1f"/><stop offset="0.1284" stop-color="#252525"/><stop offset="0.2577" stop-color="#222222"/><stop offset="0.3461" stop-color="#2b2b2b"/><stop offset="0.3835" stop-color="#333333"/><stop offset="0.4226" stop-color="#353535"/><stop offset="0.4617" stop-color="#3d3d3d"/><stop offset="0.5332" stop-color="#3a3a3a"/><stop offset="0.5638" stop-color="#3d3d3d"/><stop offset="0.6148" stop-color="#464646"/><stop offset="0.7151" stop-color="#4d4d4d"/><stop offset="0.8172" stop-color="#5f5f5f"/><stop offset="0.8546" stop-color="#6f6f6f"/><stop offset="0.8818" stop-color="#818181"/><stop offset="0.9056" stop-color="#999999"/><stop offset="0.9243" stop-color="#afafaf"/><stop offset="0.977" stop-color="#f5f5f5"/><stop offset="0.9974" stop-color="#f5f5f5"/></linearGradient><linearGradient id="c147" x2="0" y2="1"><stop offset="0.002551" stop-color="#1f1f1f"/><stop offset="0.1267" stop-color="#242424"/><stop offset="0.2577" stop-color="#222222"/><stop offset="0.409" stop-color="#323232"/><stop offset="0.4617" stop-color="#3f3f3f"/><stop offset="0.5366" stop-color="#3b3b3b"/><stop offset="0.6148" stop-color="#474747"/><stop offset="0.7168" stop-color="#4d4d4d"/><stop offset="0.8172" stop-color="#606060"/><stop offset="0.8546" stop-color="#707070"/><stop offset="0.8801" stop-color="#808080"/><stop offset="0.9056" stop-color="#999999"/><stop offset="0.9243" stop-color="#afafaf"/><stop offset="0.977" stop-color="#f5f5f5"/><stop offset="0.9974" stop-color="#f5f5f5"/></linearGradient><linearGradient id="c148" x2="0" y2="1"><stop offset="0.002551" stop-color="#202020"/><stop offset="0.1233" stop-color="#232323"/><stop offset="0.2577" stop-color="#222222"/><stop offset="0.4073" stop-color="#323232"/><stop offset="0.4617" stop-color="#404040"/><stop offset="0.4872" stop-color="#414141"/><stop offset="0.5213" stop-color="#3c3c3c"/><stop offset="0.5468" stop-color="#3c3c3c"/><stop offset="0.6148" stop-color="#474747"/><stop offset="0.7168" stop-color="#4e4e4e"/><stop offset="0.8053" stop-color="#5d5d5d"/><stop offset="0.8172" stop-color="#606060"/><stop offset="0.8512" stop-color="#6e6e6e"/><stop offset="0.8801" stop-color="#808080"/><stop offset="0.9056" stop-color="#9a9a9a"/><stop offset="0.9243" stop-color="#b0b0b0"/><stop offset="0.9753" stop-color="#f4f4f4"/><stop offset="0.977" stop-color="#f5f5f5"/><stop offset="0.9974" stop-color="#f5f5f5"/></linearGradient><linearGradient id="c149" x2="0" y2="1"><stop offset="0.002551" stop-color="#202020"/><stop offset="0.1148" stop-color="#232323"/><stop offset="0.2577" stop-color="#222222"/><stop offset="0.409" stop-color="#333333"/><stop offset="0.4617" stop-color="#414141"/><stop offset="0.4855" stop-color="#434343"/><stop offset="0.5213" stop-color="#3c3c3c"/><stop offset="0.5485" stop-color="#3d3d3d"/><stop offset="0.6148" stop-color="#484848"/><stop offset="0.7168" stop-color="#4e4e4e"/><stop offset="0.8053" stop-color="#5d5d5d"/><stop offset="0.8172" stop-color="#606060"/><stop offset="0.8512" stop-color="#6f6f6f"/><stop offset="0.8801" stop-color="#818181"/><stop offset="0.9056" stop-color="#9a9a9a"/><stop offset="0.9209" stop-color="#acacac"/><stop offset="0.9753" stop-color="#f4f4f4"/><stop offset="0.9974" stop-color="#f5f5f5"/></linearGradient><linearGradient id="c150" x2="0" y2="1"><stop offset="0.002551" stop-color="#202020"/><stop offset="0.1029" stop-color="#222222"/><stop offset="0.2577" stop-color="#222222"/><stop offset="0.409" stop-color="#333333"/><stop offset="0.4702" stop-color="#444444"/><stop offset="0.4889" stop-color="#444444"/><stop offset="0.5213" stop-color="#3d3d3d"/><stop offset="0.5468" stop-color="#3d3d3d"/><stop offset="0.6148" stop-color="#484848"/><stop offset="0.7168" stop-color="#4e4e4e"/><stop offset="0.8053" stop-color="#5e5e5e"/><stop offset="0.8495" stop-color="#6e6e6e"/><stop offset="0.8767" stop-color="#7e7e7e"/><stop offset="0.9022" stop-color="#979797"/><stop offset="0.9192" stop-color="#ababab"/><stop offset="0.9753" stop-color="#f4f4f4"/><stop offset="0.9974" stop-color="#f5f5f5"/></linearGradient><linearGradient id="c151" x2="0" y2="1"><stop offset="0.002551" stop-color="#202020"/><stop offset="0.2577" stop-color="#222222"/><stop offset="0.324" stop-color="#2a2a2a"/><stop offset="0.3614" stop-color="#363636"/><stop offset="0.392" stop-color="#333333"/><stop offset="0.409" stop-color="#343434"/><stop offset="0.46" stop-color="#434343"/><stop offset="0.4736" stop-color="#454545"/><stop offset="0.4923" stop-color="#454545"/><stop offset="0.5247" stop-color="#3d3d3d"/><stop offset="0.5451" stop-color="#3d3d3d"/><stop offset="0.6148" stop-color="#484848"/><stop offset="0.7168" stop-color="#4f4f4f"/><stop offset="0.8036" stop-color="#5e5e5e"/><stop offset="0.8495" stop-color="#6e6e6e"/><stop offset="0.8767" stop-color="#7f7f7f"/><stop offset="0.9022" stop-color="#989898"/><stop offset="0.9192" stop-color="#ababab"/><stop offset="0.9753" stop-color="#f4f4f4"/><stop offset="0.9974" stop-color="#f5f5f5"/></linearGradient><linearGradient id="c152" x2="0" y2="1"><stop offset="0.002551" stop-color="#202020"/><stop offset="0.2577" stop-color="#222222"/><stop offset="0.3223" stop-color="#2b2b2b"/><stop offset="0.3342" stop-color="#313131"/><stop offset="0.3529" stop-color="#404040"/><stop offset="0.3614" stop-color="#434343"/><stop offset="0.3699" stop-color="#414141"/><stop offset="0.3903" stop-color="#363636"/><stop offset="0.4056" stop-color="#343434"/><stop offset="0.4753" stop-color="#464646"/><stop offset="0.4923" stop-color="#454545"/><stop offset="0.5247" stop-color="#3e3e3e"/><stop offset="0.5434" stop-color="#3d3d3d"/><stop offset="0.6148" stop-color="#494949"/><stop offset="0.7168" stop-color="#4f4f4f"/><stop offset="0.8036" stop-color="#5e5e5e"/><stop offset="0.8495" stop-color="#6e6e6e"/><stop offset="0.8767" stop-color="#7f7f7f"/><stop offset="0.9073" stop-color="#9e9e9e"/><stop offset="0.9753" stop-color="#f5f5f5"/><stop offset="0.9974" stop-color="#f5f5f5"/></linearGradient><linearGradient id="c153" x2="0" y2="1"><stop offset="0.002551" stop-color="#202020"/><stop offset="0.2577" stop-color="#222222"/><stop offset="0.324" stop-color="#2b2b2b"/><stop offset="0.3614" stop-color="#363636"/><stop offset="0.392" stop-color="#333333"/><stop offset="0.409" stop-color="#353535"/><stop offset="0.4736" stop-color="#454545"/><stop offset="0.4906" stop-color="#454545"/><stop offset="0.5196" stop-color="#3e3e3e"/><stop offset="0.5417" stop-color="#3d3d3d"/><stop offset="0.6148" stop-color="#494949"/><stop offset="0.7168" stop-color="#4f4f4f"/><stop offset="0.8036" stop-color="#5e5e5e"/><stop offset="0.8495" stop-color="#6f6f6f"/><stop offset="0.8767" stop-color="#7f7f7f"/><stop offset="0.9073" stop-color="#9e9e9e"/><stop offset="0.9753" stop-color="#f5f5f5"/><stop offset="0.9974" stop-color="#f5f5f5"/></linearGradient><linearGradient id="c154" x2="0" y2="1"><stop offset="0.002551" stop-color="#212121"/><stop offset="0.2577" stop-color="#222222"/><stop offset="0.4039" stop-color="#343434"/><stop offset="0.4719" stop-color="#444444"/><stop offset="0.4889" stop-color="#454545"/><stop offset="0.5179" stop-color="#3e3e3e"/><stop offset="0.54" stop-color="#3d3d3d"/><stop offset="0.6148" stop-color="#494949"/><stop offset="0.7168" stop-color="#505050"/><stop offset="0.8036" stop-color="#5e5e5e"/><stop offset="0.8495" stop-color="#6f6f6f"/><stop offset="0.8767" stop-color="#808080"/><stop offset="0.9073" stop-color="#9f9f9f"/><stop offset="0.9753" stop-color="#f5f5f5"/><stop offset="0.9974" stop-color="#f5f5f5"/></linearGradient><linearGradient id="c155" x2="0" y2="1"><stop offset="0.002551" stop-color="#212121"/><stop offset="0.2577" stop-color="#222222"/><stop offset="0.4022" stop-color="#343434"/><stop offset="0.4617" stop-color="#424242"/><stop offset="0.4872" stop-color="#444444"/><stop offset="0.5162" stop-color="#3e3e3e"/><stop offset="0.5383" stop-color="#3d3d3d"/><stop offset="0.6148" stop-color="#4a4a4a"/><stop offset="0.7168" stop-color="#505050"/><stop offset="0.8036" stop-color="#5e5e5e"/><stop offset="0.8495" stop-color="#6f6f6f"/><stop offset="0.875" stop-color="#7f7f7f"/><stop offset="0.9056" stop-color="#9d9d9d"/><stop offset="0.9753" stop-color="#f5f5f5"/><stop offset="0.9974" stop-color="#f5f5f5"/></linearGradient><linearGradient id="c156" x2="0" y2="1"><stop offset="0.002551" stop-color="#212121"/><stop offset="0.2577" stop-color="#232323"/><stop offset="0.341" stop-color="#2d2d2d"/><stop offset="0.3818" stop-color="#353535"/><stop offset="0.4175" stop-color="#383838"/><stop offset="0.4617" stop-color="#424242"/><stop offset="0.4855" stop-color="#424242"/><stop offset="0.5128" stop-color="#3d3d3d"/><stop offset="0.5332" stop-color="#3d3d3d"/><stop offset="0.6148" stop-color="#4a4a4a"/><stop offset="0.7168" stop-color="#505050"/><stop offset="0.8036" stop-color="#5e5e5e"/><stop offset="0.8495" stop-color="#6f6f6f"/><stop offset="0.875" stop-color="#7f7f7f"/><stop offset="0.9022" stop-color="#9a9a9a"/><stop offset="0.9753" stop-color="#f5f5f5"/><stop offset="0.9974" stop-color="#f5f5f5"/></linearGradient><linearGradient id="c157" x2="0" y2="1"><stop offset="0.002551" stop-color="#212121"/><stop offset="0.2577" stop-color="#232323"/><stop offset="0.3359" stop-color="#2e2e2e"/><stop offset="0.3495" stop-color="#343434"/><stop offset="0.3716" stop-color="#444444"/><stop offset="0.3818" stop-color="#474747"/><stop offset="0.3903" stop-color="#464646"/><stop offset="0.4107" stop-color="#3d3d3d"/><stop offset="0.4209" stop-color="#3b3b3b"/><stop offset="0.4685" stop-color="#414141"/><stop offset="0.523" stop-color="#3c3c3c"/><stop offset="0.6148" stop-color="#4a4a4a"/><stop offset="0.7168" stop-color="#515151"/><stop offset="0.8036" stop-color="#5f5f5f"/><stop offset="0.8495" stop-color="#707070"/><stop offset="0.875" stop-color="#808080"/><stop offset="0.9022" stop-color="#9b9b9b"/><stop offset="0.9753" stop-color="#f5f5f5"/><stop offset="0.9974" stop-color="#f5f5f5"/></linearGradient><linearGradient id="c158" x2="0" y2="1"><stop offset="0.002551" stop-color="#212121"/><stop offset="0.2577" stop-color="#232323"/><stop offset="0.3359" stop-color="#2e2e2e"/><stop offset="0.3495" stop-color="#343434"/><stop offset="0.3716" stop-color="#444444"/><stop offset="0.3818" stop-color="#474747"/><stop offset="0.3903" stop-color="#464646"/><stop offset="0.4209" stop-color="#3b3b3b"/><stop offset="0.4617" stop-color="#404040"/><stop offset="0.4838" stop-color="#404040"/><stop offset="0.5145" stop-color="#3b3b3b"/><stop offset="0.6148" stop-color="#4a4a4a"/><stop offset="0.7168" stop-color="#515151"/><stop offset="0.8036" stop-color="#5f5f5f"/><stop offset="0.8495" stop-color="#707070"/><stop offset="0.875" stop-color="#818181"/><stop offset="0.9022" stop-color="#9c9c9c"/><stop offset="0.96" stop-color="#e4e4e4"/><stop offset="0.9753" stop-color="#f5f5f5"/><stop offset="0.9974" stop-color="#f5f5f5"/></linearGradient><linearGradient id="c159" x2="0" y2="1"><stop offset="0.002551" stop-color="#212121"/><stop offset="0.256" stop-color="#232323"/><stop offset="0.341" stop-color="#2d2d2d"/><stop offset="0.3835" stop-color="#363636"/><stop offset="0.4243" stop-color="#393939"/><stop offset="0.4617" stop-color="#414141"/><stop offset="0.4821" stop-color="#414141"/><stop offset="0.5128" stop-color="#3a3a3a"/><stop offset="0.6131" stop-color="#4b4b4b"/><stop offset="0.7151" stop-color="#515151"/><stop offset="0.7917" stop-color="#5d5d5d"/><stop offset="0.8053" stop-color="#606060"/><stop offset="0.8495" stop-color="#717171"/><stop offset="0.875" stop-color="#818181"/><stop offset="0.9022" stop-color="#9d9d9d"/><stop offset="0.9719" stop-color="#f2f2f2"/><stop offset="0.9753" stop-color="#f5f5f5"/><stop offset="0.9974" stop-color="#f5f5f5"/></linearGradient><linearGradient id="c160" x2="0" y2="1"><stop offset="0.002551" stop-color="#222222"/><stop offset="0.256" stop-color="#232323"/><stop offset="0.3597" stop-color="#2e2e2e"/><stop offset="0.4379" stop-color="#3b3b3b"/><stop offset="0.4549" stop-color="#404040"/><stop offset="0.477" stop-color="#4b4b4b"/><stop offset="0.4838" stop-color="#4a4a4a"/><stop offset="0.5009" stop-color="#3e3e3e"/><stop offset="0.5128" stop-color="#3a3a3a"/><stop offset="0.6131" stop-color="#4b4b4b"/><stop offset="0.7151" stop-color="#515151"/><stop offset="0.7917" stop-color="#5d5d5d"/><stop offset="0.8376" stop-color="#6c6c6c"/><stop offset="0.8665" stop-color="#7c7c7c"/><stop offset="0.8767" stop-color="#848484"/><stop offset="0.9022" stop-color="#9e9e9e"/><stop offset="0.9719" stop-color="#f3f3f3"/><stop offset="0.9753" stop-color="#f5f5f5"/><stop offset="0.9974" stop-color="#f5f5f5"/></linearGradient><linearGradient id="c161" x2="0" y2="1"><stop offset="0.002551" stop-color="#222222"/><stop offset="0.256" stop-color="#232323"/><stop offset="0.358" stop-color="#2e2e2e"/><stop offset="0.4481" stop-color="#3e3e3e"/><stop offset="0.4583" stop-color="#454545"/><stop offset="0.4736" stop-color="#5a5a5a"/><stop offset="0.4787" stop-color="#5e5e5e"/><stop offset="0.4855" stop-color="#5a5a5a"/><stop offset="0.5009" stop-color="#414141"/><stop offset="0.5128" stop-color="#3a3a3a"/><stop offset="0.6131" stop-color="#4c4c4c"/><stop offset="0.7151" stop-color="#515151"/><stop offset="0.7917" stop-color="#5d5d5d"/><stop offset="0.8376" stop-color="#6d6d6d"/><stop offset="0.8665" stop-color="#7c7c7c"/><stop offset="0.8767" stop-color="#858585"/><stop offset="0.9022" stop-color="#9f9f9f"/><stop offset="0.9702" stop-color="#f2f2f2"/><stop offset="0.9753" stop-color="#f5f5f5"/><stop offset="0.9974" stop-color="#f5f5f5"/></linearGradient><linearGradient id="c162" x2="0" y2="1"><stop offset="0.002551" stop-color="#222222"/><stop offset="0.256" stop-color="#232323"/><stop offset="0.3597" stop-color="#2f2f2f"/><stop offset="0.4379" stop-color="#3b3b3b"/><stop offset="0.4498" stop-color="#3f3f3f"/><stop offset="0.4583" stop-color="#474747"/><stop offset="0.4736" stop-color="#666666"/><stop offset="0.4787" stop-color="#6c6c6c"/><stop offset="0.4821" stop-color="#6b6b6b"/><stop offset="0.4855" stop-color="#666666"/><stop offset="0.5009" stop-color="#444444"/><stop offset="0.506" stop-color="#3e3e3e"/><stop offset="0.5128" stop-color="#3a3a3a"/><stop offset="0.6131" stop-color="#4c4c4c"/><stop offset="0.7151" stop-color="#525252"/><stop offset="0.7917" stop-color="#5e5e5e"/><stop offset="0.8376" stop-color="#6d6d6d"/><stop offset="0.8665" stop-color="#7d7d7d"/><stop offset="0.9022" stop-color="#a0a0a0"/><stop offset="0.9702" stop-color="#f2f2f2"/><stop offset="0.9753" stop-color="#f5f5f5"/><stop offset="0.9974" stop-color="#f5f5f5"/></linearGradient><linearGradient id="c163" x2="0" y2="1"><stop offset="0.002551" stop-color="#222222"/><stop offset="0.256" stop-color="#232323"/><stop offset="0.3597" stop-color="#2f2f2f"/><stop offset="0.4498" stop-color="#3f3f3f"/><stop offset="0.4583" stop-color="#464646"/><stop offset="0.4736" stop-color="#626262"/><stop offset="0.4787" stop-color="#676767"/><stop offset="0.4821" stop-color="#666666"/><stop offset="0.4855" stop-color="#626262"/><stop offset="0.5009" stop-color="#434343"/><stop offset="0.506" stop-color="#3d3d3d"/><stop offset="0.5128" stop-color="#3a3a3a"/><stop offset="0.5638" stop-color="#454545"/><stop offset="0.6131" stop-color="#4d4d4d"/><stop offset="0.7151" stop-color="#525252"/><stop offset="0.7917" stop-color="#5e5e5e"/><stop offset="0.8376" stop-color="#6e6e6e"/><stop offset="0.8665" stop-color="#7e7e7e"/><stop offset="0.9022" stop-color="#a1a1a1"/><stop offset="0.9702" stop-color="#f2f2f2"/><stop offset="0.9753" stop-color="#f5f5f5"/><stop offset="0.9974" stop-color="#f5f5f5"/></linearGradient><linearGradient id="c164" x2="0" y2="1"><stop offset="0.002551" stop-color="#222222"/><stop offset="0.256" stop-color="#232323"/><stop offset="0.3597" stop-color="#2f2f2f"/><stop offset="0.4447" stop-color="#3d3d3d"/><stop offset="0.4566" stop-color="#414141"/><stop offset="0.4736" stop-color="#525252"/><stop offset="0.4787" stop-color="#555555"/><stop offset="0.4855" stop-color="#515151"/><stop offset="0.5026" stop-color="#3e3e3e"/><stop offset="0.5128" stop-color="#393939"/><stop offset="0.5638" stop-color="#464646"/><stop offset="0.6131" stop-color="#4e4e4e"/><stop offset="0.7151" stop-color="#525252"/><stop offset="0.7917" stop-color="#5e5e5e"/><stop offset="0.8376" stop-color="#6e6e6e"/><stop offset="0.8665" stop-color="#7e7e7e"/><stop offset="0.9107" stop-color="#ababab"/><stop offset="0.9702" stop-color="#f3f3f3"/><stop offset="0.9753" stop-color="#f5f5f5"/><stop offset="0.9974" stop-color="#f5f5f5"/></linearGradient><linearGradient id="c165" x2="0" y2="1"><stop offset="0.002551" stop-color="#222222"/><stop offset="0.256" stop-color="#232323"/><stop offset="0.3597" stop-color="#2f2f2f"/><stop offset="0.4481" stop-color="#3d3d3d"/><stop offset="0.477" stop-color="#454545"/><stop offset="0.5128" stop-color="#393939"/><stop offset="0.5638" stop-color="#474747"/><stop offset="0.6131" stop-color="#4e4e4e"/><stop offset="0.7151" stop-color="#525252"/><stop offset="0.7917" stop-color="#5e5e5e"/><stop offset="0.8376" stop-color="#6f6f6f"/><stop offset="0.8648" stop-color="#7e7e7e"/><stop offset="0.8903" stop-color="#969696"/><stop offset="0.9107" stop-color="#acacac"/><stop offset="0.9702" stop-color="#f3f3f3"/><stop offset="0.9753" stop-color="#f5f5f5"/><stop offset="0.9974" stop-color="#f5f5f5"/></linearGradient><linearGradient id="c166" x2="0" y2="1"><stop offset="0.002551" stop-color="#232323"/><stop offset="0.256" stop-color="#232323"/><stop offset="0.358" stop-color="#2f2f2f"/><stop offset="0.46" stop-color="#3f3f3f"/><stop offset="0.4804" stop-color="#3f3f3f"/><stop offset="0.5128" stop-color="#3a3a3a"/><stop offset="0.5621" stop-color="#484848"/><stop offset="0.6131" stop-color="#4f4f4f"/><stop offset="0.7151" stop-color="#535353"/><stop offset="0.7917" stop-color="#5e5e5e"/><stop offset="0.8376" stop-color="#6f6f6f"/><stop offset="0.8648" stop-color="#7e7e7e"/><stop offset="0.9107" stop-color="#adadad"/><stop offset="0.9532" stop-color="#e1e1e1"/><stop offset="0.9702" stop-color="#f4f4f4"/><stop offset="0.9974" stop-color="#f5f5f5"/></linearGradient><linearGradient id="c167" x2="0" y2="1"><stop offset="0.002551" stop-color="#232323"/><stop offset="0.256" stop-color="#232323"/><stop offset="0.46" stop-color="#3f3f3f"/><stop offset="0.5128" stop-color="#3b3b3b"/><stop offset="0.5621" stop-color="#494949"/><stop offset="0.6131" stop-color="#515151"/><stop offset="0.7151" stop-color="#535353"/><stop offset="0.7917" stop-color="#5f5f5f"/><stop offset="0.8376" stop-color="#6f6f6f"/><stop offset="0.8648" stop-color="#7f7f7f"/><stop offset="0.9107" stop-color="#aeaeae"/><stop offset="0.9532" stop-color="#e2e2e2"/><stop offset="0.9702" stop-color="#f4f4f4"/><stop offset="0.9974" stop-color="#f5f5f5"/></linearGradient><linearGradient id="c168" x2="0" y2="1"><stop offset="0.002551" stop-color="#232323"/><stop offset="0.256" stop-color="#232323"/><stop offset="0.46" stop-color="#404040"/><stop offset="0.5128" stop-color="#3d3d3d"/><stop offset="0.5621" stop-color="#4b4b4b"/><stop offset="0.6131" stop-color="#525252"/><stop offset="0.7151" stop-color="#545454"/><stop offset="0.7917" stop-color="#5f5f5f"/><stop offset="0.8376" stop-color="#707070"/><stop offset="0.8648" stop-color="#7f7f7f"/><stop offset="0.9107" stop-color="#aeaeae"/><stop offset="0.9532" stop-color="#e2e2e2"/><stop offset="0.9702" stop-color="#f5f5f5"/><stop offset="0.9974" stop-color="#f5f5f5"/></linearGradient><linearGradient id="c169" x2="0" y2="1"><stop offset="0.002551" stop-color="#232323"/><stop offset="0.256" stop-color="#232323"/><stop offset="0.46" stop-color="#404040"/><stop offset="0.5111" stop-color="#3f3f3f"/><stop offset="0.5621" stop-color="#4d4d4d"/><stop offset="0.5995" stop-color="#525252"/><stop offset="0.7168" stop-color="#555555"/><stop offset="0.7917" stop-color="#5f5f5f"/><stop offset="0.8376" stop-color="#707070"/><stop offset="0.8648" stop-color="#7f7f7f"/><stop offset="0.9107" stop-color="#aeaeae"/><stop offset="0.9515" stop-color="#e1e1e1"/><stop offset="0.9685" stop-color="#f3f3f3"/><stop offset="0.9719" stop-color="#f5f5f5"/><stop offset="0.9974" stop-color="#f5f5f5"/></linearGradient><linearGradient id="c170" x2="0" y2="1"><stop offset="0.002551" stop-color="#232323"/><stop offset="0.256" stop-color="#232323"/><stop offset="0.3682" stop-color="#383838"/><stop offset="0.46" stop-color="#414141"/><stop offset="0.5111" stop-color="#414141"/><stop offset="0.5604" stop-color="#4e4e4e"/><stop offset="0.5825" stop-color="#515151"/><stop offset="0.6148" stop-color="#545454"/><stop offset="0.7338" stop-color="#565656"/><stop offset="0.7883" stop-color="#5e5e5e"/><stop offset="0.8376" stop-color="#707070"/><stop offset="0.8648" stop-color="#7f7f7f"/><stop offset="0.9107" stop-color="#aeaeae"/><stop offset="0.9515" stop-color="#e1e1e1"/><stop offset="0.9685" stop-color="#f3f3f3"/><stop offset="0.9719" stop-color="#f5f5f5"/><stop offset="0.9974" stop-color="#f5f5f5"/></linearGradient><linearGradient id="c171" x2="0" y2="1"><stop offset="0.002551" stop-color="#232323"/><stop offset="0.256" stop-color="#232323"/><stop offset="0.3002" stop-color="#2d2d2d"/><stop offset="0.3172" stop-color="#353535"/><stop offset="0.3427" stop-color="#454545"/><stop offset="0.3563" stop-color="#494949"/><stop offset="0.3682" stop-color="#494949"/><stop offset="0.3971" stop-color="#404040"/><stop offset="0.4158" stop-color="#3e3e3e"/><stop offset="0.4617" stop-color="#424242"/><stop offset="0.5111" stop-color="#424242"/><stop offset="0.5587" stop-color="#4f4f4f"/><stop offset="0.5825" stop-color="#525252"/><stop offset="0.6148" stop-color="#545454"/><stop offset="0.7355" stop-color="#565656"/><stop offset="0.7883" stop-color="#5e5e5e"/><stop offset="0.8376" stop-color="#707070"/><stop offset="0.8648" stop-color="#808080"/><stop offset="0.9107" stop-color="#aeaeae"/><stop offset="0.9515" stop-color="#e1e1e1"/><stop offset="0.9685" stop-color="#f4f4f4"/><stop offset="0.9974" stop-color="#f5f5f5"/></linearGradient><linearGradient id="c172" x2="0" y2="1"><stop offset="0.002551" stop-color="#232323"/><stop offset="0.2577" stop-color="#232323"/><stop offset="0.2849" stop-color="#292929"/><stop offset="0.3019" stop-color="#303030"/><stop offset="0.3172" stop-color="#3b3b3b"/><stop offset="0.3444" stop-color="#545454"/><stop offset="0.358" stop-color="#595959"/><stop offset="0.3699" stop-color="#565656"/><stop offset="0.4022" stop-color="#434343"/><stop offset="0.4277" stop-color="#3f3f3f"/><stop offset="0.4617" stop-color="#424242"/><stop offset="0.5111" stop-color="#424242"/><stop offset="0.5621" stop-color="#4f4f4f"/><stop offset="0.5927" stop-color="#525252"/><stop offset="0.7372" stop-color="#565656"/><stop offset="0.7866" stop-color="#5e5e5e"/><stop offset="0.8342" stop-color="#6f6f6f"/><stop offset="0.8648" stop-color="#808080"/><stop offset="0.9107" stop-color="#aeaeae"/><stop offset="0.9515" stop-color="#e2e2e2"/><stop offset="0.9685" stop-color="#f4f4f4"/><stop offset="0.9974" stop-color="#f5f5f5"/></linearGradient><linearGradient id="c173" x2="0" y2="1"><stop offset="0.002551" stop-color="#242424"/><stop offset="0.256" stop-color="#232323"/><stop offset="0.3002" stop-color="#2d2d2d"/><stop offset="0.3427" stop-color="#454545"/><stop offset="0.3563" stop-color="#494949"/><stop offset="0.3682" stop-color="#494949"/><stop offset="0.3971" stop-color="#414141"/><stop offset="0.4158" stop-color="#3e3e3e"/><stop offset="0.4617" stop-color="#414141"/><stop offset="0.5111" stop-color="#414141"/><stop offset="0.574" stop-color="#4f4f4f"/><stop offset="0.6148" stop-color="#535353"/><stop offset="0.7372" stop-color="#565656"/><stop offset="0.7866" stop-color="#5e5e5e"/><stop offset="0.8342" stop-color="#6f6f6f"/><stop offset="0.8648" stop-color="#808080"/><stop offset="0.8903" stop-color="#989898"/><stop offset="0.9107" stop-color="#aeaeae"/><stop offset="0.9498" stop-color="#e0e0e0"/><stop offset="0.9685" stop-color="#f4f4f4"/><stop offset="0.9974" stop-color="#f5f5f5"/></linearGradient><linearGradient id="c174" x2="0" y2="1"><stop offset="0.002551" stop-color="#242424"/><stop offset="0.256" stop-color="#232323"/><stop offset="0.375" stop-color="#3b3b3b"/><stop offset="0.46" stop-color="#404040"/><stop offset="0.5111" stop-color="#3f3f3f"/><stop offset="0.5638" stop-color="#4c4c4c"/><stop offset="0.6131" stop-color="#515151"/><stop offset="0.7372" stop-color="#565656"/><stop offset="0.7866" stop-color="#5e5e5e"/><stop offset="0.8342" stop-color="#707070"/><stop offset="0.8648" stop-color="#808080"/><stop offset="0.8903" stop-color="#989898"/><stop offset="0.9107" stop-color="#aeaeae"/><stop offset="0.9498" stop-color="#e0e0e0"/><stop offset="0.9685" stop-color="#f5f5f5"/><stop offset="0.9974" stop-color="#f5f5f5"/></linearGradient><linearGradient id="c175" x2="0" y2="1"><stop offset="0.002551" stop-color="#242424"/><stop offset="0.256" stop-color="#232323"/><stop offset="0.3308" stop-color="#313131"/><stop offset="0.3988" stop-color="#414141"/><stop offset="0.46" stop-color="#404040"/><stop offset="0.5111" stop-color="#3d3d3d"/><stop offset="0.5638" stop-color="#4a4a4a"/><stop offset="0.6148" stop-color="#4f4f4f"/><stop offset="0.7015" stop-color="#525252"/><stop offset="0.7866" stop-color="#5e5e5e"/><stop offset="0.8325" stop-color="#6f6f6f"/><stop offset="0.8648" stop-color="#808080"/><stop offset="0.8903" stop-color="#989898"/><stop offset="0.9107" stop-color="#aeaeae"/><stop offset="0.9498" stop-color="#e1e1e1"/><stop offset="0.9685" stop-color="#f5f5f5"/><stop offset="0.9974" stop-color="#f5f5f5"/></linearGradient><linearGradient id="c176" x2="0" y2="1"><stop offset="0.002551" stop-color="#242424"/><stop offset="0.256" stop-color="#232323"/><stop offset="0.3257" stop-color="#313131"/><stop offset="0.3767" stop-color="#444444"/><stop offset="0.3954" stop-color="#484848"/><stop offset="0.4141" stop-color="#484848"/><stop offset="0.5111" stop-color="#3b3b3b"/><stop offset="0.5638" stop-color="#494949"/><stop offset="0.6981" stop-color="#505050"/><stop offset="0.7866" stop-color="#5f5f5f"/><stop offset="0.8325" stop-color="#6f6f6f"/><stop offset="0.8631" stop-color="#7f7f7f"/><stop offset="0.8903" stop-color="#989898"/><stop offset="0.9107" stop-color="#aeaeae"/><stop offset="0.9498" stop-color="#e1e1e1"/><stop offset="0.9685" stop-color="#f5f5f5"/><stop offset="0.9974" stop-color="#f5f5f5"/></linearGradient><linearGradient id="c177" x2="0" y2="1"><stop offset="0.002551" stop-color="#242424"/><stop offset="0.256" stop-color="#232323"/><stop offset="0.324" stop-color="#323232"/><stop offset="0.375" stop-color="#494949"/><stop offset="0.3937" stop-color="#4e4e4e"/><stop offset="0.4124" stop-color="#4e4e4e"/><stop offset="0.4736" stop-color="#3f3f3f"/><stop offset="0.5111" stop-color="#3a3a3a"/><stop offset="0.5638" stop-color="#484848"/><stop offset="0.6964" stop-color="#4f4f4f"/><stop offset="0.7866" stop-color="#5f5f5f"/><stop offset="0.8325" stop-color="#6f6f6f"/><stop offset="0.8648" stop-color="#808080"/><stop offset="0.8903" stop-color="#989898"/><stop offset="0.9107" stop-color="#aeaeae"/><stop offset="0.9498" stop-color="#e1e1e1"/><stop offset="0.9685" stop-color="#f5f5f5"/><stop offset="0.9974" stop-color="#f5f5f5"/></linearGradient><linearGradient id="c178" x2="0" y2="1"><stop offset="0.002551" stop-color="#242424"/><stop offset="0.05357" stop-color="#262626"/><stop offset="0.256" stop-color="#232323"/><stop offset="0.324" stop-color="#323232"/><stop offset="0.375" stop-color="#494949"/><stop offset="0.3937" stop-color="#4e4e4e"/><stop offset="0.4124" stop-color="#4e4e4e"/><stop offset="0.4736" stop-color="#3f3f3f"/><stop offset="0.5111" stop-color="#3a3a3a"/><stop offset="0.5638" stop-color="#474747"/><stop offset="0.6947" stop-color="#4e4e4e"/><stop offset="0.7866" stop-color="#5e5e5e"/><stop offset="0.8325" stop-color="#6f6f6f"/><stop offset="0.8648" stop-color="#808080"/><stop offset="0.892" stop-color="#999999"/><stop offset="0.9107" stop-color="#aeaeae"/><stop offset="0.9515" stop-color="#e3e3e3"/><stop offset="0.9685" stop-color="#f5f5f5"/><stop offset="0.9974" stop-color="#f5f5f5"/></linearGradient><linearGradient id="c179" x2="0" y2="1"><stop offset="0.002551" stop-color="#252525"/><stop offset="0.05357" stop-color="#262626"/><stop offset="0.256" stop-color="#232323"/><stop offset="0.3274" stop-color="#323232"/><stop offset="0.3767" stop-color="#444444"/><stop offset="0.3954" stop-color="#484848"/><stop offset="0.4141" stop-color="#484848"/><stop offset="0.5111" stop-color="#3a3a3a"/><stop offset="0.5638" stop-color="#464646"/><stop offset="0.693" stop-color="#4d4d4d"/><stop offset="0.7083" stop-color="#515151"/><stop offset="0.7866" stop-color="#5e5e5e"/><stop offset="0.8342" stop-color="#707070"/><stop offset="0.8648" stop-color="#808080"/><stop offset="0.892" stop-color="#999999"/><stop offset="0.9107" stop-color="#adadad"/><stop offset="0.9515" stop-color="#e3e3e3"/><stop offset="0.9685" stop-color="#f5f5f5"/><stop offset="0.9974" stop-color="#f5f5f5"/></linearGradient><linearGradient id="c180" x2="0" y2="1"><stop offset="0.002551" stop-color="#252525"/><stop offset="0.05357" stop-color="#262626"/><stop offset="0.1556" stop-color="#232323"/><stop offset="0.256" stop-color="#232323"/><stop offset="0.3325" stop-color="#313131"/><stop offset="0.4005" stop-color="#404040"/><stop offset="0.4362" stop-color="#414141"/><stop offset="0.5111" stop-color="#3a3a3a"/><stop offset="0.5638" stop-color="#464646"/><stop offset="0.693" stop-color="#4d4d4d"/><stop offset="0.71" stop-color="#525252"/><stop offset="0.7866" stop-color="#5e5e5e"/><stop offset="0.8342" stop-color="#707070"/><stop offset="0.8648" stop-color="#808080"/><stop offset="0.892" stop-color="#999999"/><stop offset="0.9107" stop-color="#adadad"/><stop offset="0.9515" stop-color="#e3e3e3"/><stop offset="0.9685" stop-color="#f5f5f5"/><stop offset="0.9974" stop-color="#f5f5f5"/></linearGradient><linearGradient id="c181" x2="0" y2="1"><stop offset="0.002551" stop-color="#252525"/><stop offset="0.05357" stop-color="#272727"/><stop offset="0.1556" stop-color="#232323"/><stop offset="0.256" stop-color="#232323"/><stop offset="0.358" stop-color="#333333"/><stop offset="0.4243" stop-color="#3f3f3f"/><stop offset="0.4464" stop-color="#404040"/><stop offset="0.5128" stop-color="#3a3a3a"/><stop offset="0.5638" stop-color="#454545"/><stop offset="0.693" stop-color="#4d4d4d"/><stop offset="0.71" stop-color="#525252"/><stop offset="0.7866" stop-color="#5e5e5e"/><stop offset="0.8342" stop-color="#707070"/><stop offset="0.8648" stop-color="#808080"/><stop offset="0.892" stop-color="#999999"/><stop offset="0.9107" stop-color="#adadad"/><stop offset="0.9515" stop-color="#e2e2e2"/><stop offset="0.9668" stop-color="#f4f4f4"/><stop offset="0.9974" stop-color="#f5f5f5"/></linearGradient><linearGradient id="c182" x2="0" y2="1"><stop offset="0.002551" stop-color="#262626"/><stop offset="0.05357" stop-color="#272727"/><stop offset="0.1556" stop-color="#232323"/><stop offset="0.256" stop-color="#232323"/><stop offset="0.375" stop-color="#333333"/><stop offset="0.4311" stop-color="#434343"/><stop offset="0.5111" stop-color="#393939"/><stop offset="0.5638" stop-color="#454545"/><stop offset="0.693" stop-color="#4d4d4d"/><stop offset="0.71" stop-color="#525252"/><stop offset="0.7866" stop-color="#5e5e5e"/><stop offset="0.8342" stop-color="#707070"/><stop offset="0.8648" stop-color="#808080"/><stop offset="0.892" stop-color="#989898"/><stop offset="0.9124" stop-color="#aeaeae"/><stop offset="0.9515" stop-color="#e2e2e2"/><stop offset="0.9668" stop-color="#f4f4f4"/><stop offset="0.9974" stop-color="#f5f5f5"/></linearGradient><linearGradient id="c183" x2="0" y2="1"><stop offset="0.002551" stop-color="#262626"/><stop offset="0.05357" stop-color="#282828"/><stop offset="0.1556" stop-color="#242424"/><stop offset="0.2577" stop-color="#232323"/><stop offset="0.3801" stop-color="#333333"/><stop offset="0.3954" stop-color="#373737"/><stop offset="0.4226" stop-color="#454545"/><stop offset="0.4328" stop-color="#484848"/><stop offset="0.4447" stop-color="#474747"/><stop offset="0.4787" stop-color="#3c3c3c"/><stop offset="0.5111" stop-color="#393939"/><stop offset="0.5638" stop-color="#444444"/><stop offset="0.6913" stop-color="#4c4c4c"/><stop offset="0.71" stop-color="#525252"/><stop offset="0.7883" stop-color="#5f5f5f"/><stop offset="0.8342" stop-color="#707070"/><stop offset="0.8648" stop-color="#808080"/><stop offset="0.8937" stop-color="#9a9a9a"/><stop offset="0.9124" stop-color="#aeaeae"/><stop offset="0.9515" stop-color="#e2e2e2"/><stop offset="0.9668" stop-color="#f4f4f4"/><stop offset="0.9974" stop-color="#f5f5f5"/></linearGradient><linearGradient id="c184" x2="0" y2="1"><stop offset="0.002551" stop-color="#272727"/><stop offset="0.05357" stop-color="#282828"/><stop offset="0.1556" stop-color="#242424"/><stop offset="0.2577" stop-color="#232323"/><stop offset="0.3801" stop-color="#323232"/><stop offset="0.3971" stop-color="#383838"/><stop offset="0.4226" stop-color="#474747"/><stop offset="0.4328" stop-color="#4b4b4b"/><stop offset="0.443" stop-color="#4a4a4a"/><stop offset="0.4787" stop-color="#3d3d3d"/><stop offset="0.5111" stop-color="#393939"/><stop offset="0.5638" stop-color="#434343"/><stop offset="0.6913" stop-color="#4c4c4c"/><stop offset="0.71" stop-color="#525252"/><stop offset="0.7883" stop-color="#5f5f5f"/><stop offset="0.8342" stop-color="#6f6f6f"/><stop offset="0.8648" stop-color="#7f7f7f"/><stop offset="0.8937" stop-color="#999999"/><stop offset="0.9141" stop-color="#b0b0b0"/><stop offset="0.9515" stop-color="#e2e2e2"/><stop offset="0.9668" stop-color="#f4f4f4"/><stop offset="0.9974" stop-color="#f5f5f5"/></linearGradient><linearGradient id="c185" x2="0" y2="1"><stop offset="0.002551" stop-color="#272727"/><stop offset="0.05357" stop-color="#292929"/><stop offset="0.1556" stop-color="#242424"/><stop offset="0.2577" stop-color="#232323"/><stop offset="0.3801" stop-color="#313131"/><stop offset="0.3971" stop-color="#373737"/><stop offset="0.4226" stop-color="#464646"/><stop offset="0.4328" stop-color="#494949"/><stop offset="0.443" stop-color="#494949"/><stop offset="0.4787" stop-color="#3c3c3c"/><stop offset="0.5111" stop-color="#393939"/><stop offset="0.5638" stop-color="#434343"/><stop offset="0.6913" stop-color="#4c4c4c"/><stop offset="0.71" stop-color="#515151"/><stop offset="0.7883" stop-color="#5f5f5f"/><stop offset="0.8342" stop-color="#6f6f6f"/><stop offset="0.8648" stop-color="#7f7f7f"/><stop offset="0.8937" stop-color="#999999"/><stop offset="0.9141" stop-color="#afafaf"/><stop offset="0.9668" stop-color="#f4f4f4"/><stop offset="0.9974" stop-color="#f5f5f5"/></linearGradient><linearGradient id="c186" x2="0" y2="1"><stop offset="0.002551" stop-color="#282828"/><stop offset="0.05357" stop-color="#292929"/><stop offset="0.1556" stop-color="#242424"/><stop offset="0.2577" stop-color="#232323"/><stop offset="0.3801" stop-color="#313131"/><stop offset="0.3971" stop-color="#353535"/><stop offset="0.4328" stop-color="#454545"/><stop offset="0.4447" stop-color="#444444"/><stop offset="0.4804" stop-color="#3c3c3c"/><stop offset="0.5128" stop-color="#3a3a3a"/><stop offset="0.5638" stop-color="#424242"/><stop offset="0.6913" stop-color="#4c4c4c"/><stop offset="0.71" stop-color="#515151"/><stop offset="0.7883" stop-color="#5f5f5f"/><stop offset="0.8342" stop-color="#6f6f6f"/><stop offset="0.8648" stop-color="#7f7f7f"/><stop offset="0.8937" stop-color="#999999"/><stop offset="0.9141" stop-color="#afafaf"/><stop offset="0.9668" stop-color="#f4f4f4"/><stop offset="0.9974" stop-color="#f5f5f5"/></linearGradient><linearGradient id="c187" x2="0" y2="1"><stop offset="0.002551" stop-color="#282828"/><stop offset="0.05357" stop-color="#2a2a2a"/><stop offset="0.1556" stop-color="#242424"/><stop offset="0.2577" stop-color="#232323"/><stop offset="0.3087" stop-color="#272727"/><stop offset="0.3767" stop-color="#2f2f2f"/><stop offset="0.4345" stop-color="#3f3f3f"/><stop offset="0.5128" stop-color="#3a3a3a"/><stop offset="0.5638" stop-color="#414141"/><stop offset="0.6913" stop-color="#4c4c4c"/><stop offset="0.71" stop-color="#515151"/><stop offset="0.7883" stop-color="#5f5f5f"/><stop offset="0.8342" stop-color="#6f6f6f"/><stop offset="0.8665" stop-color="#808080"/><stop offset="0.8937" stop-color="#989898"/><stop offset="0.9141" stop-color="#afafaf"/><stop offset="0.9668" stop-color="#f4f4f4"/><stop offset="0.9974" stop-color="#f5f5f5"/></linearGradient><linearGradient id="c188" x2="0" y2="1"><stop offset="0.002551" stop-color="#292929"/><stop offset="0.05357" stop-color="#2a2a2a"/><stop offset="0.2066" stop-color="#232323"/><stop offset="0.307" stop-color="#262626"/><stop offset="0.3852" stop-color="#303030"/><stop offset="0.4413" stop-color="#3b3b3b"/><stop offset="0.4617" stop-color="#3c3c3c"/><stop offset="0.5128" stop-color="#393939"/><stop offset="0.5621" stop-color="#414141"/><stop offset="0.6913" stop-color="#4c4c4c"/><stop offset="0.71" stop-color="#515151"/><stop offset="0.7883" stop-color="#5f5f5f"/><stop offset="0.8342" stop-color="#6f6f6f"/><stop offset="0.8665" stop-color="#818181"/><stop offset="0.8937" stop-color="#999999"/><stop offset="0.9141" stop-color="#afafaf"/><stop offset="0.9668" stop-color="#f4f4f4"/><stop offset="0.9974" stop-color="#f5f5f5"/></linearGradient><linearGradient id="c189" x2="0" y2="1"><stop offset="0.002551" stop-color="#292929"/><stop offset="0.05357" stop-color="#2b2b2b"/><stop offset="0.2066" stop-color="#232323"/><stop offset="0.307" stop-color="#252525"/><stop offset="0.3937" stop-color="#303030"/><stop offset="0.46" stop-color="#3c3c3c"/><stop offset="0.5128" stop-color="#393939"/><stop offset="0.6896" stop-color="#4c4c4c"/><stop offset="0.71" stop-color="#525252"/><stop offset="0.7883" stop-color="#5f5f5f"/><stop offset="0.8342" stop-color="#707070"/><stop offset="0.8648" stop-color="#808080"/><stop offset="0.8937" stop-color="#999999"/><stop offset="0.9141" stop-color="#afafaf"/><stop offset="0.9668" stop-color="#f5f5f5"/><stop offset="0.9974" stop-color="#f5f5f5"/></linearGradient><linearGradient id="c190" x2="0" y2="1"><stop offset="0.002551" stop-color="#2a2a2a"/><stop offset="0.05357" stop-color="#2b2b2b"/><stop offset="0.2049" stop-color="#232323"/><stop offset="0.307" stop-color="#252525"/><stop offset="0.4005" stop-color="#313131"/><stop offset="0.4481" stop-color="#3c3c3c"/><stop offset="0.5128" stop-color="#3a3a3a"/><stop offset="0.6879" stop-color="#4c4c4c"/><stop offset="0.71" stop-color="#525252"/><stop offset="0.7798" stop-color="#5d5d5d"/><stop offset="0.8342" stop-color="#707070"/><stop offset="0.8648" stop-color="#808080"/><stop offset="0.8937" stop-color="#9a9a9a"/><stop offset="0.9141" stop-color="#b0b0b0"/><stop offset="0.9515" stop-color="#e2e2e2"/><stop offset="0.9668" stop-color="#f5f5f5"/><stop offset="0.9974" stop-color="#f5f5f5"/></linearGradient><linearGradient id="c191" x2="0" y2="1"><stop offset="0.002551" stop-color="#2a2a2a"/><stop offset="0.05357" stop-color="#2c2c2c"/><stop offset="0.2049" stop-color="#242424"/><stop offset="0.307" stop-color="#252525"/><stop offset="0.3699" stop-color="#2f2f2f"/><stop offset="0.4022" stop-color="#323232"/><stop offset="0.4413" stop-color="#434343"/><stop offset="0.4515" stop-color="#434343"/><stop offset="0.4804" stop-color="#3b3b3b"/><stop offset="0.5128" stop-color="#3a3a3a"/><stop offset="0.6896" stop-color="#4c4c4c"/><stop offset="0.71" stop-color="#525252"/><stop offset="0.7798" stop-color="#5e5e5e"/><stop offset="0.8342" stop-color="#717171"/><stop offset="0.8648" stop-color="#818181"/><stop offset="0.8937" stop-color="#9b9b9b"/><stop offset="0.909" stop-color="#ababab"/><stop offset="0.9515" stop-color="#e3e3e3"/><stop offset="0.9668" stop-color="#f5f5f5"/><stop offset="0.9974" stop-color="#f5f5f5"/></linearGradient><linearGradient id="c192" x2="0" y2="1"><stop offset="0.002551" stop-color="#2b2b2b"/><stop offset="0.05357" stop-color="#2c2c2c"/><stop offset="0.2049" stop-color="#242424"/><stop offset="0.307" stop-color="#252525"/><stop offset="0.3393" stop-color="#2b2b2b"/><stop offset="0.3699" stop-color="#3c3c3c"/><stop offset="0.3784" stop-color="#3b3b3b"/><stop offset="0.3954" stop-color="#353535"/><stop offset="0.4056" stop-color="#353535"/><stop offset="0.4141" stop-color="#3a3a3a"/><stop offset="0.4328" stop-color="#4a4a4a"/><stop offset="0.4413" stop-color="#4e4e4e"/><stop offset="0.4498" stop-color="#4c4c4c"/><stop offset="0.4787" stop-color="#3d3d3d"/><stop offset="0.5128" stop-color="#3a3a3a"/><stop offset="0.6896" stop-color="#4c4c4c"/><stop offset="0.71" stop-color="#525252"/><stop offset="0.7781" stop-color="#5d5d5d"/><stop offset="0.8342" stop-color="#717171"/><stop offset="0.8648" stop-color="#828282"/><stop offset="0.8937" stop-color="#9b9b9b"/><stop offset="0.909" stop-color="#acacac"/><stop offset="0.9634" stop-color="#f2f2f2"/><stop offset="0.9685" stop-color="#f5f5f5"/><stop offset="0.9974" stop-color="#f5f5f5"/></linearGradient><linearGradient id="c193" x2="0" y2="1"><stop offset="0.002551" stop-color="#2c2c2c"/><stop offset="0.05357" stop-color="#2d2d2d"/><stop offset="0.2049" stop-color="#242424"/><stop offset="0.307" stop-color="#252525"/><stop offset="0.3393" stop-color="#2b2b2b"/><stop offset="0.3699" stop-color="#3c3c3c"/><stop offset="0.3784" stop-color="#3b3b3b"/><stop offset="0.3954" stop-color="#353535"/><stop offset="0.4056" stop-color="#353535"/><stop offset="0.4141" stop-color="#3a3a3a"/><stop offset="0.4328" stop-color="#4a4a4a"/><stop offset="0.4413" stop-color="#4e4e4e"/><stop offset="0.4498" stop-color="#4c4c4c"/><stop offset="0.4787" stop-color="#3d3d3d"/><stop offset="0.5128" stop-color="#3a3a3a"/><stop offset="0.6896" stop-color="#4d4d4d"/><stop offset="0.71" stop-color="#525252"/><stop offset="0.7781" stop-color="#5e5e5e"/><stop offset="0.8257" stop-color="#6e6e6e"/><stop offset="0.8648" stop-color="#828282"/><stop offset="0.8937" stop-color="#9c9c9c"/><stop offset="0.909" stop-color="#acacac"/><stop offset="0.9634" stop-color="#f2f2f2"/><stop offset="0.9685" stop-color="#f5f5f5"/><stop offset="0.9974" stop-color="#f5f5f5"/></linearGradient><linearGradient id="c194" x2="0" y2="1"><stop offset="0.002551" stop-color="#2c2c2c"/><stop offset="0.05357" stop-color="#2d2d2d"/><stop offset="0.2049" stop-color="#252525"/><stop offset="0.307" stop-color="#252525"/><stop offset="0.4022" stop-color="#323232"/><stop offset="0.4413" stop-color="#444444"/><stop offset="0.4515" stop-color="#434343"/><stop offset="0.4804" stop-color="#3c3c3c"/><stop offset="0.5128" stop-color="#3a3a3a"/><stop offset="0.6896" stop-color="#4d4d4d"/><stop offset="0.7781" stop-color="#5e5e5e"/><stop offset="0.8257" stop-color="#6e6e6e"/><stop offset="0.858" stop-color="#7e7e7e"/><stop offset="0.8852" stop-color="#959595"/><stop offset="0.9073" stop-color="#ababab"/><stop offset="0.9634" stop-color="#f3f3f3"/><stop offset="0.9685" stop-color="#f5f5f5"/><stop offset="0.9974" stop-color="#f5f5f5"/></linearGradient><linearGradient id="c195" x2="0" y2="1"><stop offset="0.002551" stop-color="#2d2d2d"/><stop offset="0.05357" stop-color="#2e2e2e"/><stop offset="0.2049" stop-color="#252525"/><stop offset="0.307" stop-color="#262626"/><stop offset="0.3988" stop-color="#313131"/><stop offset="0.4464" stop-color="#3c3c3c"/><stop offset="0.4617" stop-color="#3d3d3d"/><stop offset="0.5128" stop-color="#3a3a3a"/><stop offset="0.6896" stop-color="#4d4d4d"/><stop offset="0.7781" stop-color="#5e5e5e"/><stop offset="0.8257" stop-color="#6e6e6e"/><stop offset="0.858" stop-color="#7e7e7e"/><stop offset="0.8852" stop-color="#959595"/><stop offset="0.9073" stop-color="#ababab"/><stop offset="0.9634" stop-color="#f3f3f3"/><stop offset="0.9685" stop-color="#f5f5f5"/><stop offset="0.9974" stop-color="#f5f5f5"/></linearGradient><linearGradient id="c196" x2="0" y2="1"><stop offset="0.002551" stop-color="#2e2e2e"/><stop offset="0.05357" stop-color="#2e2e2e"/><stop offset="0.2049" stop-color="#252525"/><stop offset="0.307" stop-color="#262626"/><stop offset="0.3903" stop-color="#303030"/><stop offset="0.46" stop-color="#3c3c3c"/><stop offset="0.5128" stop-color="#3b3b3b"/><stop offset="0.6896" stop-color="#4e4e4e"/><stop offset="0.7781" stop-color="#5e5e5e"/><stop offset="0.824" stop-color="#6e6e6e"/><stop offset="0.858" stop-color="#7f7f7f"/><stop offset="0.8852" stop-color="#969696"/><stop offset="0.9073" stop-color="#acacac"/><stop offset="0.9634" stop-color="#f4f4f4"/><stop offset="0.9974" stop-color="#f5f5f5"/></linearGradient><linearGradient id="c197" x2="0" y2="1"><stop offset="0.002551" stop-color="#2e2e2e"/><stop offset="0.05357" stop-color="#2f2f2f"/><stop offset="0.2049" stop-color="#252525"/><stop offset="0.307" stop-color="#262626"/><stop offset="0.3597" stop-color="#2b2b2b"/><stop offset="0.46" stop-color="#3c3c3c"/><stop offset="0.5128" stop-color="#3b3b3b"/><stop offset="0.6913" stop-color="#4e4e4e"/><stop offset="0.7781" stop-color="#5e5e5e"/><stop offset="0.8257" stop-color="#6f6f6f"/><stop offset="0.8563" stop-color="#7e7e7e"/><stop offset="0.8648" stop-color="#858585"/><stop offset="0.8869" stop-color="#989898"/><stop offset="0.909" stop-color="#afafaf"/><stop offset="0.9634" stop-color="#f4f4f4"/><stop offset="0.9974" stop-color="#f5f5f5"/></linearGradient><linearGradient id="c198" x2="0" y2="1"><stop offset="0.002551" stop-color="#2f2f2f"/><stop offset="0.05357" stop-color="#2f2f2f"/><stop offset="0.2049" stop-color="#262626"/><stop offset="0.307" stop-color="#262626"/><stop offset="0.3223" stop-color="#282828"/><stop offset="0.3274" stop-color="#2b2b2b"/><stop offset="0.3308" stop-color="#313131"/><stop offset="0.3359" stop-color="#424242"/><stop offset="0.3376" stop-color="#454545"/><stop offset="0.341" stop-color="#424242"/><stop offset="0.3461" stop-color="#333333"/><stop offset="0.3495" stop-color="#2d2d2d"/><stop offset="0.3563" stop-color="#2b2b2b"/><stop offset="0.46" stop-color="#3c3c3c"/><stop offset="0.5128" stop-color="#3b3b3b"/><stop offset="0.6913" stop-color="#4e4e4e"/><stop offset="0.7781" stop-color="#5e5e5e"/><stop offset="0.824" stop-color="#6f6f6f"/><stop offset="0.858" stop-color="#7f7f7f"/><stop offset="0.8852" stop-color="#979797"/><stop offset="0.9073" stop-color="#adadad"/><stop offset="0.9634" stop-color="#f5f5f5"/><stop offset="0.9974" stop-color="#f5f5f5"/></linearGradient><linearGradient id="c199" x2="0" y2="1"><stop offset="0.002551" stop-color="#2f2f2f"/><stop offset="0.05357" stop-color="#303030"/><stop offset="0.1556" stop-color="#282828"/><stop offset="0.256" stop-color="#252525"/><stop offset="0.3206" stop-color="#282828"/><stop offset="0.3257" stop-color="#2b2b2b"/><stop offset="0.3291" stop-color="#373737"/><stop offset="0.3308" stop-color="#414141"/><stop offset="0.3359" stop-color="#6c6c6c"/><stop offset="0.3376" stop-color="#747474"/><stop offset="0.3393" stop-color="#747474"/><stop offset="0.341" stop-color="#6c6c6c"/><stop offset="0.3461" stop-color="#424242"/><stop offset="0.3478" stop-color="#383838"/><stop offset="0.3495" stop-color="#313131"/><stop offset="0.3529" stop-color="#2c2c2c"/><stop offset="0.3563" stop-color="#2b2b2b"/><stop offset="0.46" stop-color="#3c3c3c"/><stop offset="0.5128" stop-color="#3b3b3b"/><stop offset="0.6913" stop-color="#4f4f4f"/><stop offset="0.7781" stop-color="#5e5e5e"/><stop offset="0.824" stop-color="#6f6f6f"/><stop offset="0.858" stop-color="#808080"/><stop offset="0.8852" stop-color="#989898"/><stop offset="0.9073" stop-color="#aeaeae"/><stop offset="0.9634" stop-color="#f5f5f5"/><stop offset="0.9974" stop-color="#f5f5f5"/></linearGradient><linearGradient id="c200" x2="0" y2="1"><stop offset="0.002551" stop-color="#303030"/><stop offset="0.05357" stop-color="#303030"/><stop offset="0.1556" stop-color="#282828"/><stop offset="0.256" stop-color="#252525"/><stop offset="0.307" stop-color="#262626"/><stop offset="0.3274" stop-color="#292929"/><stop offset="0.3376" stop-color="#2d2d2d"/><stop offset="0.3597" stop-color="#2b2b2b"/><stop offset="0.46" stop-color="#3d3d3d"/><stop offset="0.5128" stop-color="#3b3b3b"/><stop offset="0.6913" stop-color="#4f4f4f"/><stop offset="0.7781" stop-color="#5f5f5f"/><stop offset="0.824" stop-color="#6f6f6f"/><stop offset="0.858" stop-color="#808080"/><stop offset="0.9073" stop-color="#aeaeae"/><stop offset="0.9634" stop-color="#f5f5f5"/><stop offset="0.9974" stop-color="#f5f5f5"/></linearGradient><linearGradient id="c201" x2="0" y2="1"><stop offset="0.002551" stop-color="#313131"/><stop offset="0.05357" stop-color="#313131"/><stop offset="0.1556" stop-color="#282828"/><stop offset="0.256" stop-color="#252525"/><stop offset="0.307" stop-color="#272727"/><stop offset="0.3597" stop-color="#2b2b2b"/><stop offset="0.4107" stop-color="#333333"/><stop offset="0.4617" stop-color="#3f3f3f"/><stop offset="0.5145" stop-color="#3c3c3c"/><stop offset="0.6896" stop-color="#4f4f4f"/><stop offset="0.7781" stop-color="#5f5f5f"/><stop offset="0.824" stop-color="#707070"/><stop offset="0.858" stop-color="#818181"/><stop offset="0.8852" stop-color="#999999"/><stop offset="0.9073" stop-color="#afafaf"/><stop offset="0.9634" stop-color="#f5f5f5"/><stop offset="0.9974" stop-color="#f5f5f5"/></linearGradient><linearGradient id="c202" x2="0" y2="1"><stop offset="0.002551" stop-color="#313131"/><stop offset="0.05357" stop-color="#313131"/><stop offset="0.1556" stop-color="#292929"/><stop offset="0.256" stop-color="#252525"/><stop offset="0.3087" stop-color="#272727"/><stop offset="0.3597" stop-color="#2c2c2c"/><stop offset="0.4107" stop-color="#343434"/><stop offset="0.4668" stop-color="#464646"/><stop offset="0.4804" stop-color="#454545"/><stop offset="0.5111" stop-color="#3d3d3d"/><stop offset="0.523" stop-color="#3d3d3d"/><stop offset="0.6896" stop-color="#4f4f4f"/><stop offset="0.7781" stop-color="#606060"/><stop offset="0.824" stop-color="#707070"/><stop offset="0.858" stop-color="#828282"/><stop offset="0.8852" stop-color="#9a9a9a"/><stop offset="0.9073" stop-color="#b0b0b0"/><stop offset="0.9634" stop-color="#f5f5f5"/><stop offset="0.9974" stop-color="#f5f5f5"/></linearGradient><linearGradient id="c203" x2="0" y2="1"><stop offset="0.002551" stop-color="#323232"/><stop offset="0.05357" stop-color="#323232"/><stop offset="0.1556" stop-color="#292929"/><stop offset="0.256" stop-color="#262626"/><stop offset="0.307" stop-color="#272727"/><stop offset="0.3597" stop-color="#2c2c2c"/><stop offset="0.4158" stop-color="#353535"/><stop offset="0.4328" stop-color="#3c3c3c"/><stop offset="0.46" stop-color="#4e4e4e"/><stop offset="0.4702" stop-color="#525252"/><stop offset="0.4821" stop-color="#505050"/><stop offset="0.5111" stop-color="#404040"/><stop offset="0.5247" stop-color="#3e3e3e"/><stop offset="0.6879" stop-color="#4f4f4f"/><stop offset="0.7509" stop-color="#5b5b5b"/><stop offset="0.7781" stop-color="#616161"/><stop offset="0.807" stop-color="#6b6b6b"/><stop offset="0.8563" stop-color="#818181"/><stop offset="0.8852" stop-color="#9a9a9a"/><stop offset="0.9073" stop-color="#b1b1b1"/><stop offset="0.9481" stop-color="#e4e4e4"/><stop offset="0.9634" stop-color="#f5f5f5"/><stop offset="0.9974" stop-color="#f5f5f5"/></linearGradient><linearGradient id="c204" x2="0" y2="1"><stop offset="0.002551" stop-color="#333333"/><stop offset="0.05357" stop-color="#333333"/><stop offset="0.1556" stop-color="#292929"/><stop offset="0.256" stop-color="#262626"/><stop offset="0.307" stop-color="#282828"/><stop offset="0.3597" stop-color="#2c2c2c"/><stop offset="0.4158" stop-color="#353535"/><stop offset="0.4328" stop-color="#3c3c3c"/><stop offset="0.46" stop-color="#515151"/><stop offset="0.4702" stop-color="#555555"/><stop offset="0.4821" stop-color="#535353"/><stop offset="0.5111" stop-color="#414141"/><stop offset="0.5264" stop-color="#3f3f3f"/><stop offset="0.6862" stop-color="#505050"/><stop offset="0.7509" stop-color="#5c5c5c"/><stop offset="0.7798" stop-color="#626262"/><stop offset="0.807" stop-color="#6b6b6b"/><stop offset="0.8563" stop-color="#828282"/><stop offset="0.8852" stop-color="#9b9b9b"/><stop offset="0.9073" stop-color="#b1b1b1"/><stop offset="0.9617" stop-color="#f4f4f4"/><stop offset="0.9974" stop-color="#f5f5f5"/></linearGradient><linearGradient id="c205" x2="0" y2="1"><stop offset="0.002551" stop-color="#333333"/><stop offset="0.05357" stop-color="#333333"/><stop offset="0.1556" stop-color="#2a2a2a"/><stop offset="0.256" stop-color="#262626"/><stop offset="0.3087" stop-color="#282828"/><stop offset="0.3597" stop-color="#2c2c2c"/><stop offset="0.4124" stop-color="#353535"/><stop offset="0.4311" stop-color="#3a3a3a"/><stop offset="0.46" stop-color="#4a4a4a"/><stop offset="0.4719" stop-color="#4d4d4d"/><stop offset="0.4889" stop-color="#4c4c4c"/><stop offset="0.5162" stop-color="#414141"/><stop offset="0.5315" stop-color="#404040"/><stop offset="0.6828" stop-color="#4f4f4f"/><stop offset="0.7509" stop-color="#5c5c5c"/><stop offset="0.7781" stop-color="#626262"/><stop offset="0.807" stop-color="#6c6c6c"/><stop offset="0.8478" stop-color="#7d7d7d"/><stop offset="0.8767" stop-color="#949494"/><stop offset="0.9073" stop-color="#b2b2b2"/><stop offset="0.9617" stop-color="#f4f4f4"/><stop offset="0.9974" stop-color="#f5f5f5"/></linearGradient><linearGradient id="c206" x2="0" y2="1"><stop offset="0.002551" stop-color="#343434"/><stop offset="0.05357" stop-color="#343434"/><stop offset="0.1556" stop-color="#2a2a2a"/><stop offset="0.256" stop-color="#272727"/><stop offset="0.3087" stop-color="#282828"/><stop offset="0.3597" stop-color="#2c2c2c"/><stop offset="0.4175" stop-color="#363636"/><stop offset="0.4447" stop-color="#3d3d3d"/><stop offset="0.494" stop-color="#4f4f4f"/><stop offset="0.5026" stop-color="#4d4d4d"/><stop offset="0.5213" stop-color="#424242"/><stop offset="0.5349" stop-color="#414141"/><stop offset="0.6811" stop-color="#4f4f4f"/><stop offset="0.7491" stop-color="#5c5c5c"/><stop offset="0.807" stop-color="#6c6c6c"/><stop offset="0.8478" stop-color="#7d7d7d"/><stop offset="0.8767" stop-color="#949494"/><stop offset="0.9073" stop-color="#b3b3b3"/><stop offset="0.9617" stop-color="#f4f4f4"/><stop offset="0.9974" stop-color="#f5f5f5"/></linearGradient><linearGradient id="c207" x2="0" y2="1"><stop offset="0.002551" stop-color="#353535"/><stop offset="0.05357" stop-color="#353535"/><stop offset="0.1556" stop-color="#2a2a2a"/><stop offset="0.256" stop-color="#272727"/><stop offset="0.3087" stop-color="#292929"/><stop offset="0.3597" stop-color="#2c2c2c"/><stop offset="0.4481" stop-color="#3c3c3c"/><stop offset="0.4685" stop-color="#434343"/><stop offset="0.4889" stop-color="#555555"/><stop offset="0.4957" stop-color="#585858"/><stop offset="0.5043" stop-color="#555555"/><stop offset="0.523" stop-color="#444444"/><stop offset="0.5366" stop-color="#414141"/><stop offset="0.6777" stop-color="#4f4f4f"/><stop offset="0.7491" stop-color="#5c5c5c"/><stop offset="0.807" stop-color="#6d6d6d"/><stop offset="0.8478" stop-color="#7e7e7e"/><stop offset="0.8767" stop-color="#959595"/><stop offset="0.9005" stop-color="#acacac"/><stop offset="0.9617" stop-color="#f5f5f5"/><stop offset="0.9974" stop-color="#f5f5f5"/></linearGradient><linearGradient id="c208" x2="0" y2="1"><stop offset="0.002551" stop-color="#353535"/><stop offset="0.05357" stop-color="#353535"/><stop offset="0.1556" stop-color="#2b2b2b"/><stop offset="0.256" stop-color="#272727"/><stop offset="0.3087" stop-color="#292929"/><stop offset="0.3597" stop-color="#2d2d2d"/><stop offset="0.4515" stop-color="#3d3d3d"/><stop offset="0.4702" stop-color="#444444"/><stop offset="0.4889" stop-color="#555555"/><stop offset="0.4957" stop-color="#585858"/><stop offset="0.5043" stop-color="#555555"/><stop offset="0.5213" stop-color="#454545"/><stop offset="0.5349" stop-color="#414141"/><stop offset="0.6726" stop-color="#4f4f4f"/><stop offset="0.7491" stop-color="#5d5d5d"/><stop offset="0.807" stop-color="#6d6d6d"/><stop offset="0.8478" stop-color="#7e7e7e"/><stop offset="0.8767" stop-color="#969696"/><stop offset="0.9005" stop-color="#adadad"/><stop offset="0.9226" stop-color="#c6c6c6"/><stop offset="0.96" stop-color="#f3f3f3"/><stop offset="0.9634" stop-color="#f5f5f5"/><stop offset="0.9974" stop-color="#f5f5f5"/></linearGradient><linearGradient id="c209" x2="0" y2="1"><stop offset="0.002551" stop-color="#363636"/><stop offset="0.05357" stop-color="#363636"/><stop offset="0.1556" stop-color="#2b2b2b"/><stop offset="0.256" stop-color="#282828"/><stop offset="0.3087" stop-color="#292929"/><stop offset="0.3597" stop-color="#2d2d2d"/><stop offset="0.4464" stop-color="#3c3c3c"/><stop offset="0.4668" stop-color="#434343"/><stop offset="0.4872" stop-color="#535353"/><stop offset="0.494" stop-color="#555555"/><stop offset="0.5026" stop-color="#545454"/><stop offset="0.523" stop-color="#454545"/><stop offset="0.5366" stop-color="#424242"/><stop offset="0.6692" stop-color="#4f4f4f"/><stop offset="0.7491" stop-color="#5d5d5d"/><stop offset="0.807" stop-color="#6e6e6e"/><stop offset="0.8478" stop-color="#7f7f7f"/><stop offset="0.8767" stop-color="#969696"/><stop offset="0.9005" stop-color="#aeaeae"/><stop offset="0.9226" stop-color="#c6c6c6"/><stop offset="0.96" stop-color="#f4f4f4"/><stop offset="0.9634" stop-color="#f5f5f5"/><stop offset="0.9974" stop-color="#f5f5f5"/></linearGradient><linearGradient id="c210" x2="0" y2="1"><stop offset="0.002551" stop-color="#363636"/><stop offset="0.05357" stop-color="#363636"/><stop offset="0.1556" stop-color="#2b2b2b"/><stop offset="0.256" stop-color="#282828"/><stop offset="0.3597" stop-color="#2d2d2d"/><stop offset="0.4192" stop-color="#373737"/><stop offset="0.4515" stop-color="#404040"/><stop offset="0.4651" stop-color="#4c4c4c"/><stop offset="0.4855" stop-color="#717171"/><stop offset="0.494" stop-color="#797979"/><stop offset="0.4991" stop-color="#777777"/><stop offset="0.5043" stop-color="#717171"/><stop offset="0.5179" stop-color="#575757"/><stop offset="0.5247" stop-color="#4c4c4c"/><stop offset="0.5315" stop-color="#464646"/><stop offset="0.54" stop-color="#444444"/><stop offset="0.6658" stop-color="#4e4e4e"/><stop offset="0.7491" stop-color="#5e5e5e"/><stop offset="0.807" stop-color="#6e6e6e"/><stop offset="0.8478" stop-color="#7f7f7f"/><stop offset="0.8767" stop-color="#979797"/><stop offset="0.9005" stop-color="#aeaeae"/><stop offset="0.9226" stop-color="#c7c7c7"/><stop offset="0.96" stop-color="#f4f4f4"/><stop offset="0.9974" stop-color="#f5f5f5"/></linearGradient><linearGradient id="c211" x2="0" y2="1"><stop offset="0.002551" stop-color="#373737"/><stop offset="0.05357" stop-color="#373737"/><stop offset="0.1556" stop-color="#2c2c2c"/><stop offset="0.256" stop-color="#282828"/><stop offset="0.3597" stop-color="#2d2d2d"/><stop offset="0.4107" stop-color="#363636"/><stop offset="0.4515" stop-color="#444444"/><stop offset="0.4668" stop-color="#515151"/><stop offset="0.4855" stop-color="#717171"/><stop offset="0.494" stop-color="#787878"/><stop offset="0.4974" stop-color="#787878"/><stop offset="0.5026" stop-color="#737373"/><stop offset="0.5179" stop-color="#565656"/><stop offset="0.5247" stop-color="#4c4c4c"/><stop offset="0.5315" stop-color="#474747"/><stop offset="0.54" stop-color="#444444"/><stop offset="0.6658" stop-color="#4f4f4f"/><stop offset="0.7491" stop-color="#5e5e5e"/><stop offset="0.807" stop-color="#6f6f6f"/><stop offset="0.8478" stop-color="#808080"/><stop offset="0.8767" stop-color="#979797"/><stop offset="0.9005" stop-color="#afafaf"/><stop offset="0.9226" stop-color="#c7c7c7"/><stop offset="0.96" stop-color="#f4f4f4"/><stop offset="0.9974" stop-color="#f5f5f5"/></linearGradient><linearGradient id="c212" x2="0" y2="1"><stop offset="0.002551" stop-color="#373737"/><stop offset="0.05357" stop-color="#373737"/><stop offset="0.1556" stop-color="#2c2c2c"/><stop offset="0.256" stop-color="#292929"/><stop offset="0.3087" stop-color="#2a2a2a"/><stop offset="0.358" stop-color="#2d2d2d"/><stop offset="0.3937" stop-color="#353535"/><stop offset="0.4141" stop-color="#3b3b3b"/><stop offset="0.4464" stop-color="#4a4a4a"/><stop offset="0.4617" stop-color="#4e4e4e"/><stop offset="0.4889" stop-color="#4e4e4e"/><stop offset="0.5162" stop-color="#444444"/><stop offset="0.5315" stop-color="#434343"/><stop offset="0.5638" stop-color="#474747"/><stop offset="0.6641" stop-color="#4f4f4f"/><stop offset="0.7491" stop-color="#5e5e5e"/><stop offset="0.807" stop-color="#6f6f6f"/><stop offset="0.8461" stop-color="#7f7f7f"/><stop offset="0.8767" stop-color="#989898"/><stop offset="0.8988" stop-color="#aeaeae"/><stop offset="0.9226" stop-color="#c8c8c8"/><stop offset="0.96" stop-color="#f4f4f4"/><stop offset="0.9974" stop-color="#f5f5f5"/></linearGradient><linearGradient id="c213" x2="0" y2="1"><stop offset="0.002551" stop-color="#383838"/><stop offset="0.05357" stop-color="#383838"/><stop offset="0.1556" stop-color="#2d2d2d"/><stop offset="0.256" stop-color="#292929"/><stop offset="0.3087" stop-color="#2a2a2a"/><stop offset="0.3597" stop-color="#303030"/><stop offset="0.4566" stop-color="#535353"/><stop offset="0.4702" stop-color="#515151"/><stop offset="0.5009" stop-color="#444444"/><stop offset="0.5179" stop-color="#414141"/><stop offset="0.5638" stop-color="#484848"/><stop offset="0.6624" stop-color="#505050"/><stop offset="0.7491" stop-color="#5f5f5f"/><stop offset="0.807" stop-color="#707070"/><stop offset="0.8461" stop-color="#808080"/><stop offset="0.8767" stop-color="#999999"/><stop offset="0.8988" stop-color="#afafaf"/><stop offset="0.9226" stop-color="#c8c8c8"/><stop offset="0.96" stop-color="#f4f4f4"/><stop offset="0.9974" stop-color="#f5f5f5"/></linearGradient><linearGradient id="c214" x2="0" y2="1"><stop offset="0.002551" stop-color="#383838"/><stop offset="0.05357" stop-color="#383838"/><stop offset="0.1556" stop-color="#2d2d2d"/><stop offset="0.256" stop-color="#292929"/><stop offset="0.3087" stop-color="#2a2a2a"/><stop offset="0.3359" stop-color="#2d2d2d"/><stop offset="0.3546" stop-color="#323232"/><stop offset="0.3937" stop-color="#484848"/><stop offset="0.4107" stop-color="#4e4e4e"/><stop offset="0.4634" stop-color="#4e4e4e"/><stop offset="0.4991" stop-color="#434343"/><stop offset="0.5145" stop-color="#404040"/><stop offset="0.5638" stop-color="#484848"/><stop offset="0.6624" stop-color="#505050"/><stop offset="0.7491" stop-color="#606060"/><stop offset="0.807" stop-color="#717171"/><stop offset="0.8461" stop-color="#818181"/><stop offset="0.8767" stop-color="#999999"/><stop offset="0.8988" stop-color="#afafaf"/><stop offset="0.9226" stop-color="#c9c9c9"/><stop offset="0.96" stop-color="#f4f4f4"/><stop offset="0.9974" stop-color="#f5f5f5"/></linearGradient><linearGradient id="c215" x2="0" y2="1"><stop offset="0.002551" stop-color="#393939"/><stop offset="0.05357" stop-color="#393939"/><stop offset="0.1539" stop-color="#2e2e2e"/><stop offset="0.2049" stop-color="#2b2b2b"/><stop offset="0.3087" stop-color="#2a2a2a"/><stop offset="0.3342" stop-color="#2d2d2d"/><stop offset="0.3529" stop-color="#333333"/><stop offset="0.3648" stop-color="#3a3a3a"/><stop offset="0.3937" stop-color="#505050"/><stop offset="0.409" stop-color="#565656"/><stop offset="0.4209" stop-color="#555555"/><stop offset="0.4481" stop-color="#4c4c4c"/><stop offset="0.4855" stop-color="#434343"/><stop offset="0.5111" stop-color="#404040"/><stop offset="0.5638" stop-color="#494949"/><stop offset="0.6607" stop-color="#505050"/><stop offset="0.7491" stop-color="#616161"/><stop offset="0.8087" stop-color="#727272"/><stop offset="0.8461" stop-color="#828282"/><stop offset="0.8767" stop-color="#9a9a9a"/><stop offset="0.8937" stop-color="#ababab"/><stop offset="0.9226" stop-color="#c9c9c9"/><stop offset="0.96" stop-color="#f4f4f4"/><stop offset="0.9974" stop-color="#f5f5f5"/></linearGradient><linearGradient id="c216" x2="0" y2="1"><stop offset="0.002551" stop-color="#393939"/><stop offset="0.05357" stop-color="#393939"/><stop offset="0.1539" stop-color="#2e2e2e"/><stop offset="0.2049" stop-color="#2c2c2c"/><stop offset="0.307" stop-color="#2b2b2b"/><stop offset="0.3529" stop-color="#323232"/><stop offset="0.3937" stop-color="#484848"/><stop offset="0.4107" stop-color="#4d4d4d"/><stop offset="0.4243" stop-color="#4d4d4d"/><stop offset="0.4753" stop-color="#424242"/><stop offset="0.5111" stop-color="#404040"/><stop offset="0.5638" stop-color="#494949"/><stop offset="0.659" stop-color="#515151"/><stop offset="0.7509" stop-color="#626262"/><stop offset="0.8087" stop-color="#737373"/><stop offset="0.8461" stop-color="#838383"/><stop offset="0.8767" stop-color="#9b9b9b"/><stop offset="0.892" stop-color="#aaaaaa"/><stop offset="0.9226" stop-color="#c9c9c9"/><stop offset="0.96" stop-color="#f4f4f4"/><stop offset="0.9974" stop-color="#f5f5f5"/></linearGradient><linearGradient id="c217" x2="0" y2="1"><stop offset="0.002551" stop-color="#3a3a3a"/><stop offset="0.05357" stop-color="#3a3a3a"/><stop offset="0.1539" stop-color="#2f2f2f"/><stop offset="0.2049" stop-color="#2c2c2c"/><stop offset="0.307" stop-color="#2b2b2b"/><stop offset="0.358" stop-color="#303030"/><stop offset="0.3971" stop-color="#3d3d3d"/><stop offset="0.4158" stop-color="#414141"/><stop offset="0.5111" stop-color="#404040"/><stop offset="0.5638" stop-color="#4a4a4a"/><stop offset="0.6573" stop-color="#515151"/><stop offset="0.7509" stop-color="#636363"/><stop offset="0.8087" stop-color="#747474"/><stop offset="0.8461" stop-color="#848484"/><stop offset="0.8665" stop-color="#939393"/><stop offset="0.892" stop-color="#aaaaaa"/><stop offset="0.9226" stop-color="#cacaca"/><stop offset="0.96" stop-color="#f4f4f4"/><stop offset="0.9634" stop-color="#f5f5f5"/><stop offset="0.9974" stop-color="#f5f5f5"/></linearGradient><linearGradient id="c218" x2="0" y2="1"><stop offset="0.002551" stop-color="#3a3a3a"/><stop offset="0.05357" stop-color="#3a3a3a"/><stop offset="0.1539" stop-color="#2f2f2f"/><stop offset="0.2049" stop-color="#2c2c2c"/><stop offset="0.3087" stop-color="#2b2b2b"/><stop offset="0.3597" stop-color="#2f2f2f"/><stop offset="0.3937" stop-color="#363636"/><stop offset="0.426" stop-color="#424242"/><stop offset="0.4549" stop-color="#3f3f3f"/><stop offset="0.5111" stop-color="#414141"/><stop offset="0.5638" stop-color="#4a4a4a"/><stop offset="0.6556" stop-color="#515151"/><stop offset="0.7491" stop-color="#646464"/><stop offset="0.8223" stop-color="#7a7a7a"/><stop offset="0.8478" stop-color="#878787"/><stop offset="0.8767" stop-color="#9d9d9d"/><stop offset="0.9192" stop-color="#c7c7c7"/><stop offset="0.9617" stop-color="#f5f5f5"/><stop offset="0.9974" stop-color="#f5f5f5"/></linearGradient><linearGradient id="c219" x2="0" y2="1"><stop offset="0.002551" stop-color="#3b3b3b"/><stop offset="0.05357" stop-color="#3b3b3b"/><stop offset="0.1539" stop-color="#303030"/><stop offset="0.2049" stop-color="#2d2d2d"/><stop offset="0.3087" stop-color="#2b2b2b"/><stop offset="0.358" stop-color="#2e2e2e"/><stop offset="0.3886" stop-color="#343434"/><stop offset="0.4005" stop-color="#3a3a3a"/><stop offset="0.4192" stop-color="#4a4a4a"/><stop offset="0.426" stop-color="#4d4d4d"/><stop offset="0.4328" stop-color="#4c4c4c"/><stop offset="0.4515" stop-color="#404040"/><stop offset="0.4685" stop-color="#3f3f3f"/><stop offset="0.5128" stop-color="#414141"/><stop offset="0.5638" stop-color="#4b4b4b"/><stop offset="0.6539" stop-color="#525252"/><stop offset="0.7491" stop-color="#656565"/><stop offset="0.8223" stop-color="#7b7b7b"/><stop offset="0.8478" stop-color="#888888"/><stop offset="0.8767" stop-color="#9d9d9d"/><stop offset="0.9175" stop-color="#c5c5c5"/><stop offset="0.9617" stop-color="#f5f5f5"/><stop offset="0.9974" stop-color="#f5f5f5"/></linearGradient><linearGradient id="c220" x2="0" y2="1"><stop offset="0.002551" stop-color="#3b3b3b"/><stop offset="0.05357" stop-color="#3b3b3b"/><stop offset="0.2049" stop-color="#2d2d2d"/><stop offset="0.3087" stop-color="#2b2b2b"/><stop offset="0.358" stop-color="#2e2e2e"/><stop offset="0.3886" stop-color="#343434"/><stop offset="0.4005" stop-color="#3a3a3a"/><stop offset="0.4192" stop-color="#4a4a4a"/><stop offset="0.426" stop-color="#4d4d4d"/><stop offset="0.4328" stop-color="#4c4c4c"/><stop offset="0.4515" stop-color="#404040"/><stop offset="0.4702" stop-color="#3f3f3f"/><stop offset="0.5128" stop-color="#424242"/><stop offset="0.5638" stop-color="#4b4b4b"/><stop offset="0.6522" stop-color="#525252"/><stop offset="0.7015" stop-color="#5b5b5b"/><stop offset="0.7509" stop-color="#666666"/><stop offset="0.807" stop-color="#777777"/><stop offset="0.8223" stop-color="#7c7c7c"/><stop offset="0.8461" stop-color="#888888"/><stop offset="0.8665" stop-color="#969696"/><stop offset="0.892" stop-color="#acacac"/><stop offset="0.9617" stop-color="#f5f5f5"/><stop offset="0.9974" stop-color="#f5f5f5"/></linearGradient><linearGradient id="c221" x2="0" y2="1"><stop offset="0.002551" stop-color="#3b3b3b"/><stop offset="0.05357" stop-color="#3b3b3b"/><stop offset="0.2049" stop-color="#2d2d2d"/><stop offset="0.3087" stop-color="#2c2c2c"/><stop offset="0.358" stop-color="#2f2f2f"/><stop offset="0.3767" stop-color="#323232"/><stop offset="0.3971" stop-color="#373737"/><stop offset="0.426" stop-color="#414141"/><stop offset="0.4549" stop-color="#3e3e3e"/><stop offset="0.5111" stop-color="#434343"/><stop offset="0.5621" stop-color="#4c4c4c"/><stop offset="0.6556" stop-color="#545454"/><stop offset="0.7015" stop-color="#5c5c5c"/><stop offset="0.7509" stop-color="#676767"/><stop offset="0.8223" stop-color="#7d7d7d"/><stop offset="0.8478" stop-color="#8a8a8a"/><stop offset="0.8767" stop-color="#9f9f9f"/><stop offset="0.9005" stop-color="#b5b5b5"/><stop offset="0.9617" stop-color="#f4f4f4"/><stop offset="0.9974" stop-color="#f5f5f5"/></linearGradient><linearGradient id="c222" x2="0" y2="1"><stop offset="0.002551" stop-color="#3b3b3b"/><stop offset="0.05357" stop-color="#3b3b3b"/><stop offset="0.2066" stop-color="#2e2e2e"/><stop offset="0.3087" stop-color="#2c2c2c"/><stop offset="0.3597" stop-color="#303030"/><stop offset="0.4243" stop-color="#3b3b3b"/><stop offset="0.5111" stop-color="#444444"/><stop offset="0.5638" stop-color="#4d4d4d"/><stop offset="0.659" stop-color="#555555"/><stop offset="0.7015" stop-color="#5d5d5d"/><stop offset="0.7662" stop-color="#6d6d6d"/><stop offset="0.8223" stop-color="#7d7d7d"/><stop offset="0.8478" stop-color="#8b8b8b"/><stop offset="0.8767" stop-color="#a0a0a0"/><stop offset="0.9005" stop-color="#b6b6b6"/><stop offset="0.9617" stop-color="#f4f4f4"/><stop offset="0.9974" stop-color="#f5f5f5"/></linearGradient><linearGradient id="c223" x2="0" y2="1"><stop offset="0.002551" stop-color="#3c3c3c"/><stop offset="0.05357" stop-color="#3b3b3b"/><stop offset="0.2066" stop-color="#2e2e2e"/><stop offset="0.3087" stop-color="#2d2d2d"/><stop offset="0.3597" stop-color="#303030"/><stop offset="0.5621" stop-color="#4e4e4e"/><stop offset="0.6624" stop-color="#575757"/><stop offset="0.7015" stop-color="#5d5d5d"/><stop offset="0.8223" stop-color="#7e7e7e"/><stop offset="0.8648" stop-color="#979797"/><stop offset="0.8767" stop-color="#a1a1a1"/><stop offset="0.8937" stop-color="#b0b0b0"/><stop offset="0.9634" stop-color="#f5f5f5"/><stop offset="0.9974" stop-color="#f5f5f5"/></linearGradient><linearGradient id="c224" x2="0" y2="1"><stop offset="0.002551" stop-color="#3c3c3c"/><stop offset="0.05357" stop-color="#3c3c3c"/><stop offset="0.2066" stop-color="#2f2f2f"/><stop offset="0.3087" stop-color="#2d2d2d"/><stop offset="0.3597" stop-color="#313131"/><stop offset="0.5621" stop-color="#4e4e4e"/><stop offset="0.6658" stop-color="#585858"/><stop offset="0.7015" stop-color="#5e5e5e"/><stop offset="0.8223" stop-color="#7f7f7f"/><stop offset="0.8665" stop-color="#999999"/><stop offset="0.892" stop-color="#afafaf"/><stop offset="0.9634" stop-color="#f5f5f5"/><stop offset="0.9974" stop-color="#f5f5f5"/></linearGradient><linearGradient id="c225" x2="0" y2="1"><stop offset="0.002551" stop-color="#3c3c3c"/><stop offset="0.1029" stop-color="#393939"/><stop offset="0.2066" stop-color="#2f2f2f"/><stop offset="0.3087" stop-color="#2e2e2e"/><stop offset="0.3597" stop-color="#313131"/><stop offset="0.4243" stop-color="#3e3e3e"/><stop offset="0.4719" stop-color="#424242"/><stop offset="0.5621" stop-color="#4f4f4f"/><stop offset="0.6709" stop-color="#595959"/><stop offset="0.7015" stop-color="#5f5f5f"/><stop offset="0.8223" stop-color="#808080"/><stop offset="0.8665" stop-color="#9a9a9a"/><stop offset="0.892" stop-color="#afafaf"/><stop offset="0.9634" stop-color="#f5f5f5"/><stop offset="0.9974" stop-color="#f5f5f5"/></linearGradient><linearGradient id="c226" x2="0" y2="1"><stop offset="0.002551" stop-color="#3c3c3c"/><stop offset="0.1029" stop-color="#393939"/><stop offset="0.2066" stop-color="#303030"/><stop offset="0.3087" stop-color="#2e2e2e"/><stop offset="0.3665" stop-color="#343434"/><stop offset="0.3852" stop-color="#3a3a3a"/><stop offset="0.4141" stop-color="#484848"/><stop offset="0.426" stop-color="#4b4b4b"/><stop offset="0.4379" stop-color="#4b4b4b"/><stop offset="0.4651" stop-color="#454545"/><stop offset="0.4821" stop-color="#444444"/><stop offset="0.5638" stop-color="#505050"/><stop offset="0.6777" stop-color="#5b5b5b"/><stop offset="0.7015" stop-color="#5f5f5f"/><stop offset="0.8223" stop-color="#818181"/><stop offset="0.8665" stop-color="#9b9b9b"/><stop offset="0.892" stop-color="#b0b0b0"/><stop offset="0.9634" stop-color="#f5f5f5"/><stop offset="0.9974" stop-color="#f5f5f5"/></linearGradient><linearGradient id="c227" x2="0" y2="1"><stop offset="0.002551" stop-color="#3c3c3c"/><stop offset="0.1029" stop-color="#3a3a3a"/><stop offset="0.2066" stop-color="#303030"/><stop offset="0.3087" stop-color="#2f2f2f"/><stop offset="0.3529" stop-color="#323232"/><stop offset="0.3682" stop-color="#353535"/><stop offset="0.3852" stop-color="#3d3d3d"/><stop offset="0.4141" stop-color="#525252"/><stop offset="0.426" stop-color="#565656"/><stop offset="0.4379" stop-color="#545454"/><stop offset="0.4668" stop-color="#484848"/><stop offset="0.4821" stop-color="#464646"/><stop offset="0.5638" stop-color="#515151"/><stop offset="0.6828" stop-color="#5c5c5c"/><stop offset="0.7662" stop-color="#717171"/><stop offset="0.8223" stop-color="#818181"/><stop offset="0.8665" stop-color="#9c9c9c"/><stop offset="0.9158" stop-color="#c7c7c7"/><stop offset="0.9617" stop-color="#f4f4f4"/><stop offset="0.9974" stop-color="#f5f5f5"/></linearGradient><linearGradient id="c228" x2="0" y2="1"><stop offset="0.002551" stop-color="#3c3c3c"/><stop offset="0.1029" stop-color="#3a3a3a"/><stop offset="0.2066" stop-color="#313131"/><stop offset="0.3087" stop-color="#2f2f2f"/><stop offset="0.3682" stop-color="#353535"/><stop offset="0.3852" stop-color="#3a3a3a"/><stop offset="0.4141" stop-color="#484848"/><stop offset="0.426" stop-color="#4b4b4b"/><stop offset="0.4379" stop-color="#4b4b4b"/><stop offset="0.4634" stop-color="#454545"/><stop offset="0.4787" stop-color="#454545"/><stop offset="0.5638" stop-color="#525252"/><stop offset="0.6862" stop-color="#5d5d5d"/><stop offset="0.7662" stop-color="#717171"/><stop offset="0.8223" stop-color="#828282"/><stop offset="0.8665" stop-color="#9c9c9c"/><stop offset="0.9158" stop-color="#c7c7c7"/><stop offset="0.96" stop-color="#f4f4f4"/><stop offset="0.9634" stop-color="#f5f5f5"/><stop offset="0.9974" stop-color="#f5f5f5"/></linearGradient><linearGradient id="c229" x2="0" y2="1"><stop offset="0.002551" stop-color="#3c3c3c"/><stop offset="0.1029" stop-color="#3b3b3b"/><stop offset="0.2066" stop-color="#313131"/><stop offset="0.3087" stop-color="#303030"/><stop offset="0.3699" stop-color="#353535"/><stop offset="0.4345" stop-color="#444444"/><stop offset="0.4736" stop-color="#454545"/><stop offset="0.5128" stop-color="#4c4c4c"/><stop offset="0.6131" stop-color="#595959"/><stop offset="0.6879" stop-color="#5e5e5e"/><stop offset="0.7662" stop-color="#727272"/><stop offset="0.8206" stop-color="#828282"/><stop offset="0.8665" stop-color="#9d9d9d"/><stop offset="0.9158" stop-color="#c7c7c7"/><stop offset="0.96" stop-color="#f4f4f4"/><stop offset="0.9974" stop-color="#f5f5f5"/></linearGradient><linearGradient id="c230" x2="0" y2="1"><stop offset="0.002551" stop-color="#3d3d3d"/><stop offset="0.1029" stop-color="#3b3b3b"/><stop offset="0.2066" stop-color="#313131"/><stop offset="0.3087" stop-color="#303030"/><stop offset="0.3597" stop-color="#333333"/><stop offset="0.3886" stop-color="#3a3a3a"/><stop offset="0.4039" stop-color="#444444"/><stop offset="0.4294" stop-color="#606060"/><stop offset="0.4396" stop-color="#656565"/><stop offset="0.4498" stop-color="#636363"/><stop offset="0.4753" stop-color="#4e4e4e"/><stop offset="0.4906" stop-color="#4a4a4a"/><stop offset="0.6148" stop-color="#595959"/><stop offset="0.6879" stop-color="#5f5f5f"/><stop offset="0.8104" stop-color="#7e7e7e"/><stop offset="0.8206" stop-color="#838383"/><stop offset="0.8665" stop-color="#9e9e9e"/><stop offset="0.9158" stop-color="#c8c8c8"/><stop offset="0.9583" stop-color="#f3f3f3"/><stop offset="0.9634" stop-color="#f5f5f5"/><stop offset="0.9974" stop-color="#f5f5f5"/></linearGradient><linearGradient id="c231" x2="0" y2="1"><stop offset="0.002551" stop-color="#3d3d3d"/><stop offset="0.1029" stop-color="#3b3b3b"/><stop offset="0.2049" stop-color="#313131"/><stop offset="0.256" stop-color="#303030"/><stop offset="0.3087" stop-color="#303030"/><stop offset="0.3614" stop-color="#333333"/><stop offset="0.3818" stop-color="#383838"/><stop offset="0.3954" stop-color="#404040"/><stop offset="0.4073" stop-color="#4f4f4f"/><stop offset="0.4294" stop-color="#747474"/><stop offset="0.4345" stop-color="#7a7a7a"/><stop offset="0.4396" stop-color="#7c7c7c"/><stop offset="0.4447" stop-color="#7b7b7b"/><stop offset="0.4498" stop-color="#777777"/><stop offset="0.4685" stop-color="#5c5c5c"/><stop offset="0.477" stop-color="#525252"/><stop offset="0.4923" stop-color="#4b4b4b"/><stop offset="0.6148" stop-color="#595959"/><stop offset="0.6845" stop-color="#5f5f5f"/><stop offset="0.8121" stop-color="#7f7f7f"/><stop offset="0.8648" stop-color="#9e9e9e"/><stop offset="0.9158" stop-color="#c8c8c8"/><stop offset="0.9396" stop-color="#e2e2e2"/><stop offset="0.9583" stop-color="#f4f4f4"/><stop offset="0.9974" stop-color="#f5f5f5"/></linearGradient><linearGradient id="c232" x2="0" y2="1"><stop offset="0.002551" stop-color="#3d3d3d"/><stop offset="0.1029" stop-color="#3b3b3b"/><stop offset="0.2066" stop-color="#313131"/><stop offset="0.3087" stop-color="#303030"/><stop offset="0.3597" stop-color="#333333"/><stop offset="0.3869" stop-color="#373737"/><stop offset="0.4022" stop-color="#3c3c3c"/><stop offset="0.4277" stop-color="#4a4a4a"/><stop offset="0.4396" stop-color="#4e4e4e"/><stop offset="0.4855" stop-color="#484848"/><stop offset="0.6131" stop-color="#595959"/><stop offset="0.6828" stop-color="#5f5f5f"/><stop offset="0.8121" stop-color="#808080"/><stop offset="0.858" stop-color="#999999"/><stop offset="0.9158" stop-color="#c8c8c8"/><stop offset="0.9379" stop-color="#e1e1e1"/><stop offset="0.9583" stop-color="#f4f4f4"/><stop offset="0.9974" stop-color="#f5f5f5"/></linearGradient></defs><g filter="url(#cm)"><rect x="168" y="197" width="4" height="588" fill="url(#c0)"/><rect x="172" y="197" width="4" height="588" fill="url(#c1)"/><rect x="176" y="197" width="4" height="588" fill="url(#c2)"/><rect x="180" y="197" width="4" height="588" fill="url(#c3)"/><rect x="184" y="197" width="4" height="588" fill="url(#c4)"/><rect x="188" y="197" width="4" height="588" fill="url(#c5)"/><rect x="192" y="197" width="4" height="588" fill="url(#c6)"/><rect x="196" y="197" width="4" height="588" fill="url(#c7)"/><rect x="200" y="197" width="4" height="588" fill="url(#c8)"/><rect x="204" y="197" width="4" height="588" fill="url(#c9)"/><rect x="208" y="197" width="4" height="588" fill="url(#c10)"/><rect x="212" y="197" width="4" height="588" fill="url(#c11)"/><rect x="216" y="197" width="4" height="588" fill="url(#c12)"/><rect x="220" y="197" width="4" height="588" fill="url(#c13)"/><rect x="224" y="197" width="4" height="588" fill="url(#c14)"/><rect x="228" y="197" width="4" height="588" fill="url(#c15)"/><rect x="232" y="197" width="4" height="588" fill="url(#c16)"/><rect x="236" y="197" width="4" height="588" fill="url(#c17)"/><rect x="240" y="197" width="4" height="588" fill="url(#c18)"/><rect x="244" y="197" width="4" height="588" fill="url(#c19)"/><rect x="248" y="197" width="4" height="588" fill="url(#c20)"/><rect x="252" y="197" width="4" height="588" fill="url(#c21)"/><rect x="256" y="197" width="4" height="588" fill="url(#c22)"/><rect x="260" y="197" width="4" height="588" fill="url(#c23)"/><rect x="264" y="197" width="4" height="588" fill="url(#c24)"/><rect x="268" y="197" width="4" height="588" fill="url(#c25)"/><rect x="272" y="197" width="4" height="588" fill="url(#c26)"/><rect x="276" y="197" width="4" height="588" fill="url(#c27)"/><rect x="280" y="197" width="4" height="588" fill="url(#c28)"/><rect x="284" y="197" width="4" height="588" fill="url(#c29)"/><rect x="288" y="197" width="4" height="588" fill="url(#c30)"/><rect x="292" y="197" width="4" height="588" fill="url(#c31)"/><rect x="296" y="197" width="4" height="588" fill="url(#c32)"/><rect x="300" y="197" width="4" height="588" fill="url(#c33)"/><rect x="304" y="197" width="4" height="588" fill="url(#c34)"/><rect x="308" y="197" width="4" height="588" fill="url(#c35)"/><rect x="312" y="197" width="4" height="588" fill="url(#c36)"/><rect x="316" y="197" width="4" height="588" fill="url(#c37)"/><rect x="320" y="197" width="4" height="588" fill="url(#c38)"/><rect x="324" y="197" width="4" height="588" fill="url(#c39)"/><rect x="328" y="197" width="4" height="588" fill="url(#c40)"/><rect x="332" y="197" width="4" height="588" fill="url(#c41)"/><rect x="336" y="197" width="4" height="588" fill="url(#c42)"/><rect x="340" y="197" width="4" height="588" fill="url(#c43)"/><rect x="344" y="197" width="4" height="588" fill="url(#c44)"/><rect x="348" y="197" width="4" height="588" fill="url(#c45)"/><rect x="352" y="197" width="4" height="588" fill="url(#c46)"/><rect x="356" y="197" width="4" height="588" fill="url(#c47)"/><rect x="360" y="197" width="4" height="588" fill="url(#c48)"/><rect x="364" y="197" width="4" height="588" fill="url(#c49)"/><rect x="368" y="197" width="4" height="588" fill="url(#c50)"/><rect x="372" y="197" width="4" height="588" fill="url(#c51)"/><rect x="376" y="197" width="4" height="588" fill="url(#c52)"/><rect x="380" y="197" width="4" height="588" fill="url(#c53)"/><rect x="384" y="197" width="4" height="588" fill="url(#c54)"/><rect x="388" y="197" width="4" height="588" fill="url(#c55)"/><rect x="392" y="197" width="4" height="588" fill="url(#c56)"/><rect x="396" y="197" width="4" height="588" fill="url(#c57)"/><rect x="400" y="197" width="4" height="588" fill="url(#c58)"/><rect x="404" y="197" width="4" height="588" fill="url(#c59)"/><rect x="408" y="197" width="4" height="588" fill="url(#c60)"/><rect x="412" y="197" width="4" height="588" fill="url(#c61)"/><rect x="416" y="197" width="4" height="588" fill="url(#c62)"/><rect x="420" y="197" width="4" height="588" fill="url(#c63)"/><rect x="424" y="197" width="4" height="588" fill="url(#c64)"/><rect x="428" y="197" width="4" height="588" fill="url(#c65)"/><rect x="432" y="197" width="4" height="588" fill="url(#c66)"/><rect x="436" y="197" width="4" height="588" fill="url(#c67)"/><rect x="440" y="197" width="4" height="588" fill="url(#c68)"/><rect x="444" y="197" width="4" height="588" fill="url(#c69)"/><rect x="448" y="197" width="4" height="588" fill="url(#c70)"/><rect x="452" y="197" width="4" height="588" fill="url(#c71)"/><rect x="456" y="197" width="4" height="588" fill="url(#c72)"/><rect x="460" y="197" width="4" height="588" fill="url(#c73)"/><rect x="464" y="197" width="4" height="588" fill="url(#c74)"/><rect x="468" y="197" width="4" height="588" fill="url(#c75)"/><rect x="472" y="197" width="4" height="588" fill="url(#c76)"/><rect x="476" y="197" width="4" height="588" fill="url(#c77)"/><rect x="480" y="197" width="4" height="588" fill="url(#c78)"/><rect x="484" y="197" width="4" height="588" fill="url(#c79)"/><rect x="488" y="197" width="4" height="588" fill="url(#c80)"/><rect x="492" y="197" width="4" height="588" fill="url(#c81)"/><rect x="496" y="197" width="4" height="588" fill="url(#c82)"/><rect x="500" y="197" width="4" height="588" fill="url(#c83)"/><rect x="504" y="197" width="4" height="588" fill="url(#c84)"/><rect x="508" y="197" width="4" height="588" fill="url(#c85)"/><rect x="512" y="197" width="4" height="588" fill="url(#c86)"/><rect x="516" y="197" width="4" height="588" fill="url(#c87)"/><rect x="520" y="197" width="4" height="588" fill="url(#c88)"/><rect x="524" y="197" width="4" height="588" fill="url(#c89)"/><rect x="528" y="197" width="4" height="588" fill="url(#c90)"/><rect x="532" y="197" width="4" height="588" fill="url(#c91)"/><rect x="536" y="197" width="4" height="588" fill="url(#c92)"/><rect x="540" y="197" width="4" height="588" fill="url(#c93)"/><rect x="544" y="197" width="4" height="588" fill="url(#c94)"/><rect x="548" y="197" width="4" height="588" fill="url(#c95)"/><rect x="552" y="197" width="4" height="588" fill="url(#c96)"/><rect x="556" y="197" width="4" height="588" fill="url(#c97)"/><rect x="560" y="197" width="4" height="588" fill="url(#c98)"/><rect x="564" y="197" width="4" height="588" fill="url(#c99)"/><rect x="568" y="197" width="4" height="588" fill="url(#c100)"/><rect x="572" y="197" width="4" height="588" fill="url(#c101)"/><rect x="576" y="197" width="4" height="588" fill="url(#c102)"/><rect x="580" y="197" width="4" height="588" fill="url(#c103)"/><rect x="584" y="197" width="4" height="588" fill="url(#c104)"/><rect x="588" y="197" width="4" height="588" fill="url(#c105)"/><rect x="592" y="197" width="4" height="588" fill="url(#c106)"/><rect x="596" y="197" width="4" height="588" fill="url(#c107)"/><rect x="600" y="197" width="4" height="588" fill="url(#c108)"/><rect x="604" y="197" width="4" height="588" fill="url(#c109)"/><rect x="608" y="197" width="4" height="588" fill="url(#c110)"/><rect x="612" y="197" width="4" height="588" fill="url(#c111)"/><rect x="616" y="197" width="4" height="588" fill="url(#c112)"/><rect x="620" y="197" width="4" height="588" fill="url(#c113)"/><rect x="624" y="197" width="4" height="588" fill="url(#c114)"/><rect x="628" y="197" width="4" height="588" fill="url(#c115)"/><rect x="632" y="197" width="4" height="588" fill="url(#c116)"/><rect x="636" y="197" width="4" height="588" fill="url(#c117)"/><rect x="640" y="197" width="4" height="588" fill="url(#c118)"/><rect x="644" y="197" width="4" height="588" fill="url(#c119)"/><rect x="648" y="197" width="4" height="588" fill="url(#c120)"/><rect x="652" y="197" width="4" height="588" fill="url(#c121)"/><rect x="656" y="197" width="4" height="588" fill="url(#c122)"/><rect x="660" y="197" width="4" height="588" fill="url(#c123)"/><rect x="664" y="197" width="4" height="588" fill="url(#c124)"/><rect x="668" y="197" width="4" height="588" fill="url(#c125)"/><rect x="672" y="197" width="4" height="588" fill="url(#c126)"/><rect x="676" y="197" width="4" height="588" fill="url(#c127)"/><rect x="680" y="197" width="4" height="588" fill="url(#c128)"/><rect x="684" y="197" width="4" height="588" fill="url(#c129)"/><rect x="688" y="197" width="4" height="588" fill="url(#c130)"/><rect x="692" y="197" width="4" height="588" fill="url(#c131)"/><rect x="696" y="197" width="4" height="588" fill="url(#c132)"/><rect x="700" y="197" width="4" height="588" fill="url(#c133)"/><rect x="704" y="197" width="4" height="588" fill="url(#c134)"/><rect x="708" y="197" width="4" height="588" fill="url(#c135)"/><rect x="712" y="197" width="4" height="588" fill="url(#c136)"/><rect x="716" y="197" width="4" height="588" fill="url(#c137)"/><rect x="720" y="197" width="4" height="588" fill="url(#c138)"/><rect x="724" y="197" width="4" height="588" fill="url(#c139)"/><rect x="728" y="197" width="4" height="588" fill="url(#c140)"/><rect x="732" y="197" width="4" height="588" fill="url(#c141)"/><rect x="736" y="197" width="4" height="588" fill="url(#c142)"/><rect x="740" y="197" width="4" height="588" fill="url(#c143)"/><rect x="744" y="197" width="4" height="588" fill="url(#c144)"/><rect x="748" y="197" width="4" height="588" fill="url(#c145)"/><rect x="752" y="197" width="4" height="588" fill="url(#c146)"/><rect x="756" y="197" width="4" height="588" fill="url(#c147)"/><rect x="760" y="197" width="4" height="588" fill="url(#c148)"/><rect x="764" y="197" width="4" height="588" fill="url(#c149)"/><rect x="768" y="197" width="4" height="588" fill="url(#c150)"/><rect x="772" y="197" width="4" height="588" fill="url(#c151)"/><rect x="776" y="197" width="4" height="588" fill="url(#c152)"/><rect x="780" y="197" width="4" height="588" fill="url(#c153)"/><rect x="784" y="197" width="4" height="588" fill="url(#c154)"/><rect x="788" y="197" width="4" height="588" fill="url(#c155)"/><rect x="792" y="197" width="4" height="588" fill="url(#c156)"/><rect x="796" y="197" width="4" height="588" fill="url(#c157)"/><rect x="800" y="197" width="4" height="588" fill="url(#c158)"/><rect x="804" y="197" width="4" height="588" fill="url(#c159)"/><rect x="808" y="197" width="4" height="588" fill="url(#c160)"/><rect x="812" y="197" width="4" height="588" fill="url(#c161)"/><rect x="816" y="197" width="4" height="588" fill="url(#c162)"/><rect x="820" y="197" width="4" height="588" fill="url(#c163)"/><rect x="824" y="197" width="4" height="588" fill="url(#c164)"/><rect x="828" y="197" width="4" height="588" fill="url(#c165)"/><rect x="832" y="197" width="4" height="588" fill="url(#c166)"/><rect x="836" y="197" width="4" height="588" fill="url(#c167)"/><rect x="840" y="197" width="4" height="588" fill="url(#c168)"/><rect x="844" y="197" width="4" height="588" fill="url(#c169)"/><rect x="848" y="197" width="4" height="588" fill="url(#c170)"/><rect x="852" y="197" width="4" height="588" fill="url(#c171)"/><rect x="856" y="197" width="4" height="588" fill="url(#c172)"/><rect x="860" y="197" width="4" height="588" fill="url(#c173)"/><rect x="864" y="197" width="4" height="588" fill="url(#c174)"/><rect x="868" y="197" width="4" height="588" fill="url(#c175)"/><rect x="872" y="197" width="4" height="588" fill="url(#c176)"/><rect x="876" y="197" width="4" height="588" fill="url(#c177)"/><rect x="880" y="197" width="4" height="588" fill="url(#c178)"/><rect x="884" y="197" width="4" height="588" fill="url(#c179)"/><rect x="888" y="197" width="4" height="588" fill="url(#c180)"/><rect x="892" y="197" width="4" height="588" fill="url(#c181)"/><rect x="896" y="197" width="4" height="588" fill="url(#c182)"/><rect x="900" y="197" width="4" height="588" fill="url(#c183)"/><rect x="904" y="197" width="4" height="588" fill="url(#c184)"/><rect x="908" y="197" width="4" height="588" fill="url(#c185)"/><rect x="912" y="197" width="4" height="588" fill="url(#c186)"/><rect x="916" y="197" width="4" height="588" fill="url(#c187)"/><rect x="920" y="197" width="4" height="588" fill="url(#c188)"/><rect x="924" y="197" width="4" height="588" fill="url(#c189)"/><rect x="928" y="197" width="4" height="588" fill="url(#c190)"/><rect x="932" y="197" width="4" height="588" fill="url(#c191)"/><rect x="936" y="197" width="4" height="588" fill="url(#c192)"/><rect x="940" y="197" width="4" height="588" fill="url(#c193)"/><rect x="944" y="197" width="4" height="588" fill="url(#c194)"/><rect x="948" y="197" width="4" height="588" fill="url(#c195)"/><rect x="952" y="197" width="4" height="588" fill="url(#c196)"/><rect x="956" y="197" width="4" height="588" fill="url(#c197)"/><rect x="960" y="197" width="4" height="588" fill="url(#c198)"/><rect x="964" y="197" width="4" height="588" fill="url(#c199)"/><rect x="968" y="197" width="4" height="588" fill="url(#c200)"/><rect x="972" y="197" width="4" height="588" fill="url(#c201)"/><rect x="976" y="197" width="4" height="588" fill="url(#c202)"/><rect x="980" y="197" width="4" height="588" fill="url(#c203)"/><rect x="984" y="197" width="4" height="588" fill="url(#c204)"/><rect x="988" y="197" width="4" height="588" fill="url(#c205)"/><rect x="992" y="197" width="4" height="588" fill="url(#c206)"/><rect x="996" y="197" width="4" height="588" fill="url(#c207)"/><rect x="1000" y="197" width="4" height="588" fill="url(#c208)"/><rect x="1004" y="197" width="4" height="588" fill="url(#c209)"/><rect x="1008" y="197" width="4" height="588" fill="url(#c210)"/><rect x="1012" y="197" width="4" height="588" fill="url(#c211)"/><rect x="1016" y="197" width="4" height="588" fill="url(#c212)"/><rect x="1020" y="197" width="4" height="588" fill="url(#c213)"/><rect x="1024" y="197" width="4" height="588" fill="url(#c214)"/><rect x="1028" y="197" width="4" height="588" fill="url(#c215)"/><rect x="1032" y="197" width="4" height="588" fill="url(#c216)"/><rect x="1036" y="197" width="4" height="588" fill="url(#c217)"/><rect x="1040" y="197" width="4" height="588" fill="url(#c218)"/><rect x="1044" y="197" width="4" height="588" fill="url(#c219)"/><rect x="1048" y="197" width="4" height="588" fill="url(#c220)"/><rect x="1052" y="197" width="4" height="588" fill="url(#c221)"/><rect x="1056" y="197" width="4" height="588" fill="url(#c222)"/><rect x="1060" y="197" width="4" height="588" fill="url(#c223)"/><rect x="1064" y="197" width="4" height="588" fill="url(#c224)"/><rect x="1068" y="197" width="4" height="588" fill="url(#c225)"/><rect x="1072" y="197" width="4" height="588" fill="url(#c226)"/><rect x="1076" y="197" width="4" height="588" fill="url(#c227)"/><rect x="1080" y="197" width="4" height="588" fill="url(#c228)"/><rect x="1084" y="197" width="4" height="588" fill="url(#c229)"/><rect x="1088" y="197" width="4" height="588" fill="url(#c230)"/><rect x="1092" y="197" width="4" height="588" fill="url(#c231)"/><rect x="1096" y="197" width="4" height="588" fill="url(#c232)"/></g>
</svg>
<svg width="1600" height="1000" viewBox="0 0 1600 1000">
<defs><linearGradient id="cb" x1="0" y1="1" x2="0" y2="0"><stop offset="0.0000" stop-color="rgb(8,0,8)"/><stop offset="0.0500" stop-color="rgb(20,0,20)"/><stop offset="0.0625" stop-color="rgb(32,0,48)"/><stop offset="0.0813" stop-color="rgb(56,0,80)"/><stop offset="0.1187" stop-color="rgb(80,0,126)"/><stop offset="0.1250" stop-color="rgb(76,0,140)"/><stop offset="0.1313" stop-color="rgb(72,0,154)"/><stop offset="0.1750" stop-color="rgb(52,0,196)"/><stop offset="0.2250" stop-color="rgb(8,0,240)"/><stop offset="0.2437" stop-color="rgb(0,16,255)"/><stop offset="0.2575" stop-color="rgb(0,48,255)"/><stop offset="0.2800" stop-color="rgb(0,104,255)"/><stop offset="0.3100" stop-color="rgb(0,144,255)"/><stop offset="0.3400" stop-color="rgb(0,192,255)"/><stop offset="0.3713" stop-color="rgb(0,240,255)"/><stop offset="0.3812" stop-color="rgb(0,248,240)"/><stop offset="0.4100" stop-color="rgb(0,255,208)"/><stop offset="0.4500" stop-color="rgb(0,255,144)"/><stop offset="0.4938" stop-color="rgb(0,255,64)"/><stop offset="0.5125" stop-color="rgb(0,255,0)"/><stop offset="0.5413" stop-color="rgb(32,255,0)"/><stop offset="0.5813" stop-color="rgb(144,255,0)"/><stop offset="0.6188" stop-color="rgb(200,255,0)"/><stop offset="0.6312" stop-color="rgb(240,255,0)"/><stop offset="0.6750" stop-color="rgb(255,255,0)"/><stop offset="0.7125" stop-color="rgb(255,224,0)"/><stop offset="0.7438" stop-color="rgb(255,176,0)"/><stop offset="0.7600" stop-color="rgb(255,160,0)"/><stop offset="0.7937" stop-color="rgb(255,120,0)"/><stop offset="0.8337" stop-color="rgb(255,72,0)"/><stop offset="0.8688" stop-color="rgb(255,32,0)"/><stop offset="0.8825" stop-color="rgb(255,0,0)"/><stop offset="0.9225" stop-color="rgb(255,0,0)"/><stop offset="0.9413" stop-color="rgb(224,0,0)"/><stop offset="0.9675" stop-color="rgb(192,0,0)"/><stop offset="1.0000" stop-color="rgb(160,0,0)"/></linearGradient></defs><rect x="1366" y="227.7" width="23" height="525.1" fill="url(#cb)" stroke="#000" stroke-width="3"/><line x1="1366" y1="293.34" x2="1389" y2="293.34" stroke="#000" stroke-width="3"/><line x1="1366" y1="358.97" x2="1389" y2="358.97" stroke="#000" stroke-width="3"/><line x1="1366" y1="424.61" x2="1389" y2="424.61" stroke="#000" stroke-width="3"/><line x1="1366" y1="490.25" x2="1389" y2="490.25" stroke="#000" stroke-width="3"/><line x1="1366" y1="555.89" x2="1389" y2="555.89" stroke="#000" stroke-width="3"/><line x1="1366" y1="621.52" x2="1389" y2="621.52" stroke="#000" stroke-width="3"/><line x1="1366" y1="687.16" x2="1389" y2="687.16" stroke="#000" stroke-width="3"/><text x="1403" y="306.8" class="t cb">7.61</text><text x="1403" y="372.5" class="t cb">5.88</text><text x="1403" y="438.1" class="t cb">4.55</text><text x="1403" y="503.7" class="t cb">3.51</text><text x="1403" y="569.4" class="t cb">2.72</text><text x="1403" y="635.0" class="t cb">2.10</text><text x="1403" y="700.7" class="t cb">1.62</text>
<path d="M168 198.5H1188M168 783.5H1188" stroke="#000" stroke-width="3" fill="none"/><path d="M168 197V785M1188 197V785" stroke="#000" stroke-width="4" fill="none"/><path d="M168 198.5V186M168 783.5V795M253 198.5V192M253 783.5V789M338 198.5V192M338 783.5V789M423 198.5V186M423 783.5V795M508 198.5V192M508 783.5V789M593 198.5V192M593 783.5V789M678 198.5V186M678 783.5V795M763 198.5V192M763 783.5V789M848 198.5V192M848 783.5V789M933 198.5V186M933 783.5V795M1018 198.5V192M1018 783.5V789M1103 198.5V192M1103 783.5V789M1188 198.5V186M1188 783.5V795" stroke="#000" stroke-width="4" fill="none"/><path d="M168 198.50H148M1188 198.50H1209M168 282.07H148M1188 282.07H1209M168 365.64H148M1188 365.64H1209M168 449.21H148M1188 449.21H1209M168 532.79H148M1188 532.79H1209M168 616.36H148M1188 616.36H1209M168 699.93H148M1188 699.93H1209M168 783.50H148M1188 783.50H1209" stroke="#000" stroke-width="3" fill="none"/>
<text transform="translate(183 90) scale(0.9 1)" class="t title">NYA6 5577 Å</text><text transform="translate(183 120) scale(0.985 1)" class="t sub">2020-01-24 09:00-10:00 UT</text><text x="677" y="132" class="t ax" text-anchor="middle">MLT</text><text x="168" y="169" class="t ax" text-anchor="middle">11.6</text><text x="423" y="169" class="t ax" text-anchor="middle">11.9</text><text x="678" y="169" class="t ax" text-anchor="middle">12.1</text><text x="933" y="169" class="t ax" text-anchor="middle">12.4</text><text x="1188" y="169" class="t ax" text-anchor="middle">12.6</text><text x="168" y="849" class="t ax" text-anchor="middle">09:00</text><text x="423" y="849" class="t ax" text-anchor="middle">09:15</text><text x="678" y="849" class="t ax" text-anchor="middle">09:30</text><text x="933" y="849" class="t ax" text-anchor="middle">09:45</text><text x="1188" y="849" class="t ax" text-anchor="middle">10:00</text><text x="678" y="895" class="t ax" text-anchor="middle">Time UT</text><text x="136" y="223.5" class="t ax" text-anchor="end">18.1</text><text x="136" y="295" class="t ax" text-anchor="end">40.8</text><text x="136" y="380" class="t ax" text-anchor="end">61.6</text><text x="136" y="462.5" class="t ax" text-anchor="end">80.7</text><text x="136" y="545" class="t ax" text-anchor="end">81.3</text><text x="136" y="631" class="t ax" text-anchor="end">62.2</text><text x="136" y="713.5" class="t ax" text-anchor="end">41.2</text><text x="136" y="782.5" class="t ax" text-anchor="end">18.0</text><text x="1220.5" y="223.75" class="t ax">80.5</text><text x="1220.5" y="296" class="t ax">78.0</text><text x="1220.5" y="380" class="t ax">77.1</text><text x="1220.5" y="462.5" class="t ax">76.6</text><text x="1220.5" y="546" class="t ax">76.2</text><text x="1220.5" y="631" class="t ax">75.7</text><text x="1220.5" y="713.5" class="t ax">74.9</text><text x="1220.5" y="782.5" class="t ax">72.4</text><text transform="translate(39.2 490) rotate(-90) scale(0.933 1)" class="t ax" style="font-size:34.3px" text-anchor="middle">Elevation</text><text transform="translate(1324.3 489) rotate(-90) scale(0.917 1)" class="t ax" style="font-size:34.9px" text-anchor="middle">MLAT</text><text transform="translate(1506.2 489.5) rotate(-90) scale(0.897 1)" class="t ax" style="font-size:36.6px" text-anchor="middle">Brightness [kR]</text>
</svg>
</body></html>
